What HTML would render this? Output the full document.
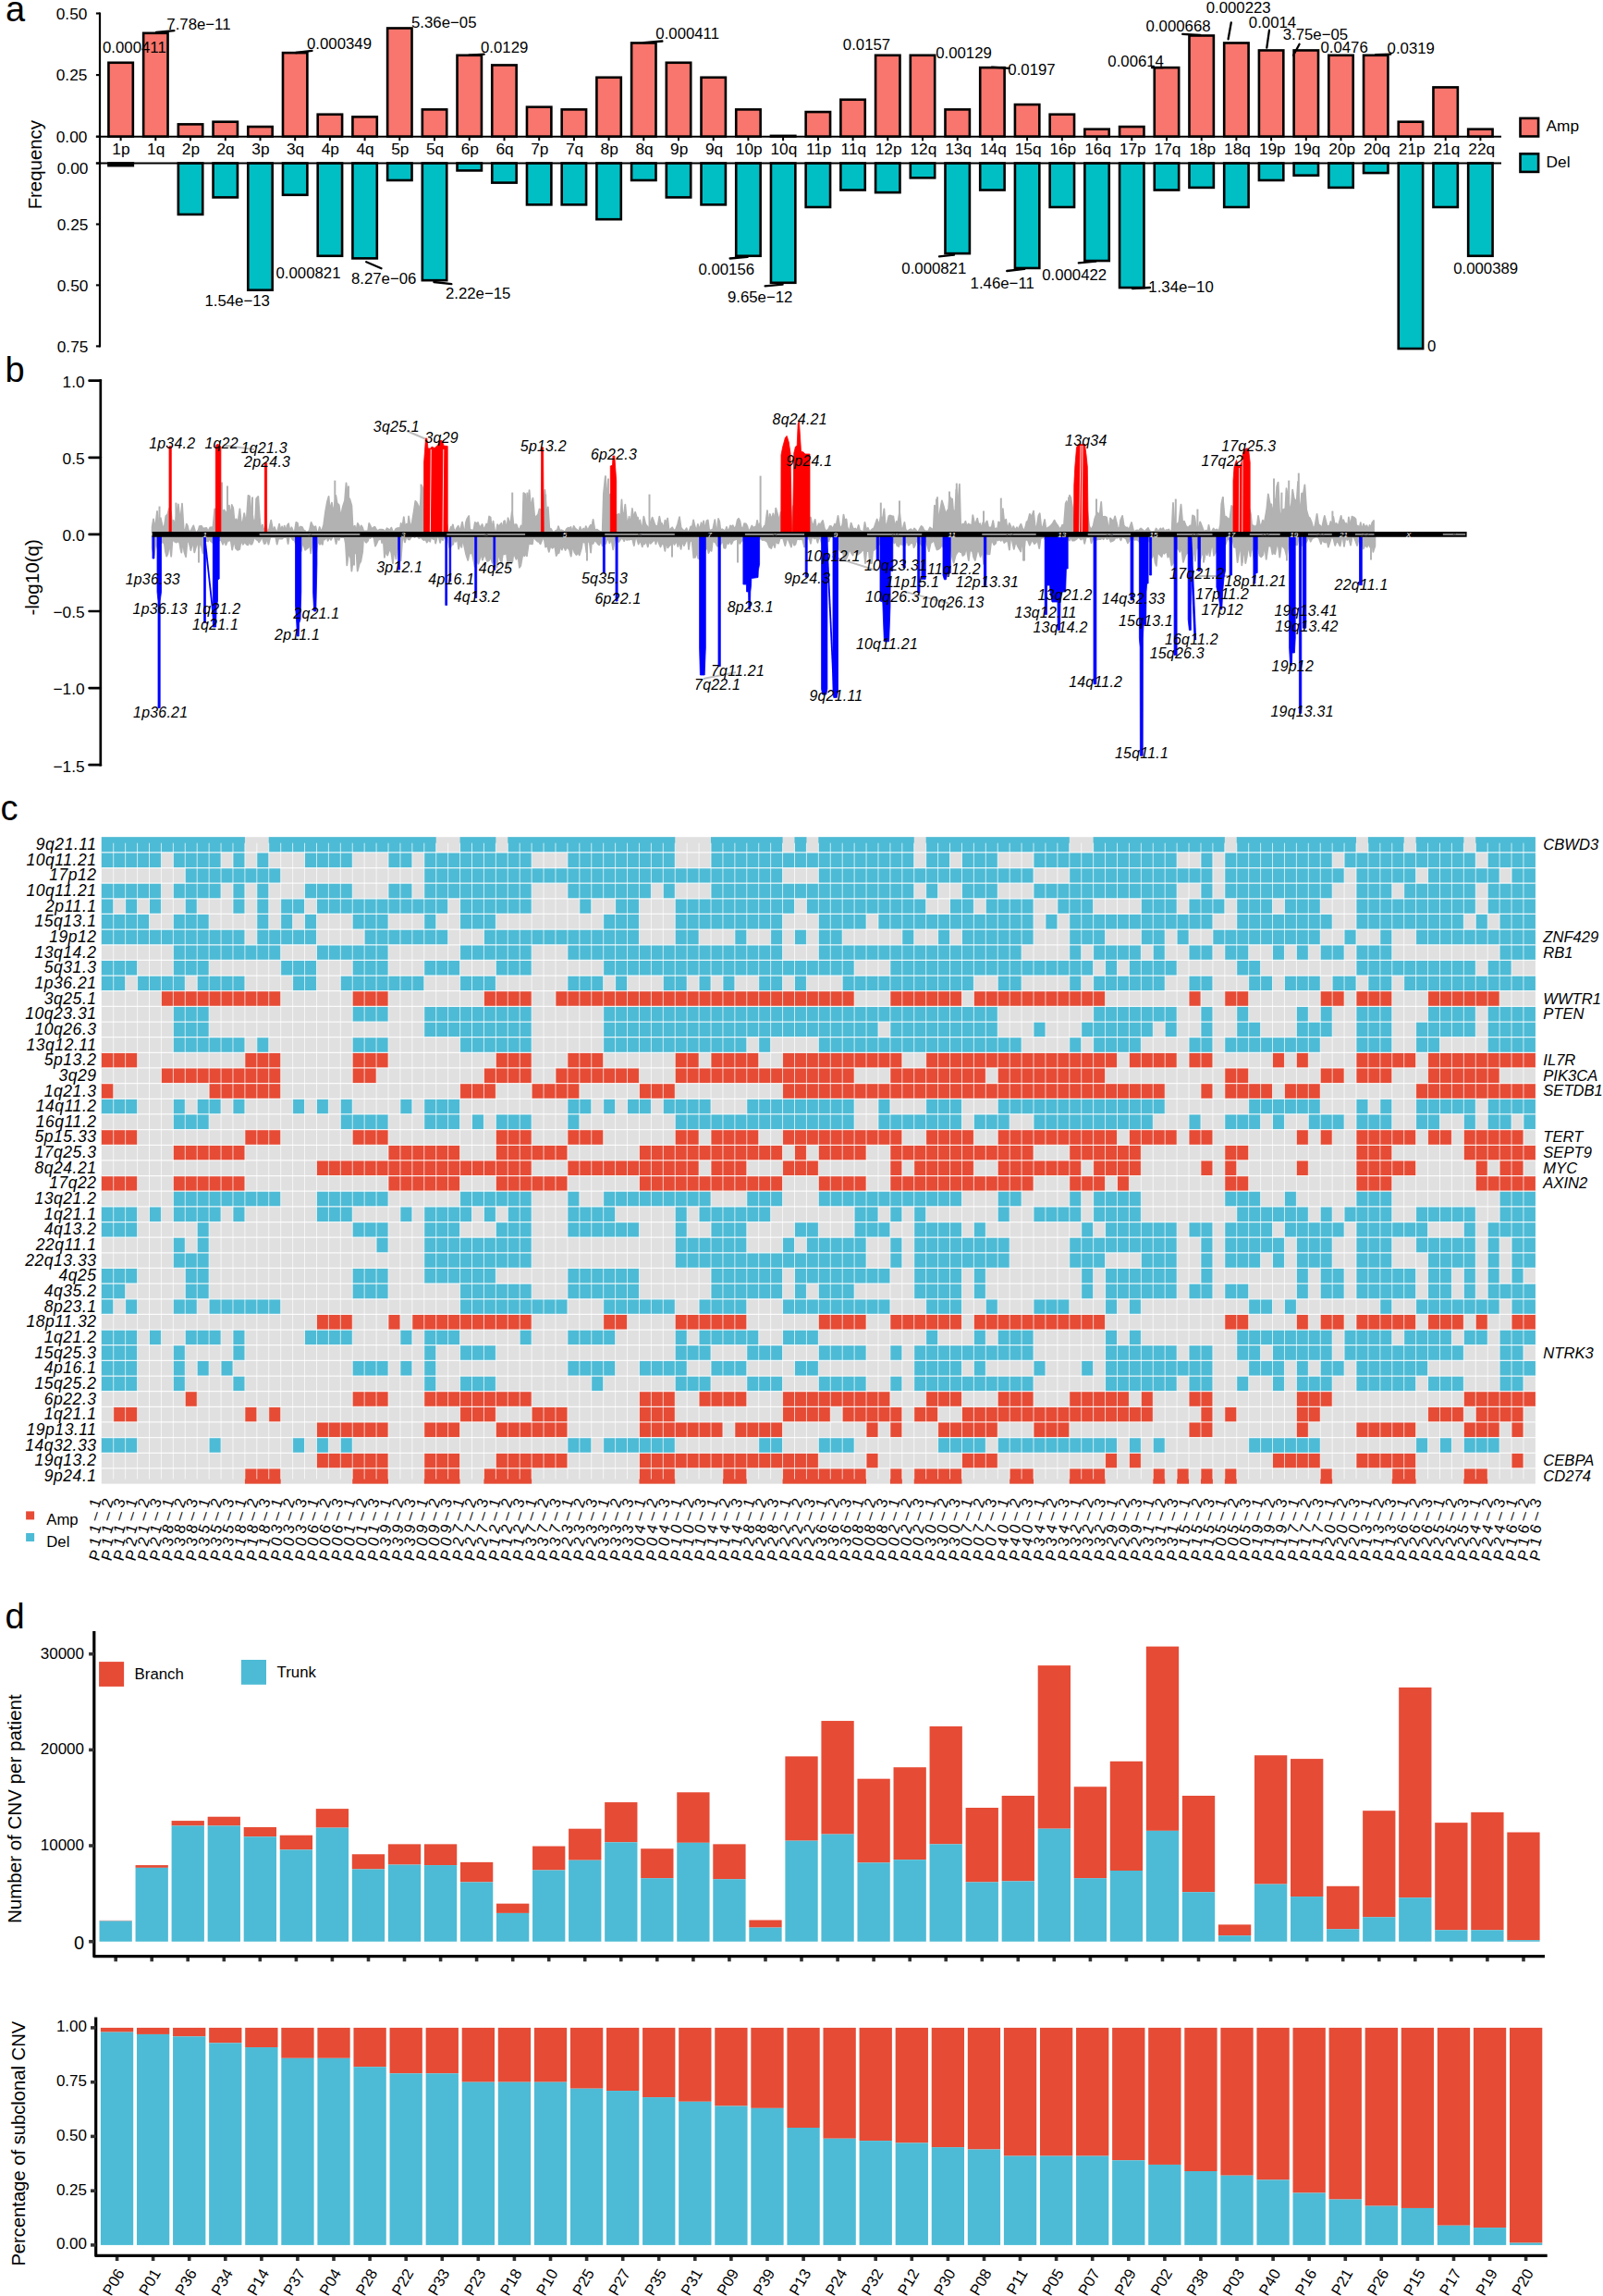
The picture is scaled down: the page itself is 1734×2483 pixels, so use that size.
<!DOCTYPE html>
<html><head><meta charset="utf-8"><title>Figure</title>
<style>html,body{margin:0;padding:0;background:#fff}svg{display:block}text{font-family:'Liberation Sans', Arial, Helvetica, sans-serif;fill:#000}</style>
</head><body>
<svg width="1734" height="2483" viewBox="0 0 1734 2483">
<rect x="0" y="0" width="1734" height="2483" fill="#fff"/>
<text x="6.0" y="22.5" font-size="38" text-anchor="start"  >a</text>
<text x="5.6" y="413.0" font-size="38" text-anchor="start"  >b</text>
<text x="0.5" y="887.2" font-size="38" text-anchor="start"  >c</text>
<text x="5.5" y="1761.0" font-size="38" text-anchor="start"  >d</text>
<g id="panelA">
<rect x="117.43" y="67.78" width="26.40" height="79.92" fill="#F8766D" stroke="#000" stroke-width="2.6" />
<rect x="117.43" y="176.50" width="26.40" height="2.64" fill="#00BFC4" stroke="#000" stroke-width="2.6" />
<text x="130.9" y="167.0" font-size="17.3" text-anchor="middle"  >1p</text>
<line x1="130.6" y1="147.7" x2="130.6" y2="152.2" stroke="#000" stroke-width="2" />
<rect x="155.14" y="35.81" width="26.40" height="111.89" fill="#F8766D" stroke="#000" stroke-width="2.6" />
<text x="168.7" y="167.0" font-size="17.3" text-anchor="middle"  >1q</text>
<line x1="168.3" y1="147.7" x2="168.3" y2="152.2" stroke="#000" stroke-width="2" />
<rect x="192.85" y="134.38" width="26.40" height="13.32" fill="#F8766D" stroke="#000" stroke-width="2.6" />
<rect x="192.85" y="176.50" width="26.40" height="55.41" fill="#00BFC4" stroke="#000" stroke-width="2.6" />
<text x="206.4" y="167.0" font-size="17.3" text-anchor="middle"  >2p</text>
<line x1="206.0" y1="147.7" x2="206.0" y2="152.2" stroke="#000" stroke-width="2" />
<rect x="230.56" y="131.72" width="26.40" height="15.98" fill="#F8766D" stroke="#000" stroke-width="2.6" />
<rect x="230.56" y="176.50" width="26.40" height="36.94" fill="#00BFC4" stroke="#000" stroke-width="2.6" />
<text x="244.1" y="167.0" font-size="17.3" text-anchor="middle"  >2q</text>
<line x1="243.8" y1="147.7" x2="243.8" y2="152.2" stroke="#000" stroke-width="2" />
<rect x="268.27" y="137.04" width="26.40" height="10.66" fill="#F8766D" stroke="#000" stroke-width="2.6" />
<rect x="268.27" y="176.50" width="26.40" height="137.21" fill="#00BFC4" stroke="#000" stroke-width="2.6" />
<text x="281.9" y="167.0" font-size="17.3" text-anchor="middle"  >3p</text>
<line x1="281.5" y1="147.7" x2="281.5" y2="152.2" stroke="#000" stroke-width="2" />
<rect x="305.99" y="57.12" width="26.40" height="90.58" fill="#F8766D" stroke="#000" stroke-width="2.6" />
<rect x="305.99" y="176.50" width="26.40" height="34.30" fill="#00BFC4" stroke="#000" stroke-width="2.6" />
<text x="319.6" y="167.0" font-size="17.3" text-anchor="middle"  >3q</text>
<line x1="319.2" y1="147.7" x2="319.2" y2="152.2" stroke="#000" stroke-width="2" />
<rect x="343.70" y="123.72" width="26.40" height="23.98" fill="#F8766D" stroke="#000" stroke-width="2.6" />
<rect x="343.70" y="176.50" width="26.40" height="100.27" fill="#00BFC4" stroke="#000" stroke-width="2.6" />
<text x="357.3" y="167.0" font-size="17.3" text-anchor="middle"  >4p</text>
<line x1="356.9" y1="147.7" x2="356.9" y2="152.2" stroke="#000" stroke-width="2" />
<rect x="381.41" y="126.39" width="26.40" height="21.31" fill="#F8766D" stroke="#000" stroke-width="2.6" />
<rect x="381.41" y="176.50" width="26.40" height="102.91" fill="#00BFC4" stroke="#000" stroke-width="2.6" />
<text x="395.1" y="167.0" font-size="17.3" text-anchor="middle"  >4q</text>
<line x1="394.6" y1="147.7" x2="394.6" y2="152.2" stroke="#000" stroke-width="2" />
<rect x="419.12" y="30.48" width="26.40" height="117.22" fill="#F8766D" stroke="#000" stroke-width="2.6" />
<rect x="419.12" y="176.50" width="26.40" height="18.47" fill="#00BFC4" stroke="#000" stroke-width="2.6" />
<text x="432.8" y="167.0" font-size="17.3" text-anchor="middle"  >5p</text>
<line x1="432.3" y1="147.7" x2="432.3" y2="152.2" stroke="#000" stroke-width="2" />
<rect x="456.83" y="118.40" width="26.40" height="29.30" fill="#F8766D" stroke="#000" stroke-width="2.6" />
<rect x="456.83" y="176.50" width="26.40" height="126.66" fill="#00BFC4" stroke="#000" stroke-width="2.6" />
<text x="470.6" y="167.0" font-size="17.3" text-anchor="middle"  >5q</text>
<line x1="470.0" y1="147.7" x2="470.0" y2="152.2" stroke="#000" stroke-width="2" />
<rect x="494.54" y="59.79" width="26.40" height="87.91" fill="#F8766D" stroke="#000" stroke-width="2.6" />
<rect x="494.54" y="176.50" width="26.40" height="7.92" fill="#00BFC4" stroke="#000" stroke-width="2.6" />
<text x="508.3" y="167.0" font-size="17.3" text-anchor="middle"  >6p</text>
<line x1="507.7" y1="147.7" x2="507.7" y2="152.2" stroke="#000" stroke-width="2" />
<rect x="532.25" y="70.44" width="26.40" height="77.26" fill="#F8766D" stroke="#000" stroke-width="2.6" />
<rect x="532.25" y="176.50" width="26.40" height="21.11" fill="#00BFC4" stroke="#000" stroke-width="2.6" />
<text x="546.0" y="167.0" font-size="17.3" text-anchor="middle"  >6q</text>
<line x1="545.5" y1="147.7" x2="545.5" y2="152.2" stroke="#000" stroke-width="2" />
<rect x="569.97" y="115.73" width="26.40" height="31.97" fill="#F8766D" stroke="#000" stroke-width="2.6" />
<rect x="569.97" y="176.50" width="26.40" height="44.86" fill="#00BFC4" stroke="#000" stroke-width="2.6" />
<text x="583.8" y="167.0" font-size="17.3" text-anchor="middle"  >7p</text>
<line x1="583.2" y1="147.7" x2="583.2" y2="152.2" stroke="#000" stroke-width="2" />
<rect x="607.68" y="118.40" width="26.40" height="29.30" fill="#F8766D" stroke="#000" stroke-width="2.6" />
<rect x="607.68" y="176.50" width="26.40" height="44.86" fill="#00BFC4" stroke="#000" stroke-width="2.6" />
<text x="621.5" y="167.0" font-size="17.3" text-anchor="middle"  >7q</text>
<line x1="620.9" y1="147.7" x2="620.9" y2="152.2" stroke="#000" stroke-width="2" />
<rect x="645.39" y="83.76" width="26.40" height="63.94" fill="#F8766D" stroke="#000" stroke-width="2.6" />
<rect x="645.39" y="176.50" width="26.40" height="60.69" fill="#00BFC4" stroke="#000" stroke-width="2.6" />
<text x="659.2" y="167.0" font-size="17.3" text-anchor="middle"  >8p</text>
<line x1="658.6" y1="147.7" x2="658.6" y2="152.2" stroke="#000" stroke-width="2" />
<rect x="683.10" y="46.47" width="26.40" height="101.23" fill="#F8766D" stroke="#000" stroke-width="2.6" />
<rect x="683.10" y="176.50" width="26.40" height="18.47" fill="#00BFC4" stroke="#000" stroke-width="2.6" />
<text x="697.0" y="167.0" font-size="17.3" text-anchor="middle"  >8q</text>
<line x1="696.3" y1="147.7" x2="696.3" y2="152.2" stroke="#000" stroke-width="2" />
<rect x="720.81" y="67.78" width="26.40" height="79.92" fill="#F8766D" stroke="#000" stroke-width="2.6" />
<rect x="720.81" y="176.50" width="26.40" height="36.94" fill="#00BFC4" stroke="#000" stroke-width="2.6" />
<text x="734.7" y="167.0" font-size="17.3" text-anchor="middle"  >9p</text>
<line x1="734.0" y1="147.7" x2="734.0" y2="152.2" stroke="#000" stroke-width="2" />
<rect x="758.52" y="83.76" width="26.40" height="63.94" fill="#F8766D" stroke="#000" stroke-width="2.6" />
<rect x="758.52" y="176.50" width="26.40" height="44.86" fill="#00BFC4" stroke="#000" stroke-width="2.6" />
<text x="772.5" y="167.0" font-size="17.3" text-anchor="middle"  >9q</text>
<line x1="771.7" y1="147.7" x2="771.7" y2="152.2" stroke="#000" stroke-width="2" />
<rect x="796.23" y="118.40" width="26.40" height="29.30" fill="#F8766D" stroke="#000" stroke-width="2.6" />
<rect x="796.23" y="176.50" width="26.40" height="100.27" fill="#00BFC4" stroke="#000" stroke-width="2.6" />
<text x="810.2" y="167.0" font-size="17.3" text-anchor="middle"  >10p</text>
<line x1="809.4" y1="147.7" x2="809.4" y2="152.2" stroke="#000" stroke-width="2" />
<rect x="833.95" y="146.90" width="26.40" height="0.80" fill="#F8766D" stroke="#000" stroke-width="2.6" />
<rect x="833.95" y="176.50" width="26.40" height="129.29" fill="#00BFC4" stroke="#000" stroke-width="2.6" />
<text x="847.9" y="167.0" font-size="17.3" text-anchor="middle"  >10q</text>
<line x1="847.1" y1="147.7" x2="847.1" y2="152.2" stroke="#000" stroke-width="2" />
<rect x="871.66" y="121.06" width="26.40" height="26.64" fill="#F8766D" stroke="#000" stroke-width="2.6" />
<rect x="871.66" y="176.50" width="26.40" height="47.50" fill="#00BFC4" stroke="#000" stroke-width="2.6" />
<text x="885.7" y="167.0" font-size="17.3" text-anchor="middle"  >11p</text>
<line x1="884.9" y1="147.7" x2="884.9" y2="152.2" stroke="#000" stroke-width="2" />
<rect x="909.37" y="107.74" width="26.40" height="39.96" fill="#F8766D" stroke="#000" stroke-width="2.6" />
<rect x="909.37" y="176.50" width="26.40" height="29.03" fill="#00BFC4" stroke="#000" stroke-width="2.6" />
<text x="923.4" y="167.0" font-size="17.3" text-anchor="middle"  >11q</text>
<line x1="922.6" y1="147.7" x2="922.6" y2="152.2" stroke="#000" stroke-width="2" />
<rect x="947.08" y="59.79" width="26.40" height="87.91" fill="#F8766D" stroke="#000" stroke-width="2.6" />
<rect x="947.08" y="176.50" width="26.40" height="31.66" fill="#00BFC4" stroke="#000" stroke-width="2.6" />
<text x="961.1" y="167.0" font-size="17.3" text-anchor="middle"  >12p</text>
<line x1="960.3" y1="147.7" x2="960.3" y2="152.2" stroke="#000" stroke-width="2" />
<rect x="984.79" y="59.79" width="26.40" height="87.91" fill="#F8766D" stroke="#000" stroke-width="2.6" />
<rect x="984.79" y="176.50" width="26.40" height="15.83" fill="#00BFC4" stroke="#000" stroke-width="2.6" />
<text x="998.9" y="167.0" font-size="17.3" text-anchor="middle"  >12q</text>
<line x1="998.0" y1="147.7" x2="998.0" y2="152.2" stroke="#000" stroke-width="2" />
<rect x="1022.50" y="118.40" width="26.40" height="29.30" fill="#F8766D" stroke="#000" stroke-width="2.6" />
<rect x="1022.50" y="176.50" width="26.40" height="97.63" fill="#00BFC4" stroke="#000" stroke-width="2.6" />
<text x="1036.6" y="167.0" font-size="17.3" text-anchor="middle"  >13q</text>
<line x1="1035.7" y1="147.7" x2="1035.7" y2="152.2" stroke="#000" stroke-width="2" />
<rect x="1060.21" y="73.11" width="26.40" height="74.59" fill="#F8766D" stroke="#000" stroke-width="2.6" />
<rect x="1060.21" y="176.50" width="26.40" height="29.03" fill="#00BFC4" stroke="#000" stroke-width="2.6" />
<text x="1074.4" y="167.0" font-size="17.3" text-anchor="middle"  >14q</text>
<line x1="1073.4" y1="147.7" x2="1073.4" y2="152.2" stroke="#000" stroke-width="2" />
<rect x="1097.93" y="113.07" width="26.40" height="34.63" fill="#F8766D" stroke="#000" stroke-width="2.6" />
<rect x="1097.93" y="176.50" width="26.40" height="113.46" fill="#00BFC4" stroke="#000" stroke-width="2.6" />
<text x="1112.1" y="167.0" font-size="17.3" text-anchor="middle"  >15q</text>
<line x1="1111.1" y1="147.7" x2="1111.1" y2="152.2" stroke="#000" stroke-width="2" />
<rect x="1135.64" y="123.72" width="26.40" height="23.98" fill="#F8766D" stroke="#000" stroke-width="2.6" />
<rect x="1135.64" y="176.50" width="26.40" height="47.50" fill="#00BFC4" stroke="#000" stroke-width="2.6" />
<text x="1149.8" y="167.0" font-size="17.3" text-anchor="middle"  >16p</text>
<line x1="1148.8" y1="147.7" x2="1148.8" y2="152.2" stroke="#000" stroke-width="2" />
<rect x="1173.35" y="139.71" width="26.40" height="7.99" fill="#F8766D" stroke="#000" stroke-width="2.6" />
<rect x="1173.35" y="176.50" width="26.40" height="105.55" fill="#00BFC4" stroke="#000" stroke-width="2.6" />
<text x="1187.6" y="167.0" font-size="17.3" text-anchor="middle"  >16q</text>
<line x1="1186.5" y1="147.7" x2="1186.5" y2="152.2" stroke="#000" stroke-width="2" />
<rect x="1211.06" y="137.04" width="26.40" height="10.66" fill="#F8766D" stroke="#000" stroke-width="2.6" />
<rect x="1211.06" y="176.50" width="26.40" height="134.57" fill="#00BFC4" stroke="#000" stroke-width="2.6" />
<text x="1225.3" y="167.0" font-size="17.3" text-anchor="middle"  >17p</text>
<line x1="1224.3" y1="147.7" x2="1224.3" y2="152.2" stroke="#000" stroke-width="2" />
<rect x="1248.77" y="73.11" width="26.40" height="74.59" fill="#F8766D" stroke="#000" stroke-width="2.6" />
<rect x="1248.77" y="176.50" width="26.40" height="29.03" fill="#00BFC4" stroke="#000" stroke-width="2.6" />
<text x="1263.0" y="167.0" font-size="17.3" text-anchor="middle"  >17q</text>
<line x1="1262.0" y1="147.7" x2="1262.0" y2="152.2" stroke="#000" stroke-width="2" />
<rect x="1286.48" y="38.48" width="26.40" height="109.22" fill="#F8766D" stroke="#000" stroke-width="2.6" />
<rect x="1286.48" y="176.50" width="26.40" height="26.39" fill="#00BFC4" stroke="#000" stroke-width="2.6" />
<text x="1300.8" y="167.0" font-size="17.3" text-anchor="middle"  >18p</text>
<line x1="1299.7" y1="147.7" x2="1299.7" y2="152.2" stroke="#000" stroke-width="2" />
<rect x="1324.19" y="46.47" width="26.40" height="101.23" fill="#F8766D" stroke="#000" stroke-width="2.6" />
<rect x="1324.19" y="176.50" width="26.40" height="47.50" fill="#00BFC4" stroke="#000" stroke-width="2.6" />
<text x="1338.5" y="167.0" font-size="17.3" text-anchor="middle"  >18q</text>
<line x1="1337.4" y1="147.7" x2="1337.4" y2="152.2" stroke="#000" stroke-width="2" />
<rect x="1361.91" y="54.46" width="26.40" height="93.24" fill="#F8766D" stroke="#000" stroke-width="2.6" />
<rect x="1361.91" y="176.50" width="26.40" height="18.47" fill="#00BFC4" stroke="#000" stroke-width="2.6" />
<text x="1376.3" y="167.0" font-size="17.3" text-anchor="middle"  >19p</text>
<line x1="1375.1" y1="147.7" x2="1375.1" y2="152.2" stroke="#000" stroke-width="2" />
<rect x="1399.62" y="54.46" width="26.40" height="93.24" fill="#F8766D" stroke="#000" stroke-width="2.6" />
<rect x="1399.62" y="176.50" width="26.40" height="13.19" fill="#00BFC4" stroke="#000" stroke-width="2.6" />
<text x="1414.0" y="167.0" font-size="17.3" text-anchor="middle"  >19q</text>
<line x1="1412.8" y1="147.7" x2="1412.8" y2="152.2" stroke="#000" stroke-width="2" />
<rect x="1437.33" y="59.79" width="26.40" height="87.91" fill="#F8766D" stroke="#000" stroke-width="2.6" />
<rect x="1437.33" y="176.50" width="26.40" height="26.39" fill="#00BFC4" stroke="#000" stroke-width="2.6" />
<text x="1451.7" y="167.0" font-size="17.3" text-anchor="middle"  >20p</text>
<line x1="1450.5" y1="147.7" x2="1450.5" y2="152.2" stroke="#000" stroke-width="2" />
<rect x="1475.04" y="59.79" width="26.40" height="87.91" fill="#F8766D" stroke="#000" stroke-width="2.6" />
<rect x="1475.04" y="176.50" width="26.40" height="10.55" fill="#00BFC4" stroke="#000" stroke-width="2.6" />
<text x="1489.5" y="167.0" font-size="17.3" text-anchor="middle"  >20q</text>
<line x1="1488.2" y1="147.7" x2="1488.2" y2="152.2" stroke="#000" stroke-width="2" />
<rect x="1512.75" y="131.72" width="26.40" height="15.98" fill="#F8766D" stroke="#000" stroke-width="2.6" />
<rect x="1512.75" y="176.50" width="26.40" height="200.54" fill="#00BFC4" stroke="#000" stroke-width="2.6" />
<text x="1527.2" y="167.0" font-size="17.3" text-anchor="middle"  >21p</text>
<line x1="1526.0" y1="147.7" x2="1526.0" y2="152.2" stroke="#000" stroke-width="2" />
<rect x="1550.46" y="94.42" width="26.40" height="53.28" fill="#F8766D" stroke="#000" stroke-width="2.6" />
<rect x="1550.46" y="176.50" width="26.40" height="47.50" fill="#00BFC4" stroke="#000" stroke-width="2.6" />
<text x="1564.9" y="167.0" font-size="17.3" text-anchor="middle"  >21q</text>
<line x1="1563.7" y1="147.7" x2="1563.7" y2="152.2" stroke="#000" stroke-width="2" />
<rect x="1588.17" y="139.71" width="26.40" height="7.99" fill="#F8766D" stroke="#000" stroke-width="2.6" />
<rect x="1588.17" y="176.50" width="26.40" height="100.27" fill="#00BFC4" stroke="#000" stroke-width="2.6" />
<text x="1602.7" y="167.0" font-size="17.3" text-anchor="middle"  >22q</text>
<line x1="1601.4" y1="147.7" x2="1601.4" y2="152.2" stroke="#000" stroke-width="2" />
<line x1="108.0" y1="13.4" x2="108.0" y2="375.5" stroke="#000" stroke-width="2.2" />
<line x1="103.9" y1="147.7" x2="1624.0" y2="147.7" stroke="#000" stroke-width="2.1" />
<line x1="103.9" y1="176.5" x2="1624.0" y2="176.5" stroke="#000" stroke-width="2.1" />
<line x1="103.9" y1="14.5" x2="108.0" y2="14.5" stroke="#000" stroke-width="2.1" />
<text x="94.4" y="20.5" font-size="17.3" text-anchor="end"  >0.50</text>
<line x1="103.9" y1="81.1" x2="108.0" y2="81.1" stroke="#000" stroke-width="2.1" />
<text x="94.4" y="87.1" font-size="17.3" text-anchor="end"  >0.25</text>
<line x1="103.9" y1="147.7" x2="108.0" y2="147.7" stroke="#000" stroke-width="2.1" />
<text x="94.4" y="153.7" font-size="17.3" text-anchor="end"  >0.00</text>
<line x1="103.9" y1="176.5" x2="108.0" y2="176.5" stroke="#000" stroke-width="2.1" />
<text x="95.4" y="188.3" font-size="17.3" text-anchor="end"  >0.00</text>
<line x1="103.9" y1="242.5" x2="108.0" y2="242.5" stroke="#000" stroke-width="2.1" />
<text x="95.4" y="249.4" font-size="17.3" text-anchor="end"  >0.25</text>
<line x1="103.9" y1="308.4" x2="108.0" y2="308.4" stroke="#000" stroke-width="2.1" />
<text x="95.4" y="315.3" font-size="17.3" text-anchor="end"  >0.50</text>
<line x1="103.9" y1="374.4" x2="108.0" y2="374.4" stroke="#000" stroke-width="2.1" />
<text x="95.4" y="381.3" font-size="17.3" text-anchor="end"  >0.75</text>
<text transform="translate(44.9,178.2) rotate(-90)" font-size="20.4" text-anchor="middle">Frequency</text>
<text x="111.0" y="56.5" font-size="16.8" text-anchor="start"  >0.000411</text>
<line x1="169.0" y1="35.0" x2="188.4" y2="33.2" stroke="#000" stroke-width="2.3" stroke-linecap="round"/>
<text x="180.3" y="32.0" font-size="16.8" text-anchor="start"  >7.78e−11</text>
<line x1="320.0" y1="57.0" x2="337.5" y2="54.8" stroke="#000" stroke-width="2.3" stroke-linecap="round"/>
<text x="332.0" y="53.2" font-size="16.8" text-anchor="start"  >0.000349</text>
<text x="445.0" y="29.8" font-size="16.8" text-anchor="start"  >5.36e−05</text>
<line x1="507.4" y1="59.7" x2="523.7" y2="58.6" stroke="#000" stroke-width="2.3" stroke-linecap="round"/>
<text x="520.0" y="57.0" font-size="16.8" text-anchor="start"  >0.0129</text>
<line x1="696.3" y1="46.1" x2="716.4" y2="44.5" stroke="#000" stroke-width="2.3" stroke-linecap="round"/>
<text x="709.3" y="42.3" font-size="16.8" text-anchor="start"  >0.000411</text>
<text x="298.5" y="301.2" font-size="16.8" text-anchor="start"  >0.000821</text>
<text x="221.4" y="331.0" font-size="16.8" text-anchor="start"  >1.54e−13</text>
<line x1="396.2" y1="283.3" x2="412.5" y2="290.3" stroke="#000" stroke-width="2.3" stroke-linecap="round"/>
<text x="379.9" y="306.6" font-size="16.8" text-anchor="start"  >8.27e−06</text>
<line x1="469.4" y1="305.0" x2="488.4" y2="307.2" stroke="#000" stroke-width="2.3" stroke-linecap="round"/>
<text x="481.9" y="323.4" font-size="16.8" text-anchor="start"  >2.22e−15</text>
<line x1="789.6" y1="279.5" x2="808.6" y2="277.9" stroke="#000" stroke-width="2.3" stroke-linecap="round"/>
<text x="755.4" y="297.4" font-size="16.8" text-anchor="start"  >0.00156</text>
<line x1="827.6" y1="309.3" x2="846.6" y2="307.7" stroke="#000" stroke-width="2.3" stroke-linecap="round"/>
<text x="786.9" y="326.7" font-size="16.8" text-anchor="start"  >9.65e−12</text>
<text x="911.8" y="54.3" font-size="16.8" text-anchor="start"  >0.0157</text>
<text x="1012.2" y="63.0" font-size="16.8" text-anchor="start"  >0.00129</text>
<line x1="1072.9" y1="72.7" x2="1091.9" y2="73.8" stroke="#000" stroke-width="2.3" stroke-linecap="round"/>
<text x="1090.3" y="81.4" font-size="16.8" text-anchor="start"  >0.0197</text>
<line x1="1246.0" y1="73.2" x2="1258.0" y2="73.2" stroke="#000" stroke-width="2.3" stroke-linecap="round"/>
<text x="1198.3" y="71.6" font-size="16.8" text-anchor="start"  >0.00614</text>
<line x1="1279.2" y1="36.9" x2="1298.2" y2="38.0" stroke="#000" stroke-width="2.3" stroke-linecap="round"/>
<text x="1239.6" y="33.6" font-size="16.8" text-anchor="start"  >0.000668</text>
<line x1="1331.8" y1="24.4" x2="1328.6" y2="42.3" stroke="#000" stroke-width="2.3" stroke-linecap="round"/>
<text x="1304.7" y="14.1" font-size="16.8" text-anchor="start"  >0.000223</text>
<line x1="1373.0" y1="32.6" x2="1370.3" y2="51.6" stroke="#000" stroke-width="2.3" stroke-linecap="round"/>
<text x="1350.8" y="29.8" font-size="16.8" text-anchor="start"  >0.0014</text>
<line x1="1405.6" y1="47.8" x2="1399.1" y2="59.7" stroke="#000" stroke-width="2.3" stroke-linecap="round"/>
<text x="1387.7" y="43.4" font-size="16.8" text-anchor="start"  >3.75e−05</text>
<text x="1428.4" y="57.0" font-size="16.8" text-anchor="start"  >0.0476</text>
<line x1="1488.1" y1="59.2" x2="1504.4" y2="58.6" stroke="#000" stroke-width="2.3" stroke-linecap="round"/>
<text x="1500.6" y="57.5" font-size="16.8" text-anchor="start"  >0.0319</text>
<line x1="1016.0" y1="277.3" x2="1032.0" y2="275.7" stroke="#000" stroke-width="2.3" stroke-linecap="round"/>
<text x="975.3" y="295.8" font-size="16.8" text-anchor="start"  >0.000821</text>
<line x1="1089.2" y1="293.0" x2="1108.2" y2="290.9" stroke="#000" stroke-width="2.3" stroke-linecap="round"/>
<text x="1049.6" y="312.0" font-size="16.8" text-anchor="start"  >1.46e−11</text>
<line x1="1166.8" y1="284.4" x2="1185.3" y2="282.7" stroke="#000" stroke-width="2.3" stroke-linecap="round"/>
<text x="1127.2" y="302.8" font-size="16.8" text-anchor="start"  >0.000422</text>
<line x1="1224.9" y1="312.0" x2="1243.9" y2="311.0" stroke="#000" stroke-width="2.3" stroke-linecap="round"/>
<text x="1242.3" y="315.8" font-size="16.8" text-anchor="start"  >1.34e−10</text>
<text x="1544.0" y="379.9" font-size="16.8" text-anchor="start"  >0</text>
<text x="1572.2" y="296.3" font-size="16.8" text-anchor="start"  >0.000389</text>
<rect x="1644.50" y="127.90" width="19.60" height="19.60" fill="#F8766D" stroke="#000" stroke-width="2.6" />
<rect x="1644.50" y="166.30" width="19.60" height="19.60" fill="#00BFC4" stroke="#000" stroke-width="2.6" />
<text x="1672.6" y="142.2" font-size="17.3" text-anchor="start"  >Amp</text>
<text x="1672.6" y="180.6" font-size="17.3" text-anchor="start"  >Del</text>
</g>
<g id="panelB">
<line x1="108.8" y1="410.3" x2="108.8" y2="828.5" stroke="#000" stroke-width="2.7" />
<line x1="96.6" y1="411.7" x2="108.8" y2="411.7" stroke="#000" stroke-width="2.7" stroke-linecap="round"/>
<text x="91.6" y="419.0" font-size="17.3" text-anchor="end"  >1.0</text>
<line x1="96.6" y1="494.8" x2="108.8" y2="494.8" stroke="#000" stroke-width="2.7" stroke-linecap="round"/>
<text x="91.6" y="502.1" font-size="17.3" text-anchor="end"  >0.5</text>
<line x1="96.6" y1="577.9" x2="108.8" y2="577.9" stroke="#000" stroke-width="2.7" stroke-linecap="round"/>
<text x="91.6" y="585.2" font-size="17.3" text-anchor="end"  >0.0</text>
<line x1="96.6" y1="661.0" x2="108.8" y2="661.0" stroke="#000" stroke-width="2.7" stroke-linecap="round"/>
<text x="91.6" y="668.3" font-size="17.3" text-anchor="end"  >−0.5</text>
<line x1="96.6" y1="744.1" x2="108.8" y2="744.1" stroke="#000" stroke-width="2.7" stroke-linecap="round"/>
<text x="91.6" y="751.4" font-size="17.3" text-anchor="end"  >−1.0</text>
<line x1="96.6" y1="827.2" x2="108.8" y2="827.2" stroke="#000" stroke-width="2.7" stroke-linecap="round"/>
<text x="91.6" y="834.5" font-size="17.3" text-anchor="end"  >−1.5</text>
<text transform="translate(41.9,624.4) rotate(-90)" font-size="20.6" text-anchor="middle">-log10(q)</text>
<path d="M164.6,575.6L164.6,569.8L166.0,561.3L167.1,568.2L168.4,567.3L170.0,552.9L171.8,569.3L173.8,560.2L175.6,568.6L177.3,572.6L179.4,558.2L181.4,556.0L182.9,550.0L185.0,554.0L186.2,566.3L187.7,562.8L189.3,570.2L191.0,556.2L192.8,545.3L195.0,564.3L197.0,544.7L198.7,572.9L200.7,572.6L201.8,566.6L202.9,568.7L204.1,574.1L206.1,574.4L207.2,572.5L209.3,568.4L211.4,575.4L213.2,575.2L214.7,573.1L215.7,569.1L217.9,568.8L219.4,571.4L221.1,571.5L223.3,571.0L225.1,574.8L227.3,570.5L228.3,570.3L229.3,570.1L230.4,570.8L232.2,550.3L234.1,555.5L235.9,530.5L237.5,543.6L238.9,553.0L240.6,553.0L242.5,551.4L244.4,554.2L246.4,554.5L247.9,546.6L249.3,561.1L250.8,546.0L252.2,549.4L253.8,566.0L255.4,561.3L257.4,564.9L259.4,550.4L260.8,564.8L262.7,564.4L264.2,555.1L266.4,566.8L268.5,535.8L270.0,536.5L271.3,550.0L273.1,556.5L274.5,566.3L276.2,561.2L277.2,539.4L279.3,536.9L281.0,561.7L282.2,573.6L283.9,567.5L285.6,574.8L287.6,568.4L289.1,574.0L291.0,573.2L293.2,562.6L294.2,567.9L295.2,574.8L296.9,570.0L298.8,575.4L299.9,575.4L302.1,566.7L303.7,574.6L305.1,569.4L306.6,574.6L307.7,568.7L309.2,575.1L310.6,568.4L312.1,566.3L313.6,574.4L315.4,570.3L317.0,574.3L318.8,574.6L320.3,564.9L321.8,565.5L323.1,572.7L325.1,569.5L327.0,570.1L328.7,574.2L329.7,573.7L330.8,575.4L332.8,575.5L334.8,573.6L336.6,564.8L338.3,568.8L340.2,570.2L341.4,569.3L342.4,574.2L344.4,575.2L345.7,570.0L347.2,574.6L348.6,572.8L350.2,567.2L352.1,552.8L354.0,542.5L355.6,536.8L356.8,552.3L358.9,543.6L360.8,556.5L362.0,545.5L363.3,536.0L364.6,544.0L366.7,546.2L367.9,554.7L369.4,555.7L370.8,548.0L373.0,541.3L374.5,522.4L376.2,539.4L378.2,539.2L380.4,546.8L381.6,570.8L383.8,568.6L385.0,575.2L386.9,566.0L388.2,568.3L389.7,573.1L390.8,568.4L392.2,570.8L393.2,574.6L394.8,574.3L397.0,574.4L398.1,574.1L399.2,566.0L400.4,568.1L402.3,572.3L404.1,570.3L405.4,569.7L407.2,573.0L408.8,574.0L410.6,572.7L412.4,572.7L414.5,572.9L416.6,574.9L418.5,571.3L420.2,572.2L421.4,574.0L423.3,570.6L424.8,574.8L426.8,574.5L428.1,572.1L429.5,571.3L431.4,570.8L432.6,573.4L433.7,565.8L434.9,572.3L436.8,559.2L438.5,572.4L439.8,566.7L441.0,571.0L442.1,558.3L444.2,571.8L445.9,564.2L447.7,553.1L449.3,541.9L450.3,542.8L451.9,545.6L453.1,551.5L454.7,545.8L456.4,525.2L457.6,529.1L458.6,574.1L459.7,558.4L461.1,549.3L462.3,550.4L464.4,560.6L465.8,546.4L467.8,560.4L469.4,575.3L470.5,574.5L472.1,562.9L473.6,565.5L475.2,564.4L476.4,549.0L477.8,572.1L479.5,575.6L480.8,555.9L482.3,574.2L483.5,567.1L484.6,574.5L486.2,575.5L487.7,569.8L488.8,571.2L489.8,567.3L490.9,572.2L492.7,575.3L493.7,571.7L495.7,568.7L497.0,574.9L499.0,568.7L500.1,564.6L501.8,574.6L502.9,574.6L504.0,565.1L505.2,561.2L507.2,558.0L508.2,572.4L510.4,573.6L512.4,573.2L513.8,564.9L515.0,566.2L517.0,564.9L518.4,569.4L520.4,569.2L521.6,567.0L523.4,572.9L524.6,570.8L526.2,566.5L527.3,571.5L529.1,558.5L530.6,559.4L532.0,574.4L533.5,563.7L535.2,574.4L537.0,574.5L538.1,567.1L539.2,571.1L540.4,568.2L542.4,565.8L544.0,574.0L545.1,563.7L546.1,563.1L548.2,572.9L549.5,560.2L551.2,565.3L552.6,563.9L553.8,553.4L555.8,570.2L557.3,567.2L558.7,567.2L560.4,571.8L562.2,572.6L563.6,568.3L565.1,575.1L566.3,533.1L568.4,534.6L570.5,549.6L572.6,530.2L574.2,549.7L576.4,538.7L578.5,561.1L580.4,558.1L582.1,556.5L583.5,550.5L585.4,551.2L586.5,558.9L587.6,556.4L589.4,529.9L591.5,560.7L592.8,548.3L594.5,574.3L595.8,571.7L597.8,575.2L599.8,575.4L601.4,573.6L602.5,574.4L604.0,569.2L606.2,575.3L607.2,573.2L608.3,573.8L609.7,574.4L611.2,575.5L612.7,572.3L614.8,570.7L615.9,572.0L617.5,569.9L618.9,575.6L620.7,568.9L622.2,571.6L624.2,573.0L625.8,575.3L627.6,569.9L629.1,574.9L631.1,571.5L632.3,574.8L633.8,569.1L635.9,574.0L637.6,569.9L638.9,567.7L640.0,570.5L641.6,561.8L643.4,572.8L644.6,573.0L646.0,572.7L648.2,574.4L649.5,574.8L651.7,574.9L652.9,534.2L654.8,515.4L656.8,535.6L658.9,535.7L660.5,534.1L661.6,555.9L662.7,541.7L664.9,548.1L666.1,557.3L667.3,556.8L669.4,555.9L671.0,561.7L672.5,540.5L673.6,561.5L675.1,555.0L676.3,545.6L678.5,569.1L680.6,558.7L682.0,569.2L683.9,550.0L685.4,561.2L687.1,553.8L688.8,559.6L690.0,559.6L691.2,574.0L692.3,562.4L694.3,574.7L696.4,558.7L698.2,566.5L699.3,568.5L700.5,569.2L702.1,573.6L703.5,565.2L705.6,559.7L707.0,563.3L708.1,566.7L709.5,569.5L711.7,568.3L713.3,558.7L715.0,567.4L716.0,566.0L718.0,571.7L719.4,562.7L720.7,565.8L722.2,560.5L723.6,573.0L725.1,572.4L727.2,570.3L728.4,572.6L729.6,573.6L730.9,572.8L733.1,566.7L735.0,559.2L736.6,570.5L738.6,573.1L740.7,574.3L742.7,571.3L743.7,574.8L745.7,574.0L747.2,569.4L748.9,569.4L750.1,562.4L751.2,567.6L753.3,574.8L754.9,566.9L756.9,573.5L758.6,565.1L760.1,572.8L761.1,563.3L762.8,574.1L764.4,563.2L765.7,562.5L767.3,573.9L769.4,573.2L771.2,572.4L773.3,562.1L774.5,573.5L775.9,572.1L777.1,561.0L778.3,564.0L779.5,574.7L781.1,572.2L783.1,573.6L784.6,574.1L785.9,569.9L787.1,573.5L788.7,572.7L790.0,568.4L791.2,569.6L792.8,568.3L794.4,572.4L796.4,568.6L797.7,562.4L799.0,560.7L800.4,563.5L801.6,569.9L803.5,572.5L805.1,566.1L806.8,566.3L808.4,569.2L809.6,573.6L811.3,573.2L813.3,568.5L815.3,571.6L816.4,569.6L817.8,570.4L819.1,562.9L820.5,570.1L821.9,566.3L823.4,570.9L825.1,572.7L826.7,568.8L827.9,568.6L830.0,552.2L831.5,570.0L832.8,556.0L835.0,562.2L836.3,555.3L838.0,564.4L839.2,549.6L841.1,556.2L843.0,564.1L844.5,554.0L846.4,571.2L847.8,564.8L849.8,563.3L851.6,559.8L852.9,562.3L854.4,574.5L856.2,570.6L857.8,547.4L859.6,575.3L861.3,558.5L862.6,569.1L864.4,560.6L865.6,561.4L867.3,574.7L869.1,555.9L870.1,570.4L871.6,557.7L873.3,571.0L874.3,571.0L875.5,572.2L876.9,559.4L878.9,569.4L880.4,565.8L881.7,561.9L883.1,571.2L884.2,570.5L885.9,566.1L886.9,571.6L888.1,566.3L890.0,563.0L891.9,571.8L893.3,573.9L894.9,573.6L896.6,571.7L897.7,568.9L899.2,569.1L900.8,572.5L902.9,566.7L904.5,568.3L906.5,558.0L908.3,569.4L909.7,571.1L911.4,567.0L912.5,556.7L913.6,562.4L915.5,561.5L916.6,570.2L918.7,575.4L920.6,565.6L922.4,570.8L924.0,572.6L925.3,571.5L926.9,574.6L928.7,568.0L930.3,574.6L931.3,573.9L933.1,575.1L934.2,574.2L935.5,564.9L936.9,572.5L938.8,570.9L940.6,575.0L941.9,573.9L943.7,572.2L945.6,570.9L947.2,566.1L948.7,561.5L950.8,568.4L952.7,559.1L953.9,559.9L955.1,559.4L956.4,550.5L957.9,571.9L959.9,565.0L961.5,558.0L962.5,557.5L963.9,557.8L965.0,558.1L966.3,558.3L968.4,571.8L969.7,563.9L971.1,566.0L973.1,553.7L975.1,572.0L976.4,572.8L978.4,564.9L979.6,572.5L981.7,574.8L983.8,573.0L985.2,572.2L987.3,574.6L989.0,571.5L990.2,572.6L992.2,575.1L993.6,574.7L995.3,571.1L996.6,568.9L998.2,570.4L999.3,573.2L1000.9,574.1L1002.9,574.6L1004.3,574.0L1005.9,570.5L1007.5,571.8L1009.7,573.1L1010.9,546.6L1012.0,551.6L1014.0,537.8L1015.0,567.3L1016.9,552.7L1018.9,541.5L1020.9,547.9L1023.0,556.0L1025.0,551.6L1026.0,551.2L1027.1,536.5L1028.4,539.1L1030.1,539.7L1031.1,552.6L1033.3,552.2L1034.4,529.4L1036.1,547.2L1037.9,523.6L1039.3,572.8L1041.3,566.5L1043.0,567.1L1044.4,563.8L1045.7,569.6L1047.6,566.4L1049.8,567.8L1050.9,571.0L1052.3,557.2L1053.9,565.0L1055.6,565.6L1057.2,560.7L1059.1,570.0L1060.2,566.2L1062.1,572.4L1063.2,565.2L1064.2,572.7L1066.4,565.3L1067.7,563.5L1069.5,571.7L1071.1,570.2L1072.5,570.9L1074.2,563.2L1075.8,573.2L1077.5,571.3L1078.9,573.3L1080.1,564.5L1081.8,565.4L1083.6,565.1L1084.8,550.1L1086.2,564.4L1088.2,561.7L1089.7,573.2L1091.8,565.9L1093.6,569.7L1094.9,575.3L1096.2,569.2L1098.1,573.7L1100.0,570.2L1101.0,574.8L1102.5,570.1L1104.4,566.8L1105.8,570.6L1107.8,574.8L1109.6,568.4L1110.6,564.2L1111.8,564.3L1113.9,555.8L1116.0,559.1L1118.0,552.7L1119.9,571.3L1121.7,568.9L1123.4,557.6L1124.7,555.2L1126.2,569.4L1128.0,570.2L1130.1,562.0L1131.5,572.6L1133.5,570.6L1135.3,569.7L1137.0,568.2L1138.9,565.7L1140.6,562.6L1142.3,566.1L1144.3,568.6L1145.6,571.0L1147.3,571.9L1149.2,567.6L1150.7,570.8L1152.7,544.6L1153.8,542.0L1155.5,551.6L1157.0,535.6L1158.4,538.4L1160.5,551.4L1162.6,573.9L1164.6,572.0L1166.6,565.0L1168.5,550.6L1170.2,572.9L1172.4,557.6L1173.7,570.4L1174.9,570.5L1176.1,552.1L1178.2,568.8L1180.1,572.6L1181.2,571.3L1182.6,568.8L1184.1,561.4L1186.1,555.8L1187.4,554.5L1189.5,558.2L1191.2,542.8L1192.3,559.7L1193.4,558.8L1195.4,558.7L1197.1,559.6L1198.7,570.1L1199.9,572.2L1201.0,560.3L1202.9,562.6L1205.0,562.3L1206.1,558.3L1208.1,566.5L1209.2,572.3L1211.1,570.5L1212.1,562.5L1214.1,557.9L1215.7,568.4L1217.7,570.7L1219.4,570.4L1220.8,572.9L1221.8,571.3L1224.0,565.0L1226.0,573.8L1227.3,575.0L1228.5,573.9L1230.2,573.3L1231.4,574.8L1232.7,572.7L1234.1,571.4L1236.3,573.1L1238.1,575.0L1239.8,573.2L1241.9,571.0L1243.0,573.3L1245.2,575.4L1247.3,574.8L1249.0,575.1L1250.7,571.5L1252.7,574.8L1254.4,572.8L1255.5,571.4L1256.8,574.3L1258.1,571.2L1260.1,575.5L1261.6,573.1L1262.9,573.4L1264.3,572.5L1266.0,575.6L1267.6,573.3L1269.0,543.9L1270.2,563.1L1271.7,567.7L1273.5,566.6L1275.3,564.9L1277.5,545.6L1279.2,565.0L1281.0,563.7L1282.9,568.8L1285.1,570.9L1287.3,568.3L1289.0,569.2L1290.0,557.3L1292.1,558.6L1293.6,568.6L1294.7,571.5L1296.7,570.6L1298.2,564.3L1300.4,569.9L1302.4,575.2L1304.4,573.6L1306.4,574.9L1307.5,567.8L1308.9,575.1L1311.0,574.4L1312.7,571.5L1314.2,573.8L1316.3,572.4L1318.4,575.2L1320.1,567.3L1321.3,545.1L1322.7,537.9L1324.6,558.4L1326.1,558.7L1328.2,560.8L1330.3,561.7L1332.2,546.8L1334.2,549.1L1335.5,562.4L1337.0,565.5L1338.3,553.2L1339.4,551.5L1341.2,574.6L1342.6,554.3L1344.7,569.7L1345.9,567.5L1347.1,564.8L1348.7,573.6L1350.1,556.6L1351.6,550.7L1352.9,555.6L1354.1,567.8L1356.1,568.6L1358.1,569.9L1359.9,567.4L1361.1,557.8L1362.6,566.9L1364.4,568.8L1365.9,562.7L1367.7,565.5L1369.1,557.5L1370.3,550.3L1371.8,534.5L1373.9,545.6L1375.3,545.3L1376.7,556.0L1378.6,542.4L1380.2,538.7L1381.2,526.3L1382.6,521.6L1384.1,554.3L1385.6,557.3L1387.3,551.4L1388.9,550.8L1390.4,549.9L1391.5,528.2L1393.6,540.5L1394.9,549.0L1396.7,547.9L1398.2,529.6L1399.7,538.6L1401.2,542.2L1402.8,540.1L1404.1,520.8L1405.4,547.6L1406.8,549.5L1408.1,533.3L1409.2,538.0L1411.4,524.5L1413.2,551.5L1415.3,559.0L1417.0,560.5L1418.8,564.9L1420.9,573.1L1422.5,568.1L1424.6,555.9L1426.2,566.8L1428.2,568.6L1429.9,571.5L1431.6,563.2L1432.8,557.9L1434.3,563.9L1435.8,570.4L1436.9,568.9L1438.0,568.8L1439.5,564.0L1441.3,569.1L1442.3,558.8L1444.1,569.2L1445.5,565.9L1447.5,569.0L1449.4,562.5L1450.7,557.8L1451.8,564.5L1453.1,562.2L1455.1,567.3L1456.2,565.9L1457.6,573.5L1458.9,559.3L1461.0,569.4L1462.4,558.6L1464.6,559.5L1466.5,561.3L1467.6,573.8L1468.9,568.5L1470.2,572.7L1471.8,565.1L1472.9,573.6L1475.0,566.7L1477.0,570.9L1478.4,568.2L1480.3,573.0L1481.6,567.9L1482.8,572.0L1484.2,565.6L1486.0,562.9L1486.0,575.6Z" fill="#B2B2B2" stroke="#B2B2B2" stroke-width="1.8" stroke-linejoin="round"/>
<path d="M164.6,579.6L164.6,592.9L166.6,600.6L168.7,585.1L170.8,594.0L171.9,589.2L173.6,587.4L174.8,587.0L176.8,586.5L177.9,588.3L178.9,596.4L180.2,601.6L181.5,599.0L183.3,587.1L185.2,601.8L186.5,583.8L187.7,584.3L189.4,586.0L190.8,586.6L192.4,585.1L194.3,587.2L195.3,593.6L196.3,597.6L198.0,583.3L199.2,596.3L201.1,602.1L202.5,585.3L204.5,586.3L206.4,595.1L208.6,584.5L210.3,597.4L212.4,589.7L213.8,583.4L215.0,594.8L216.2,587.3L217.8,589.1L219.5,598.3L221.0,587.0L222.1,584.6L223.2,584.9L225.0,585.5L226.5,581.3L227.8,585.1L229.9,586.8L231.5,587.6L232.8,585.6L234.3,596.6L236.0,586.7L237.1,584.0L239.2,584.0L241.1,588.7L243.0,583.7L244.3,589.3L246.2,584.6L247.9,584.8L249.6,583.6L251.2,594.7L253.1,583.5L255.0,592.8L257.0,594.9L259.2,593.9L260.8,584.2L262.9,588.8L264.8,585.8L266.7,588.7L268.2,589.3L270.0,584.9L271.2,588.6L272.5,588.5L273.5,586.1L274.6,582.4L275.8,581.4L277.4,583.4L279.1,584.4L280.1,586.4L281.6,584.2L283.0,580.8L284.1,582.8L285.8,588.1L287.3,587.5L288.8,580.8L290.4,588.7L292.2,581.4L293.2,580.7L294.9,580.9L297.0,580.5L298.3,581.6L299.7,588.5L301.4,581.6L303.0,582.7L305.2,582.6L306.8,580.9L308.3,581.2L310.3,580.7L311.6,588.0L312.9,579.9L315.1,580.8L316.7,583.7L318.6,584.5L319.9,587.7L321.3,588.5L322.7,589.4L323.8,583.3L325.9,596.0L326.9,588.3L328.6,589.7L330.1,594.8L331.6,593.5L333.0,592.6L335.0,588.3L336.3,598.5L337.5,589.1L339.1,582.1L340.8,592.6L342.1,597.7L343.9,584.4L346.0,588.7L347.1,586.7L348.9,588.8L350.0,581.7L351.2,583.5L352.4,582.0L353.5,579.8L354.6,584.8L356.7,580.6L358.0,583.8L360.2,579.7L362.0,581.0L363.6,588.1L365.4,580.9L366.7,583.9L367.8,580.4L369.7,581.2L371.5,581.1L372.6,581.0L373.9,587.8L375.3,611.4L377.1,597.0L379.3,603.7L380.4,617.7L382.4,599.6L383.8,598.0L385.6,598.3L386.7,617.5L388.7,609.7L390.3,607.0L392.2,596.7L393.2,579.7L395.3,586.0L396.3,586.7L398.1,584.6L399.2,580.0L400.6,582.0L401.8,580.4L403.0,580.3L404.6,582.2L406.0,590.7L407.8,586.9L409.0,583.8L410.8,583.2L412.0,580.2L413.1,587.1L414.6,580.9L415.9,602.8L417.1,595.9L419.2,600.6L421.4,593.2L423.3,597.7L425.0,609.1L426.4,593.3L428.5,604.5L429.5,593.2L431.0,594.1L432.5,593.2L433.6,606.4L435.2,583.0L436.3,579.8L437.9,586.4L439.9,579.6L441.6,583.1L443.0,583.6L445.1,580.4L447.1,579.8L448.5,581.0L450.5,579.8L451.6,579.7L453.1,582.1L454.2,581.5L455.4,580.3L456.5,582.3L458.4,584.1L460.2,583.1L461.8,586.5L463.9,583.5L465.2,585.7L466.4,579.9L467.7,582.2L468.8,583.1L469.8,579.8L471.2,587.5L473.0,580.4L474.4,579.6L476.1,586.8L477.2,581.9L479.1,584.2L481.0,580.2L483.1,582.7L484.7,584.2L486.3,592.4L487.4,591.4L488.5,589.3L490.2,588.6L491.6,581.9L492.9,585.9L494.8,582.1L496.1,593.7L498.1,586.1L499.3,591.8L500.3,581.4L502.2,590.2L504.1,599.4L506.2,605.9L507.6,598.8L509.3,598.3L510.7,598.0L512.2,605.3L513.6,612.8L515.8,605.0L517.4,609.7L519.1,604.1L520.5,597.2L521.9,605.6L523.7,600.4L525.1,601.1L527.0,606.9L529.0,606.1L530.9,602.0L532.6,608.8L534.7,603.2L535.7,597.5L537.5,613.5L539.2,597.3L541.1,605.3L542.5,608.7L543.9,599.2L546.0,599.3L547.9,597.1L549.6,613.3L551.4,603.4L553.1,609.3L554.4,607.0L555.6,597.3L557.3,601.9L558.5,604.9L560.4,601.0L561.9,613.8L563.3,611.7L565.4,599.5L567.4,601.3L568.7,597.2L569.9,601.3L571.8,587.6L573.7,588.1L575.9,588.3L577.0,581.2L578.3,582.2L580.1,584.1L581.6,585.5L582.7,585.5L584.5,588.3L586.7,583.1L588.5,581.3L590.1,591.6L592.2,590.2L593.8,596.8L595.5,590.3L597.5,592.7L599.0,591.4L600.1,589.6L601.7,601.1L603.1,598.5L604.6,598.0L606.5,589.3L607.8,594.6L609.4,590.0L611.6,595.0L612.7,592.3L614.5,592.7L616.0,594.8L617.7,601.7L619.4,589.3L621.4,597.3L623.4,600.1L625.6,597.4L626.7,600.4L628.9,593.1L630.4,584.0L631.7,586.5L633.0,586.2L634.4,597.3L635.6,585.2L637.8,586.6L639.1,597.6L640.1,583.8L641.4,588.0L643.4,584.1L645.5,586.3L646.7,588.0L648.1,589.3L650.3,584.3L651.6,590.1L652.8,587.7L653.8,586.2L655.4,588.1L656.4,584.3L657.9,581.2L659.3,587.4L661.4,582.7L663.2,594.3L665.4,581.6L667.5,582.4L669.4,586.0L671.5,582.7L673.5,582.1L675.1,585.1L676.6,581.4L678.1,584.0L679.4,583.4L681.3,583.5L683.0,583.0L684.3,583.7L685.8,590.1L687.0,583.3L688.7,581.2L690.7,588.5L691.7,584.7L693.6,587.2L694.8,591.3L695.9,585.3L697.0,588.6L699.1,585.1L700.8,591.4L702.7,582.3L703.7,587.8L705.8,585.7L707.1,584.6L708.3,582.5L709.4,588.4L711.2,581.8L712.8,587.4L714.5,591.5L715.8,587.9L717.9,588.6L719.4,595.8L720.7,582.2L722.2,592.3L723.9,590.4L725.1,586.7L726.2,589.7L727.9,584.6L729.4,589.0L730.7,586.7L731.8,583.8L733.3,591.0L734.6,584.5L736.6,593.8L737.7,586.1L738.7,586.5L739.9,590.2L742.0,585.3L743.9,583.2L745.0,594.0L746.6,583.2L748.7,586.0L750.3,603.1L752.1,602.7L754.1,595.2L755.1,603.7L756.7,604.4L758.3,593.4L759.6,599.1L761.3,591.4L763.1,594.9L765.3,591.3L766.4,598.2L768.5,593.2L769.6,595.9L771.0,583.2L772.2,585.8L773.9,586.6L775.9,590.7L777.3,589.9L778.8,589.0L780.0,587.9L781.9,583.9L783.2,592.7L784.7,592.8L786.2,586.6L788.0,588.1L789.2,584.1L791.1,588.3L792.2,586.5L793.3,584.0L795.4,583.5L797.1,583.0L798.4,581.1L800.2,587.9L801.8,585.6L803.7,582.9L805.6,589.4L806.7,584.5L807.9,581.5L809.8,583.1L811.3,594.5L812.9,584.3L814.8,590.3L816.6,590.4L818.3,584.7L820.5,581.7L821.9,582.8L823.0,581.5L824.5,584.1L826.0,583.6L828.1,584.7L829.6,585.6L830.6,587.3L832.4,591.8L834.3,593.0L836.3,586.8L838.1,592.0L839.6,581.9L840.9,587.3L842.1,587.7L843.6,582.6L845.0,581.8L846.0,582.1L847.2,582.5L849.3,590.1L851.4,581.4L852.4,582.6L854.3,587.5L855.9,591.5L857.5,582.1L859.0,589.6L860.4,588.8L862.0,582.8L863.8,583.0L865.2,583.3L867.2,582.8L868.3,584.1L870.1,591.6L871.1,585.9L872.7,581.7L874.2,582.8L875.5,581.2L876.9,587.8L878.0,582.0L879.1,580.1L880.9,582.6L882.9,581.3L884.5,586.8L885.8,580.3L887.7,583.6L889.4,589.1L890.9,584.8L892.4,582.7L893.9,587.9L895.4,584.7L896.6,585.3L897.6,581.5L899.7,579.8L901.4,581.3L902.5,582.8L903.9,584.4L905.9,589.3L907.9,594.0L909.3,596.9L911.4,595.2L913.5,606.1L915.5,604.2L917.4,599.4L918.8,593.7L920.9,597.9L922.6,600.5L924.2,592.2L926.2,597.8L927.8,599.7L929.8,598.3L931.2,597.3L933.4,594.1L934.7,596.4L936.0,609.1L937.2,596.3L938.4,596.1L939.7,592.3L940.9,608.7L943.0,609.0L944.3,593.1L945.4,595.0L947.0,593.3L949.0,589.9L950.9,589.1L952.3,583.4L953.4,580.8L954.5,580.2L955.9,588.7L957.9,584.7L959.3,580.4L961.1,590.1L962.4,579.6L964.2,579.6L965.5,583.1L967.3,587.5L969.2,585.5L970.3,590.0L972.2,591.0L974.0,586.3L975.2,589.0L976.3,587.9L977.9,590.8L979.2,589.4L981.0,583.3L982.6,589.6L983.7,589.1L985.0,585.6L986.0,587.6L987.0,582.9L988.5,592.2L989.9,589.5L991.0,583.3L993.0,587.3L994.6,586.7L996.4,588.6L998.1,591.5L999.8,584.1L1001.6,584.7L1003.0,589.5L1004.8,596.2L1006.7,587.2L1008.4,586.2L1010.3,584.1L1012.0,590.3L1013.5,594.5L1015.2,593.8L1017.1,592.3L1019.0,589.0L1020.9,592.7L1022.5,590.0L1024.7,596.9L1025.8,591.2L1027.9,587.8L1029.8,601.7L1031.6,608.7L1033.7,600.5L1035.5,597.6L1037.7,595.4L1038.7,597.1L1040.1,596.6L1041.4,601.0L1043.4,599.5L1044.7,593.6L1045.9,594.8L1047.8,606.2L1049.1,595.9L1050.7,595.5L1052.0,596.5L1053.1,602.3L1054.8,606.0L1056.9,596.9L1058.4,594.5L1060.6,602.1L1062.6,594.7L1064.1,610.0L1065.3,607.6L1066.7,595.2L1068.3,599.3L1070.5,599.3L1072.4,583.6L1073.5,585.4L1075.3,589.2L1077.1,587.5L1078.2,582.6L1079.7,584.4L1081.1,583.2L1082.7,584.9L1084.3,582.5L1086.4,587.0L1088.2,585.1L1090.3,585.7L1091.9,594.5L1093.1,582.4L1094.7,583.6L1096.8,593.9L1098.8,585.2L1100.8,590.3L1102.1,592.9L1104.3,596.5L1106.1,583.1L1107.9,595.0L1109.0,583.3L1110.2,583.9L1111.6,583.5L1113.8,589.6L1115.9,585.0L1117.0,584.6L1118.9,588.1L1120.8,586.5L1122.0,582.3L1124.2,593.0L1125.7,581.6L1127.2,581.8L1129.4,580.8L1130.6,583.7L1132.0,581.1L1133.6,585.1L1135.2,588.5L1137.1,589.4L1138.8,589.8L1140.0,582.8L1141.1,583.6L1142.4,579.7L1144.2,580.7L1146.0,589.7L1147.3,587.3L1149.0,583.4L1151.0,585.2L1152.2,587.8L1153.9,583.5L1155.2,582.1L1157.0,584.6L1158.8,579.8L1160.0,584.7L1162.1,584.6L1164.3,583.1L1165.9,581.1L1167.6,581.5L1169.2,583.5L1170.9,582.0L1172.1,582.8L1173.2,587.9L1175.1,579.9L1177.0,581.0L1178.9,579.6L1180.6,587.3L1182.8,581.1L1184.3,582.7L1185.6,583.7L1187.7,583.4L1189.4,583.1L1190.8,583.0L1191.8,580.3L1193.6,583.3L1195.6,580.3L1197.5,583.1L1199.6,580.7L1201.6,585.8L1203.6,584.9L1205.0,583.9L1207.2,580.4L1208.3,581.9L1210.3,580.0L1212.5,584.3L1213.9,580.3L1216.1,581.4L1218.1,582.6L1220.0,587.3L1221.3,585.0L1223.0,580.0L1224.7,579.6L1226.2,580.6L1227.3,584.0L1228.6,583.5L1230.6,583.9L1232.3,585.5L1233.4,588.2L1234.4,587.4L1236.4,582.9L1237.6,584.1L1239.1,580.3L1241.3,582.4L1243.4,585.8L1244.7,583.0L1246.3,602.9L1248.0,596.4L1249.6,608.4L1250.8,611.8L1252.2,596.9L1254.4,599.6L1256.6,602.1L1258.1,596.5L1259.5,598.8L1261.1,596.6L1262.3,597.5L1263.4,602.7L1265.3,599.7L1267.4,611.5L1269.5,608.3L1271.1,595.8L1273.0,593.1L1274.9,594.0L1276.2,596.8L1277.9,591.2L1279.9,607.9L1281.8,601.9L1283.7,597.8L1285.8,598.6L1287.2,597.7L1289.3,610.6L1291.5,589.3L1292.9,606.8L1294.2,590.1L1295.4,592.5L1296.6,591.9L1297.7,607.6L1299.8,599.7L1301.1,596.8L1302.6,605.7L1304.5,594.4L1305.8,600.2L1307.1,590.7L1308.6,601.3L1310.4,590.6L1312.0,590.8L1313.0,600.9L1315.1,596.9L1316.8,585.9L1318.4,586.0L1320.0,594.9L1321.4,583.5L1323.0,583.0L1324.5,590.1L1326.0,588.2L1327.8,582.2L1329.9,583.7L1331.2,587.5L1332.5,584.7L1333.5,583.9L1335.0,591.9L1337.1,591.5L1338.6,608.1L1340.7,594.3L1342.2,594.5L1343.3,611.3L1345.1,591.4L1347.3,609.2L1348.8,601.6L1350.4,588.5L1352.6,601.7L1353.7,591.4L1355.3,595.2L1357.2,609.3L1358.7,596.7L1360.3,588.9L1362.4,600.6L1364.2,602.4L1366.3,600.0L1368.0,588.9L1369.7,604.8L1371.8,590.4L1373.2,590.4L1374.9,590.9L1376.5,599.3L1377.9,595.8L1379.2,599.2L1381.1,589.9L1382.8,589.8L1384.3,602.7L1386.3,587.5L1387.6,590.8L1389.8,593.3L1391.9,601.5L1393.3,592.4L1394.5,587.2L1395.7,586.6L1397.8,595.1L1399.1,586.9L1401.2,589.0L1403.1,589.3L1404.5,582.6L1406.6,582.3L1408.0,590.1L1409.2,581.4L1410.6,587.5L1412.4,587.0L1413.9,584.7L1415.8,580.1L1417.7,585.7L1419.6,581.8L1420.8,581.6L1422.8,580.6L1424.7,580.8L1426.9,582.1L1429.0,588.1L1430.2,583.1L1432.3,586.2L1433.9,586.7L1435.0,581.9L1436.8,591.7L1438.7,585.7L1440.3,580.5L1442.4,582.4L1444.2,589.9L1445.8,585.2L1447.5,586.4L1449.6,590.4L1451.5,580.9L1452.8,582.1L1454.0,590.9L1455.5,580.1L1457.3,583.9L1459.0,581.4L1461.0,589.6L1462.7,580.3L1464.1,579.8L1466.3,584.9L1468.1,590.0L1469.6,582.2L1471.8,588.9L1473.5,588.4L1474.9,593.5L1476.6,589.2L1478.7,591.6L1480.6,587.8L1482.0,591.6L1483.1,591.3L1484.3,586.1L1485.3,596.9L1487.4,590.5L1487.4,579.6Z" fill="#B2B2B2" stroke="#B2B2B2" stroke-width="1.8" stroke-linejoin="round"/>
<line x1="172.5" y1="575.0" x2="172.5" y2="547.6" stroke="#B2B2B2" stroke-width="2.0" />
<line x1="190.4" y1="575.0" x2="190.4" y2="543.6" stroke="#B2B2B2" stroke-width="2.0" />
<line x1="240.0" y1="575.0" x2="240.0" y2="521.6" stroke="#B2B2B2" stroke-width="2.0" />
<line x1="246.0" y1="575.0" x2="246.0" y2="525.6" stroke="#B2B2B2" stroke-width="2.0" />
<line x1="273.0" y1="575.0" x2="273.0" y2="537.6" stroke="#B2B2B2" stroke-width="2.0" />
<line x1="362.3" y1="575.0" x2="362.3" y2="519.6" stroke="#B2B2B2" stroke-width="2.0" />
<line x1="377.0" y1="575.0" x2="377.0" y2="525.6" stroke="#B2B2B2" stroke-width="2.0" />
<line x1="455.5" y1="575.0" x2="455.5" y2="523.6" stroke="#B2B2B2" stroke-width="2.0" />
<line x1="554.2" y1="575.0" x2="554.2" y2="532.6" stroke="#B2B2B2" stroke-width="2.0" />
<line x1="570.4" y1="575.0" x2="570.4" y2="532.6" stroke="#B2B2B2" stroke-width="2.0" />
<line x1="590.2" y1="575.0" x2="590.2" y2="534.6" stroke="#B2B2B2" stroke-width="2.0" />
<line x1="655.0" y1="575.0" x2="655.0" y2="514.6" stroke="#B2B2B2" stroke-width="2.0" />
<line x1="658.0" y1="575.0" x2="658.0" y2="517.6" stroke="#B2B2B2" stroke-width="2.0" />
<line x1="702.5" y1="575.0" x2="702.5" y2="534.6" stroke="#B2B2B2" stroke-width="2.0" />
<line x1="822.6" y1="575.0" x2="822.6" y2="514.6" stroke="#B2B2B2" stroke-width="2.0" />
<line x1="952.8" y1="575.0" x2="952.8" y2="543.6" stroke="#B2B2B2" stroke-width="2.0" />
<line x1="973.0" y1="575.0" x2="973.0" y2="541.6" stroke="#B2B2B2" stroke-width="2.0" />
<line x1="1013.0" y1="575.0" x2="1013.0" y2="539.6" stroke="#B2B2B2" stroke-width="2.0" />
<line x1="1034.8" y1="575.0" x2="1034.8" y2="522.6" stroke="#B2B2B2" stroke-width="2.0" />
<line x1="1027.0" y1="575.0" x2="1027.0" y2="531.6" stroke="#B2B2B2" stroke-width="2.0" />
<line x1="1064.0" y1="575.0" x2="1064.0" y2="552.6" stroke="#B2B2B2" stroke-width="2.0" />
<line x1="1082.8" y1="575.0" x2="1082.8" y2="538.6" stroke="#B2B2B2" stroke-width="2.0" />
<line x1="1156.0" y1="575.0" x2="1156.0" y2="537.6" stroke="#B2B2B2" stroke-width="2.0" />
<line x1="1186.0" y1="575.0" x2="1186.0" y2="539.6" stroke="#B2B2B2" stroke-width="2.0" />
<line x1="1271.8" y1="575.0" x2="1271.8" y2="539.6" stroke="#B2B2B2" stroke-width="2.0" />
<line x1="1295.4" y1="575.0" x2="1295.4" y2="550.6" stroke="#B2B2B2" stroke-width="2.0" />
<line x1="1323.0" y1="575.0" x2="1323.0" y2="537.6" stroke="#B2B2B2" stroke-width="2.0" />
<line x1="1378.0" y1="575.0" x2="1378.0" y2="517.6" stroke="#B2B2B2" stroke-width="2.0" />
<line x1="1386.4" y1="575.0" x2="1386.4" y2="532.6" stroke="#B2B2B2" stroke-width="2.0" />
<line x1="1394.2" y1="575.0" x2="1394.2" y2="519.6" stroke="#B2B2B2" stroke-width="2.0" />
<line x1="1404.8" y1="575.0" x2="1404.8" y2="511.6" stroke="#B2B2B2" stroke-width="2.0" />
<line x1="1441.4" y1="575.0" x2="1441.4" y2="552.6" stroke="#B2B2B2" stroke-width="2.0" />
<line x1="215.0" y1="580.0" x2="215.0" y2="608.6" stroke="#B2B2B2" stroke-width="2.0" />
<line x1="383.0" y1="580.0" x2="383.0" y2="611.6" stroke="#B2B2B2" stroke-width="2.0" />
<line x1="388.0" y1="580.0" x2="388.0" y2="610.6" stroke="#B2B2B2" stroke-width="2.0" />
<line x1="425.0" y1="580.0" x2="425.0" y2="606.6" stroke="#B2B2B2" stroke-width="2.0" />
<line x1="635.0" y1="580.0" x2="635.0" y2="606.6" stroke="#B2B2B2" stroke-width="2.0" />
<line x1="727.0" y1="580.0" x2="727.0" y2="602.6" stroke="#B2B2B2" stroke-width="2.0" />
<line x1="798.0" y1="580.0" x2="798.0" y2="608.6" stroke="#B2B2B2" stroke-width="2.0" />
<line x1="798.0" y1="580.0" x2="798.0" y2="597.6" stroke="#B2B2B2" stroke-width="2.0" />
<line x1="1107.0" y1="580.0" x2="1107.0" y2="606.6" stroke="#B2B2B2" stroke-width="2.0" />
<line x1="1108.0" y1="580.0" x2="1108.0" y2="606.6" stroke="#B2B2B2" stroke-width="2.0" />
<line x1="1302.0" y1="580.0" x2="1302.0" y2="608.6" stroke="#B2B2B2" stroke-width="2.0" />
<line x1="1344.0" y1="580.0" x2="1344.0" y2="608.6" stroke="#B2B2B2" stroke-width="2.0" />
<line x1="1392.0" y1="580.0" x2="1392.0" y2="606.6" stroke="#B2B2B2" stroke-width="2.0" />
<line x1="1483.0" y1="580.0" x2="1483.0" y2="605.6" stroke="#B2B2B2" stroke-width="2.0" />
<line x1="242.0" y1="481.5" x2="275.0" y2="486.0" stroke="#BDBDBD" stroke-width="2.0" />
<line x1="440.0" y1="466.0" x2="461.0" y2="475.0" stroke="#BDBDBD" stroke-width="2.0" />
<line x1="900.0" y1="601.7" x2="949.5" y2="617.4" stroke="#BDBDBD" stroke-width="2.0" />
<line x1="978.7" y1="639.9" x2="1025.8" y2="652.2" stroke="#BDBDBD" stroke-width="2.0" />
<line x1="1295.4" y1="623.0" x2="1330.2" y2="623.0" stroke="#BDBDBD" stroke-width="2.0" />
<line x1="761.0" y1="734.0" x2="796.0" y2="727.0" stroke="#BDBDBD" stroke-width="2.0" />
<polygon points="183.0,575.5 183.0,482.7 185.3,482.7 185.3,575.5" fill="#FF0000" stroke="#FF0000" stroke-width="0.8" stroke-linejoin="round"/>
<polygon points="233.3,575.5 233.3,486.0 234.0,481.0 236.0,480.4 238.9,483.0 238.9,575.5" fill="#FF0000" stroke="#FF0000" stroke-width="0.8" stroke-linejoin="round"/>
<polygon points="286.3,575.5 286.3,500.6 288.6,500.6 288.6,575.5" fill="#FF0000" stroke="#FF0000" stroke-width="0.8" stroke-linejoin="round"/>
<polygon points="458.6,575.5 458.6,500.0 460.5,474.0 461.8,474.0 463.0,485.0 466.0,485.0 467.0,483.0 470.0,484.5 474.0,481.0 476.6,476.0 478.5,477.0 480.0,482.0 484.2,482.5 484.2,575.5" fill="#FF0000" stroke="#FF0000" stroke-width="0.8" stroke-linejoin="round"/>
<line x1="465.4" y1="575.0" x2="466.2" y2="486.0" stroke="#fff" stroke-width="0.9" />
<line x1="479.0" y1="575.0" x2="479.8" y2="486.0" stroke="#fff" stroke-width="0.9" />
<polygon points="585.4,575.5 585.6,484.0 587.6,483.8 588.2,575.5" fill="#FF0000" stroke="#FF0000" stroke-width="0.8" stroke-linejoin="round"/>
<polygon points="660.3,575.5 660.3,504.0 662.5,503.0 663.0,493.0 664.8,493.0 665.5,503.0 666.7,520.0 666.7,575.5" fill="#FF0000" stroke="#FF0000" stroke-width="0.8" stroke-linejoin="round"/>
<polygon points="844.8,575.5 845.0,492.0 846.5,484.0 849.5,473.0 851.2,471.4 853.2,478.0 855.0,490.0 856.5,575.0 856.5,575.5" fill="#FF0000" stroke="#FF0000" stroke-width="0.8" stroke-linejoin="round"/>
<polygon points="857.5,575.5 857.5,575.0 858.8,490.0 860.5,483.0 862.2,482.0 863.2,458.0 864.4,455.7 865.4,470.0 866.5,488.0 869.0,489.0 871.0,491.0 876.0,491.0 876.0,575.5" fill="#FF0000" stroke="#FF0000" stroke-width="0.8" stroke-linejoin="round"/>
<polygon points="1161.6,575.5 1161.8,525.0 1162.8,505.0 1164.5,484.0 1166.5,480.4 1173.5,480.4 1175.0,492.0 1176.3,505.0 1177.0,560.0 1177.0,575.5" fill="#FF0000" stroke="#FF0000" stroke-width="0.8" stroke-linejoin="round"/>
<line x1="1170.2" y1="575.0" x2="1171.0" y2="482.0" stroke="#fff" stroke-width="0.9" />
<line x1="1167.6" y1="575.0" x2="1169.0" y2="482.0" stroke="#fff" stroke-width="0.9" />
<polygon points="1334.0,575.5 1334.0,520.0 1335.0,505.0 1337.5,497.5 1339.0,503.0 1341.0,505.0 1343.0,500.0 1344.5,490.0 1347.5,485.0 1350.5,485.0 1352.2,500.0 1352.2,575.5" fill="#FF0000" stroke="#FF0000" stroke-width="0.8" stroke-linejoin="round"/>
<line x1="1340.3" y1="575.0" x2="1340.6" y2="506.0" stroke="#fff" stroke-width="0.8" />
<line x1="1343.8" y1="575.0" x2="1344.1" y2="497.0" stroke="#fff" stroke-width="0.8" />
<polygon points="165.0,579.8 165.0,604.0 166.9,604.0 166.9,579.8" fill="#0000FF" stroke="#0000FF" stroke-width="0.8" stroke-linejoin="round"/>
<polygon points="170.0,579.8 170.0,640.0 171.0,650.0 171.0,765.5 173.2,765.5 173.2,650.0 174.5,640.0 174.5,579.8" fill="#0000FF" stroke="#0000FF" stroke-width="0.8" stroke-linejoin="round"/>
<polygon points="220.6,579.8 220.6,673.6 222.4,673.6 222.4,579.8" fill="#0000FF" stroke="#0000FF" stroke-width="0.8" stroke-linejoin="round"/>
<line x1="221.4" y1="580" x2="231.9" y2="678" stroke="#0000FF" stroke-width="1.8"/>
<polygon points="230.3,579.8 230.3,678.0 233.6,678.0 234.2,655.0 235.5,650.0 235.5,627.0 237.2,626.0 237.2,579.8" fill="#0000FF" stroke="#0000FF" stroke-width="0.8" stroke-linejoin="round"/>
<polygon points="319.5,579.8 319.5,655.0 320.8,674.0 321.4,688.0 323.2,688.0 323.6,674.0 325.0,670.0 325.8,640.0 325.8,579.8" fill="#0000FF" stroke="#0000FF" stroke-width="0.8" stroke-linejoin="round"/>
<polygon points="338.6,579.8 338.6,640.0 339.6,661.0 341.8,661.0 342.9,610.0 342.9,579.8" fill="#0000FF" stroke="#0000FF" stroke-width="0.8" stroke-linejoin="round"/>
<polygon points="430.7,579.8 430.7,616.0 432.6,616.0 432.6,579.8" fill="#0000FF" stroke="#0000FF" stroke-width="0.8" stroke-linejoin="round"/>
<polygon points="481.8,579.8 481.8,654.5 483.6,654.5 483.6,579.8" fill="#0000FF" stroke="#0000FF" stroke-width="0.8" stroke-linejoin="round"/>
<polygon points="486.1,579.8 486.1,628.7 487.7,628.7 487.7,579.8" fill="#0000FF" stroke="#0000FF" stroke-width="0.8" stroke-linejoin="round"/>
<polygon points="513.7,579.8 513.7,646.6 515.7,646.6 515.7,579.8" fill="#0000FF" stroke="#0000FF" stroke-width="0.8" stroke-linejoin="round"/>
<polygon points="533.9,579.8 533.9,616.3 535.7,616.3 535.7,579.8" fill="#0000FF" stroke="#0000FF" stroke-width="0.8" stroke-linejoin="round"/>
<polygon points="652.3,579.8 652.3,619.7 654.3,619.7 654.3,579.8" fill="#0000FF" stroke="#0000FF" stroke-width="0.8" stroke-linejoin="round"/>
<polygon points="666.0,579.8 666.0,650.0 668.1,650.0 668.1,579.8" fill="#0000FF" stroke="#0000FF" stroke-width="0.8" stroke-linejoin="round"/>
<polygon points="756.6,579.8 756.6,700.0 757.4,730.0 762.2,730.0 763.3,700.0 763.3,579.8" fill="#0000FF" stroke="#0000FF" stroke-width="0.8" stroke-linejoin="round"/>
<polygon points="777.0,579.8 777.0,720.6 779.3,720.6 779.3,579.8" fill="#0000FF" stroke="#0000FF" stroke-width="0.8" stroke-linejoin="round"/>
<polygon points="803.9,579.8 803.9,632.0 807.4,632.0 807.6,640.0 809.6,640.0 809.9,659.0 811.4,659.0 811.8,640.0 812.6,632.0 812.8,625.5 820.0,624.5 820.3,617.0 821.6,610.0 821.6,579.8" fill="#0000FF" stroke="#0000FF" stroke-width="0.8" stroke-linejoin="round"/>
<polygon points="871.2,579.8 871.2,624.2 873.2,624.2 873.2,579.8" fill="#0000FF" stroke="#0000FF" stroke-width="0.8" stroke-linejoin="round"/>
<polygon points="888.6,579.8 888.6,745.0 889.6,751.0 893.8,751.0 894.9,745.0 894.9,579.8" fill="#0000FF" stroke="#0000FF" stroke-width="0.8" stroke-linejoin="round"/>
<line x1="894.2" y1="580" x2="902.2" y2="752" stroke="#0000FF" stroke-width="1.8"/>
<polygon points="901.0,579.8 901.0,748.0 901.8,754.4 905.2,754.4 906.5,748.0 906.5,579.8" fill="#0000FF" stroke="#0000FF" stroke-width="0.8" stroke-linejoin="round"/>
<polygon points="948.2,579.8 948.2,606.0 950.7,606.0 950.7,579.8" fill="#0000FF" stroke="#0000FF" stroke-width="0.8" stroke-linejoin="round"/>
<polygon points="952.0,579.8 952.0,650.0 954.8,651.0 955.6,673.0 956.4,693.8 961.6,693.8 962.4,673.0 963.0,655.0 963.2,617.4 965.8,617.4 965.8,579.8" fill="#0000FF" stroke="#0000FF" stroke-width="0.8" stroke-linejoin="round"/>
<polygon points="977.0,579.8 977.0,614.0 979.2,614.0 979.2,579.8" fill="#0000FF" stroke="#0000FF" stroke-width="0.8" stroke-linejoin="round"/>
<polygon points="992.7,579.8 992.7,641.0 994.9,641.0 994.9,579.8" fill="#0000FF" stroke="#0000FF" stroke-width="0.8" stroke-linejoin="round"/>
<polygon points="996.9,579.8 996.9,626.4 1001.2,626.4 1001.2,579.8" fill="#0000FF" stroke="#0000FF" stroke-width="0.8" stroke-linejoin="round"/>
<polygon points="1020.0,579.8 1020.0,622.0 1021.4,626.8 1023.4,626.8 1024.6,621.0 1028.2,619.7 1028.2,579.8" fill="#0000FF" stroke="#0000FF" stroke-width="0.8" stroke-linejoin="round"/>
<polygon points="1064.4,579.8 1064.4,633.2 1066.8,633.2 1066.8,579.8" fill="#0000FF" stroke="#0000FF" stroke-width="0.8" stroke-linejoin="round"/>
<polygon points="1130.2,579.8 1130.2,664.6 1132.4,664.6 1132.6,633.0 1135.6,633.0 1136.0,640.0 1138.0,651.0 1144.0,651.0 1144.2,681.4 1146.6,681.4 1147.0,651.0 1147.8,640.0 1152.6,640.0 1153.0,628.0 1153.4,615.0 1155.2,615.0 1155.2,579.8" fill="#0000FF" stroke="#0000FF" stroke-width="0.8" stroke-linejoin="round"/>
<polygon points="1183.0,579.8 1183.0,739.8 1185.9,739.8 1185.9,579.8" fill="#0000FF" stroke="#0000FF" stroke-width="0.8" stroke-linejoin="round"/>
<polygon points="1223.0,579.8 1223.0,648.9 1225.9,648.9 1225.9,579.8" fill="#0000FF" stroke="#0000FF" stroke-width="0.8" stroke-linejoin="round"/>
<polygon points="1232.4,579.8 1232.4,690.0 1233.2,700.0 1233.4,817.3 1236.2,817.3 1236.4,690.0 1237.0,675.8 1239.6,675.8 1240.0,640.0 1240.6,631.0 1242.1,631.0 1242.1,579.8" fill="#0000FF" stroke="#0000FF" stroke-width="0.8" stroke-linejoin="round"/>
<polygon points="1243.6,579.8 1243.6,622.0 1245.6,622.0 1245.6,579.8" fill="#0000FF" stroke="#0000FF" stroke-width="0.8" stroke-linejoin="round"/>
<polygon points="1270.1,579.8 1270.1,708.4 1273.1,708.4 1273.1,579.8" fill="#0000FF" stroke="#0000FF" stroke-width="0.8" stroke-linejoin="round"/>
<polygon points="1285.2,579.8 1285.2,670.0 1286.4,681.4 1288.3,681.4 1288.3,579.8" fill="#0000FF" stroke="#0000FF" stroke-width="0.8" stroke-linejoin="round"/>
<line x1="1288.0" y1="580" x2="1292.9" y2="692" stroke="#0000FF" stroke-width="2.6"/>
<polygon points="1295.9,579.8 1295.9,617.4 1298.4,617.4 1298.4,579.8" fill="#0000FF" stroke="#0000FF" stroke-width="0.8" stroke-linejoin="round"/>
<polygon points="1315.9,579.8 1315.9,635.0 1318.2,645.0 1320.2,659.0 1321.8,659.0 1322.6,640.0 1324.0,625.0 1325.5,617.0 1325.5,579.8" fill="#0000FF" stroke="#0000FF" stroke-width="0.8" stroke-linejoin="round"/>
<polygon points="1330.1,579.8 1330.1,622.0 1332.6,622.0 1332.6,579.8" fill="#0000FF" stroke="#0000FF" stroke-width="0.8" stroke-linejoin="round"/>
<polygon points="1355.9,579.8 1355.9,631.0 1357.8,631.0 1358.2,620.0 1360.2,619.5 1360.2,579.8" fill="#0000FF" stroke="#0000FF" stroke-width="0.8" stroke-linejoin="round"/>
<polygon points="1394.6,579.8 1394.6,700.0 1395.6,719.6 1397.4,719.6 1397.8,706.0 1400.4,706.0 1401.2,690.0 1401.2,579.8" fill="#0000FF" stroke="#0000FF" stroke-width="0.8" stroke-linejoin="round"/>
<polygon points="1405.4,579.8 1405.4,771.3 1407.8,771.3 1407.8,579.8" fill="#0000FF" stroke="#0000FF" stroke-width="0.8" stroke-linejoin="round"/>
<polygon points="1409.4,579.8 1409.4,679.2 1412.8,679.2 1412.8,579.8" fill="#0000FF" stroke="#0000FF" stroke-width="0.8" stroke-linejoin="round"/>
<polygon points="1470.5,579.8 1470.5,632.7 1473.3,632.7 1473.3,579.8" fill="#0000FF" stroke="#0000FF" stroke-width="0.8" stroke-linejoin="round"/>
<line x1="164.6" y1="577.9" x2="1586.6" y2="577.9" stroke="#000" stroke-width="5.8" />
<text x="221.8" y="581.3" font-size="8" font-style="italic" text-anchor="middle" style="fill:#fff">1</text>
<line x1="280.6" y1="577.9" x2="389.3" y2="577.9" stroke="#9a9a9a" stroke-width="1.6" />
<text x="335.0" y="581.3" font-size="8" font-style="italic" text-anchor="middle" style="fill:#333">2</text>
<text x="436.3" y="581.3" font-size="8" font-style="italic" text-anchor="middle" style="fill:#fff">3</text>
<line x1="483.3" y1="577.9" x2="568.1" y2="577.9" stroke="#9a9a9a" stroke-width="1.6" />
<text x="525.7" y="581.3" font-size="8" font-style="italic" text-anchor="middle" style="fill:#333">4</text>
<text x="611.1" y="581.3" font-size="8" font-style="italic" text-anchor="middle" style="fill:#fff">5</text>
<line x1="654.2" y1="577.9" x2="729.8" y2="577.9" stroke="#9a9a9a" stroke-width="1.6" />
<text x="692.0" y="581.3" font-size="8" font-style="italic" text-anchor="middle" style="fill:#333">6</text>
<text x="767.8" y="581.3" font-size="8" font-style="italic" text-anchor="middle" style="fill:#fff">7</text>
<line x1="805.9" y1="577.9" x2="870.1" y2="577.9" stroke="#9a9a9a" stroke-width="1.6" />
<text x="838.0" y="581.3" font-size="8" font-style="italic" text-anchor="middle" style="fill:#333">8</text>
<text x="904.1" y="581.3" font-size="8" font-style="italic" text-anchor="middle" style="fill:#fff">9</text>
<line x1="938.0" y1="577.9" x2="997.2" y2="577.9" stroke="#9a9a9a" stroke-width="1.6" />
<text x="967.6" y="581.3" font-size="8" font-style="italic" text-anchor="middle" style="fill:#333">10</text>
<text x="1029.7" y="581.3" font-size="8" font-style="italic" text-anchor="middle" style="fill:#fff">11</text>
<line x1="1062.3" y1="577.9" x2="1120.7" y2="577.9" stroke="#9a9a9a" stroke-width="1.6" />
<text x="1091.5" y="581.3" font-size="8" font-style="italic" text-anchor="middle" style="fill:#333">12</text>
<text x="1148.7" y="581.3" font-size="8" font-style="italic" text-anchor="middle" style="fill:#fff">13</text>
<line x1="1176.7" y1="577.9" x2="1223.0" y2="577.9" stroke="#9a9a9a" stroke-width="1.6" />
<text x="1199.8" y="581.3" font-size="8" font-style="italic" text-anchor="middle" style="fill:#333">14</text>
<text x="1248.0" y="581.3" font-size="8" font-style="italic" text-anchor="middle" style="fill:#fff">15</text>
<line x1="1273.0" y1="577.9" x2="1311.5" y2="577.9" stroke="#9a9a9a" stroke-width="1.6" />
<text x="1292.3" y="581.3" font-size="8" font-style="italic" text-anchor="middle" style="fill:#333">16</text>
<text x="1331.7" y="581.3" font-size="8" font-style="italic" text-anchor="middle" style="fill:#fff">17</text>
<line x1="1351.8" y1="577.9" x2="1384.7" y2="577.9" stroke="#9a9a9a" stroke-width="1.6" />
<text x="1368.3" y="581.3" font-size="8" font-style="italic" text-anchor="middle" style="fill:#333">18</text>
<text x="1399.8" y="581.3" font-size="8" font-style="italic" text-anchor="middle" style="fill:#fff">19</text>
<line x1="1414.9" y1="577.9" x2="1440.8" y2="577.9" stroke="#9a9a9a" stroke-width="1.6" />
<text x="1427.8" y="581.3" font-size="8" font-style="italic" text-anchor="middle" style="fill:#333">20</text>
<text x="1453.4" y="581.3" font-size="8" font-style="italic" text-anchor="middle" style="fill:#fff">21</text>
<line x1="1465.9" y1="577.9" x2="1486.5" y2="577.9" stroke="#9a9a9a" stroke-width="1.6" />
<text x="1476.2" y="581.3" font-size="8" font-style="italic" text-anchor="middle" style="fill:#333">22</text>
<text x="1523.6" y="581.3" font-size="8" font-style="italic" text-anchor="middle" style="fill:#fff">X</text>
<line x1="1560.8" y1="577.9" x2="1585.1" y2="577.9" stroke="#9a9a9a" stroke-width="1.6" />
<text x="1573.0" y="581.3" font-size="8" font-style="italic" text-anchor="middle" style="fill:#333">Y</text>
<text x="161.2" y="484.9" font-size="15.9" text-anchor="start" font-style="italic" letter-spacing="0.25">1p34.2</text>
<text x="221.4" y="484.9" font-size="15.9" text-anchor="start" font-style="italic" letter-spacing="0.25">1q22</text>
<text x="260.7" y="489.9" font-size="15.9" text-anchor="start" font-style="italic" letter-spacing="0.25">1q21.3</text>
<text x="264.1" y="505.1" font-size="15.9" text-anchor="start" font-style="italic" letter-spacing="0.25">2p24.3</text>
<text x="403.8" y="467.0" font-size="15.9" text-anchor="start" font-style="italic" letter-spacing="0.25">3q25.1</text>
<text x="459.5" y="479.3" font-size="15.9" text-anchor="start" font-style="italic" letter-spacing="0.25">3q29</text>
<text x="194.9" y="632.0" font-size="15.9" text-anchor="end" font-style="italic" letter-spacing="0.25">1p36.33</text>
<text x="202.8" y="663.5" font-size="15.9" text-anchor="end" font-style="italic" letter-spacing="0.25">1p36.13</text>
<text x="210.2" y="663.5" font-size="15.9" text-anchor="start" font-style="italic" letter-spacing="0.25">1q21.2</text>
<text x="207.9" y="681.4" font-size="15.9" text-anchor="start" font-style="italic" letter-spacing="0.25">1q21.1</text>
<text x="317.3" y="668.6" font-size="15.9" text-anchor="start" font-style="italic" letter-spacing="0.25">2q21.1</text>
<text x="297.1" y="692.0" font-size="15.9" text-anchor="start" font-style="italic" letter-spacing="0.25">2p11.1</text>
<text x="407.2" y="618.6" font-size="15.9" text-anchor="start" font-style="italic" letter-spacing="0.25">3p12.1</text>
<text x="463.3" y="632.0" font-size="15.9" text-anchor="start" font-style="italic" letter-spacing="0.25">4p16.1</text>
<text x="144.1" y="776.0" font-size="15.9" text-anchor="start" font-style="italic" letter-spacing="0.25">1p36.21</text>
<text x="562.8" y="488.3" font-size="15.9" text-anchor="start" font-style="italic" letter-spacing="0.25">5p13.2</text>
<text x="638.9" y="497.3" font-size="15.9" text-anchor="start" font-style="italic" letter-spacing="0.25">6p22.3</text>
<text x="517.8" y="619.7" font-size="15.9" text-anchor="start" font-style="italic" letter-spacing="0.25">4q25</text>
<text x="490.7" y="650.5" font-size="15.9" text-anchor="start" font-style="italic" letter-spacing="0.25">4q13.2</text>
<text x="629.0" y="630.9" font-size="15.9" text-anchor="start" font-style="italic" letter-spacing="0.25">5q35.3</text>
<text x="643.4" y="653.4" font-size="15.9" text-anchor="start" font-style="italic" letter-spacing="0.25">6p22.1</text>
<text x="786.7" y="662.4" font-size="15.9" text-anchor="start" font-style="italic" letter-spacing="0.25">8p23.1</text>
<text x="835.6" y="459.1" font-size="15.9" text-anchor="start" font-style="italic" letter-spacing="0.25">8q24.21</text>
<text x="850.2" y="503.6" font-size="15.9" text-anchor="start" font-style="italic" letter-spacing="0.25">9p24.1</text>
<text x="871.3" y="606.7" font-size="15.9" text-anchor="start" font-style="italic" letter-spacing="0.25">10p12.1</text>
<text x="848.0" y="630.9" font-size="15.9" text-anchor="start" font-style="italic" letter-spacing="0.25">9p24.3</text>
<text x="934.9" y="617.4" font-size="15.9" text-anchor="start" font-style="italic" letter-spacing="0.25">10q23.31</text>
<text x="1002.9" y="620.8" font-size="15.9" text-anchor="start" font-style="italic" letter-spacing="0.25">11q12.2</text>
<text x="958.0" y="635.4" font-size="15.9" text-anchor="start" font-style="italic" letter-spacing="0.25">11p15.1</text>
<text x="1033.7" y="635.4" font-size="15.9" text-anchor="start" font-style="italic" letter-spacing="0.25">12p13.31</text>
<text x="936.0" y="650.5" font-size="15.9" text-anchor="start" font-style="italic" letter-spacing="0.25">10q26.3</text>
<text x="996.2" y="656.7" font-size="15.9" text-anchor="start" font-style="italic" letter-spacing="0.25">10q26.13</text>
<text x="925.9" y="701.7" font-size="15.9" text-anchor="start" font-style="italic" letter-spacing="0.25">10q11.21</text>
<text x="875.4" y="757.8" font-size="15.9" text-anchor="start" font-style="italic" letter-spacing="0.25">9q21.11</text>
<text x="827.0" y="730.9" font-size="15.9" text-anchor="end" font-style="italic" letter-spacing="0.25">7q11.21</text>
<text x="801.2" y="745.5" font-size="15.9" text-anchor="end" font-style="italic" letter-spacing="0.25">7q22.1</text>
<text x="1152.1" y="481.6" font-size="15.9" text-anchor="start" font-style="italic" letter-spacing="0.25">13q34</text>
<text x="1321.2" y="488.3" font-size="15.9" text-anchor="start" font-style="italic" letter-spacing="0.25">17q25.3</text>
<text x="1299.4" y="503.6" font-size="15.9" text-anchor="start" font-style="italic" letter-spacing="0.25">17q22</text>
<text x="1122.5" y="648.9" font-size="15.9" text-anchor="start" font-style="italic" letter-spacing="0.25">13q21.2</text>
<text x="1164.7" y="668.0" font-size="15.9" text-anchor="end" font-style="italic" letter-spacing="0.25">13q12.11</text>
<text x="1117.5" y="683.7" font-size="15.9" text-anchor="start" font-style="italic" letter-spacing="0.25">13q14.2</text>
<text x="1192.1" y="653.4" font-size="15.9" text-anchor="start" font-style="italic" letter-spacing="0.25">14q32.33</text>
<text x="1210.0" y="677.0" font-size="15.9" text-anchor="start" font-style="italic" letter-spacing="0.25">15q13.1</text>
<text x="1156.2" y="743.2" font-size="15.9" text-anchor="start" font-style="italic" letter-spacing="0.25">14q11.2</text>
<text x="1206.0" y="820.0" font-size="15.9" text-anchor="start" font-style="italic" letter-spacing="0.25">15q11.1</text>
<text x="1265.1" y="626.4" font-size="15.9" text-anchor="start" font-style="italic" letter-spacing="0.25">17q21.2</text>
<text x="1324.6" y="633.6" font-size="15.9" text-anchor="start" font-style="italic" letter-spacing="0.25">18p11.21</text>
<text x="1293.2" y="647.8" font-size="15.9" text-anchor="start" font-style="italic" letter-spacing="0.25">17p11.2</text>
<text x="1299.4" y="664.6" font-size="15.9" text-anchor="start" font-style="italic" letter-spacing="0.25">17p12</text>
<text x="1259.9" y="697.2" font-size="15.9" text-anchor="start" font-style="italic" letter-spacing="0.25">16q11.2</text>
<text x="1243.7" y="711.8" font-size="15.9" text-anchor="start" font-style="italic" letter-spacing="0.25">15q26.3</text>
<text x="1378.5" y="666.4" font-size="15.9" text-anchor="start" font-style="italic" letter-spacing="0.25">19q13.41</text>
<text x="1379.2" y="682.6" font-size="15.9" text-anchor="start" font-style="italic" letter-spacing="0.25">19q13.42</text>
<text x="1375.6" y="726.4" font-size="15.9" text-anchor="start" font-style="italic" letter-spacing="0.25">19p12</text>
<text x="1374.5" y="774.7" font-size="15.9" text-anchor="start" font-style="italic" letter-spacing="0.25">19q13.31</text>
<text x="1443.6" y="637.5" font-size="15.9" text-anchor="start" font-style="italic" letter-spacing="0.25">22q11.1</text>
</g>
<g id="panelC">
<rect x="109.80" y="905.20" width="1551.10" height="699.40" fill="#E0E0E0" />
<rect x="109.80" y="905.20" width="155.11" height="16.65" fill="#4DBBD5" />
<rect x="290.76" y="905.20" width="180.96" height="16.65" fill="#4DBBD5" />
<rect x="497.58" y="905.20" width="38.78" height="16.65" fill="#4DBBD5" />
<rect x="549.28" y="905.20" width="180.96" height="16.65" fill="#4DBBD5" />
<rect x="769.02" y="905.20" width="77.56" height="16.65" fill="#4DBBD5" />
<rect x="859.50" y="905.20" width="12.93" height="16.65" fill="#4DBBD5" />
<rect x="885.35" y="905.20" width="103.41" height="16.65" fill="#4DBBD5" />
<rect x="1001.68" y="905.20" width="155.11" height="16.65" fill="#4DBBD5" />
<rect x="1182.64" y="905.20" width="142.18" height="16.65" fill="#4DBBD5" />
<rect x="1337.75" y="905.20" width="129.26" height="16.65" fill="#4DBBD5" />
<rect x="1479.94" y="905.20" width="38.78" height="16.65" fill="#4DBBD5" />
<rect x="1531.64" y="905.20" width="51.70" height="16.65" fill="#4DBBD5" />
<rect x="1596.27" y="905.20" width="64.63" height="16.65" fill="#4DBBD5" />
<rect x="109.80" y="921.85" width="64.63" height="16.65" fill="#4DBBD5" />
<rect x="187.36" y="921.85" width="51.70" height="16.65" fill="#4DBBD5" />
<rect x="251.98" y="921.85" width="12.93" height="16.65" fill="#4DBBD5" />
<rect x="277.84" y="921.85" width="12.93" height="16.65" fill="#4DBBD5" />
<rect x="329.54" y="921.85" width="51.70" height="16.65" fill="#4DBBD5" />
<rect x="420.02" y="921.85" width="25.85" height="16.65" fill="#4DBBD5" />
<rect x="458.80" y="921.85" width="116.33" height="16.65" fill="#4DBBD5" />
<rect x="613.91" y="921.85" width="116.33" height="16.65" fill="#4DBBD5" />
<rect x="769.02" y="921.85" width="219.74" height="16.65" fill="#4DBBD5" />
<rect x="1001.68" y="921.85" width="25.85" height="16.65" fill="#4DBBD5" />
<rect x="1040.46" y="921.85" width="38.78" height="16.65" fill="#4DBBD5" />
<rect x="1118.02" y="921.85" width="155.11" height="16.65" fill="#4DBBD5" />
<rect x="1298.98" y="921.85" width="12.93" height="16.65" fill="#4DBBD5" />
<rect x="1324.83" y="921.85" width="116.33" height="16.65" fill="#4DBBD5" />
<rect x="1454.09" y="921.85" width="142.18" height="16.65" fill="#4DBBD5" />
<rect x="1609.20" y="921.85" width="51.70" height="16.65" fill="#4DBBD5" />
<rect x="200.28" y="938.50" width="103.41" height="16.65" fill="#4DBBD5" />
<rect x="458.80" y="938.50" width="387.78" height="16.65" fill="#4DBBD5" />
<rect x="885.35" y="938.50" width="232.67" height="16.65" fill="#4DBBD5" />
<rect x="1156.79" y="938.50" width="155.11" height="16.65" fill="#4DBBD5" />
<rect x="1324.83" y="938.50" width="129.26" height="16.65" fill="#4DBBD5" />
<rect x="1467.01" y="938.50" width="64.63" height="16.65" fill="#4DBBD5" />
<rect x="1544.57" y="938.50" width="77.56" height="16.65" fill="#4DBBD5" />
<rect x="1635.05" y="938.50" width="25.85" height="16.65" fill="#4DBBD5" />
<rect x="109.80" y="955.16" width="64.63" height="16.65" fill="#4DBBD5" />
<rect x="187.36" y="955.16" width="51.70" height="16.65" fill="#4DBBD5" />
<rect x="251.98" y="955.16" width="12.93" height="16.65" fill="#4DBBD5" />
<rect x="277.84" y="955.16" width="12.93" height="16.65" fill="#4DBBD5" />
<rect x="329.54" y="955.16" width="51.70" height="16.65" fill="#4DBBD5" />
<rect x="420.02" y="955.16" width="25.85" height="16.65" fill="#4DBBD5" />
<rect x="458.80" y="955.16" width="116.33" height="16.65" fill="#4DBBD5" />
<rect x="613.91" y="955.16" width="90.48" height="16.65" fill="#4DBBD5" />
<rect x="717.31" y="955.16" width="12.93" height="16.65" fill="#4DBBD5" />
<rect x="769.02" y="955.16" width="219.74" height="16.65" fill="#4DBBD5" />
<rect x="1001.68" y="955.16" width="12.93" height="16.65" fill="#4DBBD5" />
<rect x="1040.46" y="955.16" width="38.78" height="16.65" fill="#4DBBD5" />
<rect x="1118.02" y="955.16" width="155.11" height="16.65" fill="#4DBBD5" />
<rect x="1298.98" y="955.16" width="12.93" height="16.65" fill="#4DBBD5" />
<rect x="1324.83" y="955.16" width="116.33" height="16.65" fill="#4DBBD5" />
<rect x="1467.01" y="955.16" width="38.78" height="16.65" fill="#4DBBD5" />
<rect x="1518.72" y="955.16" width="77.56" height="16.65" fill="#4DBBD5" />
<rect x="1609.20" y="955.16" width="51.70" height="16.65" fill="#4DBBD5" />
<rect x="109.80" y="971.81" width="12.93" height="16.65" fill="#4DBBD5" />
<rect x="135.65" y="971.81" width="12.93" height="16.65" fill="#4DBBD5" />
<rect x="161.50" y="971.81" width="12.93" height="16.65" fill="#4DBBD5" />
<rect x="200.28" y="971.81" width="12.93" height="16.65" fill="#4DBBD5" />
<rect x="251.98" y="971.81" width="12.93" height="16.65" fill="#4DBBD5" />
<rect x="277.84" y="971.81" width="12.93" height="16.65" fill="#4DBBD5" />
<rect x="303.69" y="971.81" width="25.85" height="16.65" fill="#4DBBD5" />
<rect x="342.47" y="971.81" width="142.18" height="16.65" fill="#4DBBD5" />
<rect x="497.58" y="971.81" width="77.56" height="16.65" fill="#4DBBD5" />
<rect x="626.83" y="971.81" width="12.93" height="16.65" fill="#4DBBD5" />
<rect x="665.61" y="971.81" width="25.85" height="16.65" fill="#4DBBD5" />
<rect x="730.24" y="971.81" width="129.26" height="16.65" fill="#4DBBD5" />
<rect x="872.42" y="971.81" width="129.26" height="16.65" fill="#4DBBD5" />
<rect x="1027.53" y="971.81" width="25.85" height="16.65" fill="#4DBBD5" />
<rect x="1066.31" y="971.81" width="51.70" height="16.65" fill="#4DBBD5" />
<rect x="1143.87" y="971.81" width="38.78" height="16.65" fill="#4DBBD5" />
<rect x="1234.35" y="971.81" width="38.78" height="16.65" fill="#4DBBD5" />
<rect x="1286.05" y="971.81" width="38.78" height="16.65" fill="#4DBBD5" />
<rect x="1337.75" y="971.81" width="38.78" height="16.65" fill="#4DBBD5" />
<rect x="1389.46" y="971.81" width="38.78" height="16.65" fill="#4DBBD5" />
<rect x="1467.01" y="971.81" width="129.26" height="16.65" fill="#4DBBD5" />
<rect x="1609.20" y="971.81" width="51.70" height="16.65" fill="#4DBBD5" />
<rect x="109.80" y="988.46" width="51.70" height="16.65" fill="#4DBBD5" />
<rect x="187.36" y="988.46" width="38.78" height="16.65" fill="#4DBBD5" />
<rect x="277.84" y="988.46" width="12.93" height="16.65" fill="#4DBBD5" />
<rect x="303.69" y="988.46" width="12.93" height="16.65" fill="#4DBBD5" />
<rect x="329.54" y="988.46" width="12.93" height="16.65" fill="#4DBBD5" />
<rect x="381.24" y="988.46" width="38.78" height="16.65" fill="#4DBBD5" />
<rect x="458.80" y="988.46" width="12.93" height="16.65" fill="#4DBBD5" />
<rect x="497.58" y="988.46" width="38.78" height="16.65" fill="#4DBBD5" />
<rect x="652.69" y="988.46" width="38.78" height="16.65" fill="#4DBBD5" />
<rect x="730.24" y="988.46" width="116.33" height="16.65" fill="#4DBBD5" />
<rect x="885.35" y="988.46" width="51.70" height="16.65" fill="#4DBBD5" />
<rect x="949.98" y="988.46" width="168.04" height="16.65" fill="#4DBBD5" />
<rect x="1130.94" y="988.46" width="12.93" height="16.65" fill="#4DBBD5" />
<rect x="1156.79" y="988.46" width="155.11" height="16.65" fill="#4DBBD5" />
<rect x="1337.75" y="988.46" width="103.41" height="16.65" fill="#4DBBD5" />
<rect x="1467.01" y="988.46" width="116.33" height="16.65" fill="#4DBBD5" />
<rect x="1596.27" y="988.46" width="12.93" height="16.65" fill="#4DBBD5" />
<rect x="1622.12" y="988.46" width="38.78" height="16.65" fill="#4DBBD5" />
<rect x="109.80" y="1005.11" width="155.11" height="16.65" fill="#4DBBD5" />
<rect x="277.84" y="1005.11" width="64.63" height="16.65" fill="#4DBBD5" />
<rect x="394.17" y="1005.11" width="90.48" height="16.65" fill="#4DBBD5" />
<rect x="523.43" y="1005.11" width="168.04" height="16.65" fill="#4DBBD5" />
<rect x="730.24" y="1005.11" width="25.85" height="16.65" fill="#4DBBD5" />
<rect x="794.87" y="1005.11" width="12.93" height="16.65" fill="#4DBBD5" />
<rect x="833.65" y="1005.11" width="12.93" height="16.65" fill="#4DBBD5" />
<rect x="859.50" y="1005.11" width="12.93" height="16.65" fill="#4DBBD5" />
<rect x="885.35" y="1005.11" width="25.85" height="16.65" fill="#4DBBD5" />
<rect x="975.83" y="1005.11" width="12.93" height="16.65" fill="#4DBBD5" />
<rect x="1014.61" y="1005.11" width="12.93" height="16.65" fill="#4DBBD5" />
<rect x="1040.46" y="1005.11" width="77.56" height="16.65" fill="#4DBBD5" />
<rect x="1156.79" y="1005.11" width="38.78" height="16.65" fill="#4DBBD5" />
<rect x="1234.35" y="1005.11" width="25.85" height="16.65" fill="#4DBBD5" />
<rect x="1273.12" y="1005.11" width="12.93" height="16.65" fill="#4DBBD5" />
<rect x="1311.90" y="1005.11" width="116.33" height="16.65" fill="#4DBBD5" />
<rect x="1454.09" y="1005.11" width="12.93" height="16.65" fill="#4DBBD5" />
<rect x="1492.86" y="1005.11" width="12.93" height="16.65" fill="#4DBBD5" />
<rect x="1531.64" y="1005.11" width="129.26" height="16.65" fill="#4DBBD5" />
<rect x="187.36" y="1021.77" width="116.33" height="16.65" fill="#4DBBD5" />
<rect x="342.47" y="1021.77" width="77.56" height="16.65" fill="#4DBBD5" />
<rect x="497.58" y="1021.77" width="77.56" height="16.65" fill="#4DBBD5" />
<rect x="613.91" y="1021.77" width="232.67" height="16.65" fill="#4DBBD5" />
<rect x="885.35" y="1021.77" width="219.74" height="16.65" fill="#4DBBD5" />
<rect x="1156.79" y="1021.77" width="12.93" height="16.65" fill="#4DBBD5" />
<rect x="1182.64" y="1021.77" width="51.70" height="16.65" fill="#4DBBD5" />
<rect x="1247.27" y="1021.77" width="12.93" height="16.65" fill="#4DBBD5" />
<rect x="1286.05" y="1021.77" width="25.85" height="16.65" fill="#4DBBD5" />
<rect x="1324.83" y="1021.77" width="25.85" height="16.65" fill="#4DBBD5" />
<rect x="1376.53" y="1021.77" width="12.93" height="16.65" fill="#4DBBD5" />
<rect x="1402.38" y="1021.77" width="12.93" height="16.65" fill="#4DBBD5" />
<rect x="1428.24" y="1021.77" width="25.85" height="16.65" fill="#4DBBD5" />
<rect x="1467.01" y="1021.77" width="38.78" height="16.65" fill="#4DBBD5" />
<rect x="1622.12" y="1021.77" width="38.78" height="16.65" fill="#4DBBD5" />
<rect x="109.80" y="1038.42" width="38.78" height="16.65" fill="#4DBBD5" />
<rect x="187.36" y="1038.42" width="38.78" height="16.65" fill="#4DBBD5" />
<rect x="303.69" y="1038.42" width="38.78" height="16.65" fill="#4DBBD5" />
<rect x="381.24" y="1038.42" width="38.78" height="16.65" fill="#4DBBD5" />
<rect x="458.80" y="1038.42" width="38.78" height="16.65" fill="#4DBBD5" />
<rect x="536.35" y="1038.42" width="38.78" height="16.65" fill="#4DBBD5" />
<rect x="652.69" y="1038.42" width="271.44" height="16.65" fill="#4DBBD5" />
<rect x="962.91" y="1038.42" width="219.74" height="16.65" fill="#4DBBD5" />
<rect x="1195.57" y="1038.42" width="12.93" height="16.65" fill="#4DBBD5" />
<rect x="1221.42" y="1038.42" width="51.70" height="16.65" fill="#4DBBD5" />
<rect x="1337.75" y="1038.42" width="25.85" height="16.65" fill="#4DBBD5" />
<rect x="1467.01" y="1038.42" width="129.26" height="16.65" fill="#4DBBD5" />
<rect x="1609.20" y="1038.42" width="25.85" height="16.65" fill="#4DBBD5" />
<rect x="109.80" y="1055.07" width="25.85" height="16.65" fill="#4DBBD5" />
<rect x="148.58" y="1055.07" width="51.70" height="16.65" fill="#4DBBD5" />
<rect x="213.21" y="1055.07" width="51.70" height="16.65" fill="#4DBBD5" />
<rect x="316.61" y="1055.07" width="25.85" height="16.65" fill="#4DBBD5" />
<rect x="368.32" y="1055.07" width="90.48" height="16.65" fill="#4DBBD5" />
<rect x="497.58" y="1055.07" width="38.78" height="16.65" fill="#4DBBD5" />
<rect x="613.91" y="1055.07" width="38.78" height="16.65" fill="#4DBBD5" />
<rect x="665.61" y="1055.07" width="12.93" height="16.65" fill="#4DBBD5" />
<rect x="717.31" y="1055.07" width="25.85" height="16.65" fill="#4DBBD5" />
<rect x="756.09" y="1055.07" width="12.93" height="16.65" fill="#4DBBD5" />
<rect x="781.94" y="1055.07" width="12.93" height="16.65" fill="#4DBBD5" />
<rect x="820.72" y="1055.07" width="25.85" height="16.65" fill="#4DBBD5" />
<rect x="859.50" y="1055.07" width="12.93" height="16.65" fill="#4DBBD5" />
<rect x="911.20" y="1055.07" width="142.18" height="16.65" fill="#4DBBD5" />
<rect x="1079.24" y="1055.07" width="25.85" height="16.65" fill="#4DBBD5" />
<rect x="1156.79" y="1055.07" width="12.93" height="16.65" fill="#4DBBD5" />
<rect x="1182.64" y="1055.07" width="77.56" height="16.65" fill="#4DBBD5" />
<rect x="1286.05" y="1055.07" width="25.85" height="16.65" fill="#4DBBD5" />
<rect x="1350.68" y="1055.07" width="25.85" height="16.65" fill="#4DBBD5" />
<rect x="1389.46" y="1055.07" width="38.78" height="16.65" fill="#4DBBD5" />
<rect x="1441.16" y="1055.07" width="25.85" height="16.65" fill="#4DBBD5" />
<rect x="1479.94" y="1055.07" width="25.85" height="16.65" fill="#4DBBD5" />
<rect x="1518.72" y="1055.07" width="142.18" height="16.65" fill="#4DBBD5" />
<rect x="174.43" y="1071.72" width="129.26" height="16.65" fill="#E64B35" />
<rect x="381.24" y="1071.72" width="38.78" height="16.65" fill="#E64B35" />
<rect x="523.43" y="1071.72" width="51.70" height="16.65" fill="#E64B35" />
<rect x="600.98" y="1071.72" width="323.15" height="16.65" fill="#E64B35" />
<rect x="962.91" y="1071.72" width="77.56" height="16.65" fill="#E64B35" />
<rect x="1053.39" y="1071.72" width="142.18" height="16.65" fill="#E64B35" />
<rect x="1286.05" y="1071.72" width="12.93" height="16.65" fill="#E64B35" />
<rect x="1324.83" y="1071.72" width="25.85" height="16.65" fill="#E64B35" />
<rect x="1428.24" y="1071.72" width="25.85" height="16.65" fill="#E64B35" />
<rect x="1467.01" y="1071.72" width="38.78" height="16.65" fill="#E64B35" />
<rect x="1544.57" y="1071.72" width="77.56" height="16.65" fill="#E64B35" />
<rect x="187.36" y="1088.38" width="38.78" height="16.65" fill="#4DBBD5" />
<rect x="381.24" y="1088.38" width="38.78" height="16.65" fill="#4DBBD5" />
<rect x="458.80" y="1088.38" width="116.33" height="16.65" fill="#4DBBD5" />
<rect x="652.69" y="1088.38" width="426.55" height="16.65" fill="#4DBBD5" />
<rect x="1182.64" y="1088.38" width="90.48" height="16.65" fill="#4DBBD5" />
<rect x="1298.98" y="1088.38" width="12.93" height="16.65" fill="#4DBBD5" />
<rect x="1337.75" y="1088.38" width="12.93" height="16.65" fill="#4DBBD5" />
<rect x="1402.38" y="1088.38" width="12.93" height="16.65" fill="#4DBBD5" />
<rect x="1428.24" y="1088.38" width="12.93" height="16.65" fill="#4DBBD5" />
<rect x="1467.01" y="1088.38" width="38.78" height="16.65" fill="#4DBBD5" />
<rect x="1544.57" y="1088.38" width="51.70" height="16.65" fill="#4DBBD5" />
<rect x="1609.20" y="1088.38" width="51.70" height="16.65" fill="#4DBBD5" />
<rect x="187.36" y="1105.03" width="38.78" height="16.65" fill="#4DBBD5" />
<rect x="458.80" y="1105.03" width="116.33" height="16.65" fill="#4DBBD5" />
<rect x="652.69" y="1105.03" width="297.29" height="16.65" fill="#4DBBD5" />
<rect x="962.91" y="1105.03" width="116.33" height="16.65" fill="#4DBBD5" />
<rect x="1118.02" y="1105.03" width="12.93" height="16.65" fill="#4DBBD5" />
<rect x="1169.72" y="1105.03" width="77.56" height="16.65" fill="#4DBBD5" />
<rect x="1260.20" y="1105.03" width="12.93" height="16.65" fill="#4DBBD5" />
<rect x="1298.98" y="1105.03" width="12.93" height="16.65" fill="#4DBBD5" />
<rect x="1337.75" y="1105.03" width="25.85" height="16.65" fill="#4DBBD5" />
<rect x="1402.38" y="1105.03" width="38.78" height="16.65" fill="#4DBBD5" />
<rect x="1467.01" y="1105.03" width="38.78" height="16.65" fill="#4DBBD5" />
<rect x="1531.64" y="1105.03" width="64.63" height="16.65" fill="#4DBBD5" />
<rect x="1609.20" y="1105.03" width="51.70" height="16.65" fill="#4DBBD5" />
<rect x="187.36" y="1121.68" width="77.56" height="16.65" fill="#4DBBD5" />
<rect x="277.84" y="1121.68" width="12.93" height="16.65" fill="#4DBBD5" />
<rect x="381.24" y="1121.68" width="38.78" height="16.65" fill="#4DBBD5" />
<rect x="497.58" y="1121.68" width="77.56" height="16.65" fill="#4DBBD5" />
<rect x="652.69" y="1121.68" width="155.11" height="16.65" fill="#4DBBD5" />
<rect x="820.72" y="1121.68" width="12.93" height="16.65" fill="#4DBBD5" />
<rect x="885.35" y="1121.68" width="219.74" height="16.65" fill="#4DBBD5" />
<rect x="1156.79" y="1121.68" width="12.93" height="16.65" fill="#4DBBD5" />
<rect x="1182.64" y="1121.68" width="51.70" height="16.65" fill="#4DBBD5" />
<rect x="1286.05" y="1121.68" width="25.85" height="16.65" fill="#4DBBD5" />
<rect x="1324.83" y="1121.68" width="103.41" height="16.65" fill="#4DBBD5" />
<rect x="1467.01" y="1121.68" width="38.78" height="16.65" fill="#4DBBD5" />
<rect x="1531.64" y="1121.68" width="25.85" height="16.65" fill="#4DBBD5" />
<rect x="1609.20" y="1121.68" width="51.70" height="16.65" fill="#4DBBD5" />
<rect x="109.80" y="1138.33" width="38.78" height="16.65" fill="#E64B35" />
<rect x="264.91" y="1138.33" width="38.78" height="16.65" fill="#E64B35" />
<rect x="381.24" y="1138.33" width="38.78" height="16.65" fill="#E64B35" />
<rect x="536.35" y="1138.33" width="38.78" height="16.65" fill="#E64B35" />
<rect x="613.91" y="1138.33" width="38.78" height="16.65" fill="#E64B35" />
<rect x="730.24" y="1138.33" width="25.85" height="16.65" fill="#E64B35" />
<rect x="769.02" y="1138.33" width="51.70" height="16.65" fill="#E64B35" />
<rect x="846.57" y="1138.33" width="129.26" height="16.65" fill="#E64B35" />
<rect x="1001.68" y="1138.33" width="206.81" height="16.65" fill="#E64B35" />
<rect x="1221.42" y="1138.33" width="51.70" height="16.65" fill="#E64B35" />
<rect x="1286.05" y="1138.33" width="25.85" height="16.65" fill="#E64B35" />
<rect x="1376.53" y="1138.33" width="12.93" height="16.65" fill="#E64B35" />
<rect x="1402.38" y="1138.33" width="12.93" height="16.65" fill="#E64B35" />
<rect x="1467.01" y="1138.33" width="64.63" height="16.65" fill="#E64B35" />
<rect x="1544.57" y="1138.33" width="116.33" height="16.65" fill="#E64B35" />
<rect x="174.43" y="1154.99" width="129.26" height="16.65" fill="#E64B35" />
<rect x="381.24" y="1154.99" width="25.85" height="16.65" fill="#E64B35" />
<rect x="523.43" y="1154.99" width="51.70" height="16.65" fill="#E64B35" />
<rect x="600.98" y="1154.99" width="90.48" height="16.65" fill="#E64B35" />
<rect x="730.24" y="1154.99" width="193.89" height="16.65" fill="#E64B35" />
<rect x="962.91" y="1154.99" width="103.41" height="16.65" fill="#E64B35" />
<rect x="1079.24" y="1154.99" width="116.33" height="16.65" fill="#E64B35" />
<rect x="1324.83" y="1154.99" width="25.85" height="16.65" fill="#E64B35" />
<rect x="1428.24" y="1154.99" width="25.85" height="16.65" fill="#E64B35" />
<rect x="1467.01" y="1154.99" width="38.78" height="16.65" fill="#E64B35" />
<rect x="1544.57" y="1154.99" width="77.56" height="16.65" fill="#E64B35" />
<rect x="109.80" y="1171.64" width="12.93" height="16.65" fill="#E64B35" />
<rect x="226.13" y="1171.64" width="77.56" height="16.65" fill="#E64B35" />
<rect x="497.58" y="1171.64" width="38.78" height="16.65" fill="#E64B35" />
<rect x="575.13" y="1171.64" width="51.70" height="16.65" fill="#E64B35" />
<rect x="691.46" y="1171.64" width="38.78" height="16.65" fill="#E64B35" />
<rect x="846.57" y="1171.64" width="413.63" height="16.65" fill="#E64B35" />
<rect x="1298.98" y="1171.64" width="12.93" height="16.65" fill="#E64B35" />
<rect x="1324.83" y="1171.64" width="51.70" height="16.65" fill="#E64B35" />
<rect x="1389.46" y="1171.64" width="38.78" height="16.65" fill="#E64B35" />
<rect x="1531.64" y="1171.64" width="129.26" height="16.65" fill="#E64B35" />
<rect x="109.80" y="1188.29" width="38.78" height="16.65" fill="#4DBBD5" />
<rect x="187.36" y="1188.29" width="12.93" height="16.65" fill="#4DBBD5" />
<rect x="213.21" y="1188.29" width="25.85" height="16.65" fill="#4DBBD5" />
<rect x="251.98" y="1188.29" width="12.93" height="16.65" fill="#4DBBD5" />
<rect x="316.61" y="1188.29" width="12.93" height="16.65" fill="#4DBBD5" />
<rect x="342.47" y="1188.29" width="12.93" height="16.65" fill="#4DBBD5" />
<rect x="368.32" y="1188.29" width="12.93" height="16.65" fill="#4DBBD5" />
<rect x="432.95" y="1188.29" width="12.93" height="16.65" fill="#4DBBD5" />
<rect x="458.80" y="1188.29" width="38.78" height="16.65" fill="#4DBBD5" />
<rect x="613.91" y="1188.29" width="25.85" height="16.65" fill="#4DBBD5" />
<rect x="652.69" y="1188.29" width="12.93" height="16.65" fill="#4DBBD5" />
<rect x="678.54" y="1188.29" width="25.85" height="16.65" fill="#4DBBD5" />
<rect x="717.31" y="1188.29" width="51.70" height="16.65" fill="#4DBBD5" />
<rect x="807.80" y="1188.29" width="116.33" height="16.65" fill="#4DBBD5" />
<rect x="949.98" y="1188.29" width="12.93" height="16.65" fill="#4DBBD5" />
<rect x="1001.68" y="1188.29" width="38.78" height="16.65" fill="#4DBBD5" />
<rect x="1079.24" y="1188.29" width="180.96" height="16.65" fill="#4DBBD5" />
<rect x="1350.68" y="1188.29" width="77.56" height="16.65" fill="#4DBBD5" />
<rect x="1467.01" y="1188.29" width="12.93" height="16.65" fill="#4DBBD5" />
<rect x="1492.86" y="1188.29" width="12.93" height="16.65" fill="#4DBBD5" />
<rect x="1531.64" y="1188.29" width="64.63" height="16.65" fill="#4DBBD5" />
<rect x="1609.20" y="1188.29" width="51.70" height="16.65" fill="#4DBBD5" />
<rect x="187.36" y="1204.94" width="38.78" height="16.65" fill="#4DBBD5" />
<rect x="368.32" y="1204.94" width="51.70" height="16.65" fill="#4DBBD5" />
<rect x="458.80" y="1204.94" width="38.78" height="16.65" fill="#4DBBD5" />
<rect x="510.50" y="1204.94" width="12.93" height="16.65" fill="#4DBBD5" />
<rect x="536.35" y="1204.94" width="38.78" height="16.65" fill="#4DBBD5" />
<rect x="613.91" y="1204.94" width="12.93" height="16.65" fill="#4DBBD5" />
<rect x="730.24" y="1204.94" width="193.89" height="16.65" fill="#4DBBD5" />
<rect x="949.98" y="1204.94" width="90.48" height="16.65" fill="#4DBBD5" />
<rect x="1053.39" y="1204.94" width="38.78" height="16.65" fill="#4DBBD5" />
<rect x="1118.02" y="1204.94" width="129.26" height="16.65" fill="#4DBBD5" />
<rect x="1286.05" y="1204.94" width="12.93" height="16.65" fill="#4DBBD5" />
<rect x="1324.83" y="1204.94" width="38.78" height="16.65" fill="#4DBBD5" />
<rect x="1376.53" y="1204.94" width="12.93" height="16.65" fill="#4DBBD5" />
<rect x="1415.31" y="1204.94" width="38.78" height="16.65" fill="#4DBBD5" />
<rect x="1467.01" y="1204.94" width="38.78" height="16.65" fill="#4DBBD5" />
<rect x="1531.64" y="1204.94" width="25.85" height="16.65" fill="#4DBBD5" />
<rect x="1583.35" y="1204.94" width="12.93" height="16.65" fill="#4DBBD5" />
<rect x="1609.20" y="1204.94" width="25.85" height="16.65" fill="#4DBBD5" />
<rect x="1647.97" y="1204.94" width="12.93" height="16.65" fill="#4DBBD5" />
<rect x="109.80" y="1221.60" width="38.78" height="16.65" fill="#E64B35" />
<rect x="264.91" y="1221.60" width="38.78" height="16.65" fill="#E64B35" />
<rect x="381.24" y="1221.60" width="38.78" height="16.65" fill="#E64B35" />
<rect x="536.35" y="1221.60" width="38.78" height="16.65" fill="#E64B35" />
<rect x="613.91" y="1221.60" width="38.78" height="16.65" fill="#E64B35" />
<rect x="730.24" y="1221.60" width="25.85" height="16.65" fill="#E64B35" />
<rect x="769.02" y="1221.60" width="51.70" height="16.65" fill="#E64B35" />
<rect x="846.57" y="1221.60" width="129.26" height="16.65" fill="#E64B35" />
<rect x="1001.68" y="1221.60" width="51.70" height="16.65" fill="#E64B35" />
<rect x="1079.24" y="1221.60" width="129.26" height="16.65" fill="#E64B35" />
<rect x="1221.42" y="1221.60" width="51.70" height="16.65" fill="#E64B35" />
<rect x="1286.05" y="1221.60" width="25.85" height="16.65" fill="#E64B35" />
<rect x="1402.38" y="1221.60" width="12.93" height="16.65" fill="#E64B35" />
<rect x="1428.24" y="1221.60" width="12.93" height="16.65" fill="#E64B35" />
<rect x="1467.01" y="1221.60" width="64.63" height="16.65" fill="#E64B35" />
<rect x="1544.57" y="1221.60" width="25.85" height="16.65" fill="#E64B35" />
<rect x="1583.35" y="1221.60" width="64.63" height="16.65" fill="#E64B35" />
<rect x="187.36" y="1238.25" width="77.56" height="16.65" fill="#E64B35" />
<rect x="420.02" y="1238.25" width="77.56" height="16.65" fill="#E64B35" />
<rect x="536.35" y="1238.25" width="77.56" height="16.65" fill="#E64B35" />
<rect x="691.46" y="1238.25" width="155.11" height="16.65" fill="#E64B35" />
<rect x="859.50" y="1238.25" width="12.93" height="16.65" fill="#E64B35" />
<rect x="885.35" y="1238.25" width="51.70" height="16.65" fill="#E64B35" />
<rect x="962.91" y="1238.25" width="155.11" height="16.65" fill="#E64B35" />
<rect x="1156.79" y="1238.25" width="77.56" height="16.65" fill="#E64B35" />
<rect x="1324.83" y="1238.25" width="25.85" height="16.65" fill="#E64B35" />
<rect x="1467.01" y="1238.25" width="38.78" height="16.65" fill="#E64B35" />
<rect x="1583.35" y="1238.25" width="77.56" height="16.65" fill="#E64B35" />
<rect x="342.47" y="1254.90" width="232.67" height="16.65" fill="#E64B35" />
<rect x="613.91" y="1254.90" width="142.18" height="16.65" fill="#E64B35" />
<rect x="769.02" y="1254.90" width="38.78" height="16.65" fill="#E64B35" />
<rect x="846.57" y="1254.90" width="38.78" height="16.65" fill="#E64B35" />
<rect x="962.91" y="1254.90" width="12.93" height="16.65" fill="#E64B35" />
<rect x="988.76" y="1254.90" width="64.63" height="16.65" fill="#E64B35" />
<rect x="1079.24" y="1254.90" width="90.48" height="16.65" fill="#E64B35" />
<rect x="1182.64" y="1254.90" width="51.70" height="16.65" fill="#E64B35" />
<rect x="1298.98" y="1254.90" width="12.93" height="16.65" fill="#E64B35" />
<rect x="1324.83" y="1254.90" width="12.93" height="16.65" fill="#E64B35" />
<rect x="1402.38" y="1254.90" width="12.93" height="16.65" fill="#E64B35" />
<rect x="1467.01" y="1254.90" width="64.63" height="16.65" fill="#E64B35" />
<rect x="1596.27" y="1254.90" width="12.93" height="16.65" fill="#E64B35" />
<rect x="1622.12" y="1254.90" width="25.85" height="16.65" fill="#E64B35" />
<rect x="109.80" y="1271.55" width="38.78" height="16.65" fill="#E64B35" />
<rect x="187.36" y="1271.55" width="77.56" height="16.65" fill="#E64B35" />
<rect x="420.02" y="1271.55" width="77.56" height="16.65" fill="#E64B35" />
<rect x="536.35" y="1271.55" width="77.56" height="16.65" fill="#E64B35" />
<rect x="691.46" y="1271.55" width="155.11" height="16.65" fill="#E64B35" />
<rect x="885.35" y="1271.55" width="51.70" height="16.65" fill="#E64B35" />
<rect x="962.91" y="1271.55" width="155.11" height="16.65" fill="#E64B35" />
<rect x="1156.79" y="1271.55" width="38.78" height="16.65" fill="#E64B35" />
<rect x="1208.50" y="1271.55" width="12.93" height="16.65" fill="#E64B35" />
<rect x="1324.83" y="1271.55" width="25.85" height="16.65" fill="#E64B35" />
<rect x="1467.01" y="1271.55" width="38.78" height="16.65" fill="#E64B35" />
<rect x="1596.27" y="1271.55" width="64.63" height="16.65" fill="#E64B35" />
<rect x="187.36" y="1288.20" width="116.33" height="16.65" fill="#4DBBD5" />
<rect x="342.47" y="1288.20" width="77.56" height="16.65" fill="#4DBBD5" />
<rect x="497.58" y="1288.20" width="77.56" height="16.65" fill="#4DBBD5" />
<rect x="613.91" y="1288.20" width="12.93" height="16.65" fill="#4DBBD5" />
<rect x="652.69" y="1288.20" width="116.33" height="16.65" fill="#4DBBD5" />
<rect x="807.80" y="1288.20" width="38.78" height="16.65" fill="#4DBBD5" />
<rect x="885.35" y="1288.20" width="155.11" height="16.65" fill="#4DBBD5" />
<rect x="1079.24" y="1288.20" width="25.85" height="16.65" fill="#4DBBD5" />
<rect x="1156.79" y="1288.20" width="12.93" height="16.65" fill="#4DBBD5" />
<rect x="1182.64" y="1288.20" width="51.70" height="16.65" fill="#4DBBD5" />
<rect x="1324.83" y="1288.20" width="38.78" height="16.65" fill="#4DBBD5" />
<rect x="1389.46" y="1288.20" width="12.93" height="16.65" fill="#4DBBD5" />
<rect x="1467.01" y="1288.20" width="38.78" height="16.65" fill="#4DBBD5" />
<rect x="1622.12" y="1288.20" width="38.78" height="16.65" fill="#4DBBD5" />
<rect x="109.80" y="1304.86" width="38.78" height="16.65" fill="#4DBBD5" />
<rect x="161.50" y="1304.86" width="12.93" height="16.65" fill="#4DBBD5" />
<rect x="187.36" y="1304.86" width="51.70" height="16.65" fill="#4DBBD5" />
<rect x="251.98" y="1304.86" width="12.93" height="16.65" fill="#4DBBD5" />
<rect x="342.47" y="1304.86" width="38.78" height="16.65" fill="#4DBBD5" />
<rect x="432.95" y="1304.86" width="12.93" height="16.65" fill="#4DBBD5" />
<rect x="458.80" y="1304.86" width="51.70" height="16.65" fill="#4DBBD5" />
<rect x="523.43" y="1304.86" width="12.93" height="16.65" fill="#4DBBD5" />
<rect x="549.28" y="1304.86" width="25.85" height="16.65" fill="#4DBBD5" />
<rect x="613.91" y="1304.86" width="51.70" height="16.65" fill="#4DBBD5" />
<rect x="730.24" y="1304.86" width="12.93" height="16.65" fill="#4DBBD5" />
<rect x="756.09" y="1304.86" width="77.56" height="16.65" fill="#4DBBD5" />
<rect x="924.13" y="1304.86" width="25.85" height="16.65" fill="#4DBBD5" />
<rect x="962.91" y="1304.86" width="12.93" height="16.65" fill="#4DBBD5" />
<rect x="988.76" y="1304.86" width="12.93" height="16.65" fill="#4DBBD5" />
<rect x="1079.24" y="1304.86" width="12.93" height="16.65" fill="#4DBBD5" />
<rect x="1118.02" y="1304.86" width="51.70" height="16.65" fill="#4DBBD5" />
<rect x="1182.64" y="1304.86" width="51.70" height="16.65" fill="#4DBBD5" />
<rect x="1337.75" y="1304.86" width="77.56" height="16.65" fill="#4DBBD5" />
<rect x="1428.24" y="1304.86" width="12.93" height="16.65" fill="#4DBBD5" />
<rect x="1454.09" y="1304.86" width="51.70" height="16.65" fill="#4DBBD5" />
<rect x="1531.64" y="1304.86" width="64.63" height="16.65" fill="#4DBBD5" />
<rect x="1622.12" y="1304.86" width="38.78" height="16.65" fill="#4DBBD5" />
<rect x="109.80" y="1321.51" width="38.78" height="16.65" fill="#4DBBD5" />
<rect x="213.21" y="1321.51" width="12.93" height="16.65" fill="#4DBBD5" />
<rect x="381.24" y="1321.51" width="38.78" height="16.65" fill="#4DBBD5" />
<rect x="458.80" y="1321.51" width="38.78" height="16.65" fill="#4DBBD5" />
<rect x="536.35" y="1321.51" width="38.78" height="16.65" fill="#4DBBD5" />
<rect x="613.91" y="1321.51" width="77.56" height="16.65" fill="#4DBBD5" />
<rect x="730.24" y="1321.51" width="12.93" height="16.65" fill="#4DBBD5" />
<rect x="769.02" y="1321.51" width="38.78" height="16.65" fill="#4DBBD5" />
<rect x="859.50" y="1321.51" width="25.85" height="16.65" fill="#4DBBD5" />
<rect x="924.13" y="1321.51" width="38.78" height="16.65" fill="#4DBBD5" />
<rect x="988.76" y="1321.51" width="51.70" height="16.65" fill="#4DBBD5" />
<rect x="1053.39" y="1321.51" width="12.93" height="16.65" fill="#4DBBD5" />
<rect x="1169.72" y="1321.51" width="12.93" height="16.65" fill="#4DBBD5" />
<rect x="1195.57" y="1321.51" width="77.56" height="16.65" fill="#4DBBD5" />
<rect x="1286.05" y="1321.51" width="25.85" height="16.65" fill="#4DBBD5" />
<rect x="1324.83" y="1321.51" width="51.70" height="16.65" fill="#4DBBD5" />
<rect x="1389.46" y="1321.51" width="64.63" height="16.65" fill="#4DBBD5" />
<rect x="1467.01" y="1321.51" width="77.56" height="16.65" fill="#4DBBD5" />
<rect x="1583.35" y="1321.51" width="12.93" height="16.65" fill="#4DBBD5" />
<rect x="1609.20" y="1321.51" width="51.70" height="16.65" fill="#4DBBD5" />
<rect x="187.36" y="1338.16" width="12.93" height="16.65" fill="#4DBBD5" />
<rect x="213.21" y="1338.16" width="12.93" height="16.65" fill="#4DBBD5" />
<rect x="407.09" y="1338.16" width="12.93" height="16.65" fill="#4DBBD5" />
<rect x="458.80" y="1338.16" width="116.33" height="16.65" fill="#4DBBD5" />
<rect x="730.24" y="1338.16" width="77.56" height="16.65" fill="#4DBBD5" />
<rect x="846.57" y="1338.16" width="12.93" height="16.65" fill="#4DBBD5" />
<rect x="872.42" y="1338.16" width="64.63" height="16.65" fill="#4DBBD5" />
<rect x="962.91" y="1338.16" width="12.93" height="16.65" fill="#4DBBD5" />
<rect x="988.76" y="1338.16" width="103.41" height="16.65" fill="#4DBBD5" />
<rect x="1156.79" y="1338.16" width="116.33" height="16.65" fill="#4DBBD5" />
<rect x="1298.98" y="1338.16" width="12.93" height="16.65" fill="#4DBBD5" />
<rect x="1324.83" y="1338.16" width="64.63" height="16.65" fill="#4DBBD5" />
<rect x="1402.38" y="1338.16" width="38.78" height="16.65" fill="#4DBBD5" />
<rect x="1467.01" y="1338.16" width="38.78" height="16.65" fill="#4DBBD5" />
<rect x="1531.64" y="1338.16" width="64.63" height="16.65" fill="#4DBBD5" />
<rect x="1609.20" y="1338.16" width="12.93" height="16.65" fill="#4DBBD5" />
<rect x="1635.05" y="1338.16" width="25.85" height="16.65" fill="#4DBBD5" />
<rect x="187.36" y="1354.81" width="38.78" height="16.65" fill="#4DBBD5" />
<rect x="458.80" y="1354.81" width="116.33" height="16.65" fill="#4DBBD5" />
<rect x="730.24" y="1354.81" width="206.81" height="16.65" fill="#4DBBD5" />
<rect x="962.91" y="1354.81" width="12.93" height="16.65" fill="#4DBBD5" />
<rect x="988.76" y="1354.81" width="103.41" height="16.65" fill="#4DBBD5" />
<rect x="1156.79" y="1354.81" width="38.78" height="16.65" fill="#4DBBD5" />
<rect x="1234.35" y="1354.81" width="38.78" height="16.65" fill="#4DBBD5" />
<rect x="1298.98" y="1354.81" width="12.93" height="16.65" fill="#4DBBD5" />
<rect x="1324.83" y="1354.81" width="38.78" height="16.65" fill="#4DBBD5" />
<rect x="1376.53" y="1354.81" width="12.93" height="16.65" fill="#4DBBD5" />
<rect x="1402.38" y="1354.81" width="38.78" height="16.65" fill="#4DBBD5" />
<rect x="1467.01" y="1354.81" width="38.78" height="16.65" fill="#4DBBD5" />
<rect x="1544.57" y="1354.81" width="51.70" height="16.65" fill="#4DBBD5" />
<rect x="1609.20" y="1354.81" width="12.93" height="16.65" fill="#4DBBD5" />
<rect x="1635.05" y="1354.81" width="25.85" height="16.65" fill="#4DBBD5" />
<rect x="109.80" y="1371.47" width="38.78" height="16.65" fill="#4DBBD5" />
<rect x="200.28" y="1371.47" width="25.85" height="16.65" fill="#4DBBD5" />
<rect x="381.24" y="1371.47" width="38.78" height="16.65" fill="#4DBBD5" />
<rect x="458.80" y="1371.47" width="77.56" height="16.65" fill="#4DBBD5" />
<rect x="613.91" y="1371.47" width="77.56" height="16.65" fill="#4DBBD5" />
<rect x="769.02" y="1371.47" width="77.56" height="16.65" fill="#4DBBD5" />
<rect x="859.50" y="1371.47" width="103.41" height="16.65" fill="#4DBBD5" />
<rect x="988.76" y="1371.47" width="51.70" height="16.65" fill="#4DBBD5" />
<rect x="1053.39" y="1371.47" width="12.93" height="16.65" fill="#4DBBD5" />
<rect x="1169.72" y="1371.47" width="12.93" height="16.65" fill="#4DBBD5" />
<rect x="1195.57" y="1371.47" width="77.56" height="16.65" fill="#4DBBD5" />
<rect x="1298.98" y="1371.47" width="12.93" height="16.65" fill="#4DBBD5" />
<rect x="1402.38" y="1371.47" width="12.93" height="16.65" fill="#4DBBD5" />
<rect x="1428.24" y="1371.47" width="25.85" height="16.65" fill="#4DBBD5" />
<rect x="1467.01" y="1371.47" width="64.63" height="16.65" fill="#4DBBD5" />
<rect x="1544.57" y="1371.47" width="25.85" height="16.65" fill="#4DBBD5" />
<rect x="1583.35" y="1371.47" width="12.93" height="16.65" fill="#4DBBD5" />
<rect x="1609.20" y="1371.47" width="12.93" height="16.65" fill="#4DBBD5" />
<rect x="1635.05" y="1371.47" width="12.93" height="16.65" fill="#4DBBD5" />
<rect x="109.80" y="1388.12" width="25.85" height="16.65" fill="#4DBBD5" />
<rect x="200.28" y="1388.12" width="25.85" height="16.65" fill="#4DBBD5" />
<rect x="381.24" y="1388.12" width="38.78" height="16.65" fill="#4DBBD5" />
<rect x="497.58" y="1388.12" width="77.56" height="16.65" fill="#4DBBD5" />
<rect x="613.91" y="1388.12" width="77.56" height="16.65" fill="#4DBBD5" />
<rect x="769.02" y="1388.12" width="77.56" height="16.65" fill="#4DBBD5" />
<rect x="859.50" y="1388.12" width="12.93" height="16.65" fill="#4DBBD5" />
<rect x="885.35" y="1388.12" width="38.78" height="16.65" fill="#4DBBD5" />
<rect x="988.76" y="1388.12" width="51.70" height="16.65" fill="#4DBBD5" />
<rect x="1053.39" y="1388.12" width="12.93" height="16.65" fill="#4DBBD5" />
<rect x="1169.72" y="1388.12" width="12.93" height="16.65" fill="#4DBBD5" />
<rect x="1195.57" y="1388.12" width="77.56" height="16.65" fill="#4DBBD5" />
<rect x="1286.05" y="1388.12" width="25.85" height="16.65" fill="#4DBBD5" />
<rect x="1324.83" y="1388.12" width="25.85" height="16.65" fill="#4DBBD5" />
<rect x="1402.38" y="1388.12" width="12.93" height="16.65" fill="#4DBBD5" />
<rect x="1428.24" y="1388.12" width="25.85" height="16.65" fill="#4DBBD5" />
<rect x="1467.01" y="1388.12" width="64.63" height="16.65" fill="#4DBBD5" />
<rect x="1544.57" y="1388.12" width="25.85" height="16.65" fill="#4DBBD5" />
<rect x="1583.35" y="1388.12" width="12.93" height="16.65" fill="#4DBBD5" />
<rect x="1609.20" y="1388.12" width="51.70" height="16.65" fill="#4DBBD5" />
<rect x="109.80" y="1404.77" width="12.93" height="16.65" fill="#4DBBD5" />
<rect x="135.65" y="1404.77" width="12.93" height="16.65" fill="#4DBBD5" />
<rect x="187.36" y="1404.77" width="25.85" height="16.65" fill="#4DBBD5" />
<rect x="226.13" y="1404.77" width="77.56" height="16.65" fill="#4DBBD5" />
<rect x="497.58" y="1404.77" width="116.33" height="16.65" fill="#4DBBD5" />
<rect x="652.69" y="1404.77" width="77.56" height="16.65" fill="#4DBBD5" />
<rect x="756.09" y="1404.77" width="51.70" height="16.65" fill="#4DBBD5" />
<rect x="846.57" y="1404.77" width="116.33" height="16.65" fill="#4DBBD5" />
<rect x="1001.68" y="1404.77" width="38.78" height="16.65" fill="#4DBBD5" />
<rect x="1066.31" y="1404.77" width="12.93" height="16.65" fill="#4DBBD5" />
<rect x="1118.02" y="1404.77" width="38.78" height="16.65" fill="#4DBBD5" />
<rect x="1195.57" y="1404.77" width="12.93" height="16.65" fill="#4DBBD5" />
<rect x="1221.42" y="1404.77" width="12.93" height="16.65" fill="#4DBBD5" />
<rect x="1350.68" y="1404.77" width="25.85" height="16.65" fill="#4DBBD5" />
<rect x="1389.46" y="1404.77" width="12.93" height="16.65" fill="#4DBBD5" />
<rect x="1492.86" y="1404.77" width="12.93" height="16.65" fill="#4DBBD5" />
<rect x="1531.64" y="1404.77" width="90.48" height="16.65" fill="#4DBBD5" />
<rect x="1635.05" y="1404.77" width="25.85" height="16.65" fill="#4DBBD5" />
<rect x="342.47" y="1421.42" width="38.78" height="16.65" fill="#E64B35" />
<rect x="420.02" y="1421.42" width="12.93" height="16.65" fill="#E64B35" />
<rect x="445.87" y="1421.42" width="129.26" height="16.65" fill="#E64B35" />
<rect x="652.69" y="1421.42" width="25.85" height="16.65" fill="#E64B35" />
<rect x="730.24" y="1421.42" width="77.56" height="16.65" fill="#E64B35" />
<rect x="885.35" y="1421.42" width="51.70" height="16.65" fill="#E64B35" />
<rect x="962.91" y="1421.42" width="77.56" height="16.65" fill="#E64B35" />
<rect x="1053.39" y="1421.42" width="142.18" height="16.65" fill="#E64B35" />
<rect x="1324.83" y="1421.42" width="25.85" height="16.65" fill="#E64B35" />
<rect x="1402.38" y="1421.42" width="12.93" height="16.65" fill="#E64B35" />
<rect x="1428.24" y="1421.42" width="25.85" height="16.65" fill="#E64B35" />
<rect x="1467.01" y="1421.42" width="64.63" height="16.65" fill="#E64B35" />
<rect x="1544.57" y="1421.42" width="38.78" height="16.65" fill="#E64B35" />
<rect x="1596.27" y="1421.42" width="12.93" height="16.65" fill="#E64B35" />
<rect x="1635.05" y="1421.42" width="25.85" height="16.65" fill="#E64B35" />
<rect x="109.80" y="1438.08" width="38.78" height="16.65" fill="#4DBBD5" />
<rect x="161.50" y="1438.08" width="12.93" height="16.65" fill="#4DBBD5" />
<rect x="200.28" y="1438.08" width="38.78" height="16.65" fill="#4DBBD5" />
<rect x="251.98" y="1438.08" width="12.93" height="16.65" fill="#4DBBD5" />
<rect x="329.54" y="1438.08" width="51.70" height="16.65" fill="#4DBBD5" />
<rect x="432.95" y="1438.08" width="12.93" height="16.65" fill="#4DBBD5" />
<rect x="458.80" y="1438.08" width="38.78" height="16.65" fill="#4DBBD5" />
<rect x="562.20" y="1438.08" width="12.93" height="16.65" fill="#4DBBD5" />
<rect x="613.91" y="1438.08" width="51.70" height="16.65" fill="#4DBBD5" />
<rect x="730.24" y="1438.08" width="12.93" height="16.65" fill="#4DBBD5" />
<rect x="756.09" y="1438.08" width="64.63" height="16.65" fill="#4DBBD5" />
<rect x="846.57" y="1438.08" width="38.78" height="16.65" fill="#4DBBD5" />
<rect x="1001.68" y="1438.08" width="12.93" height="16.65" fill="#4DBBD5" />
<rect x="1053.39" y="1438.08" width="12.93" height="16.65" fill="#4DBBD5" />
<rect x="1079.24" y="1438.08" width="38.78" height="16.65" fill="#4DBBD5" />
<rect x="1195.57" y="1438.08" width="12.93" height="16.65" fill="#4DBBD5" />
<rect x="1221.42" y="1438.08" width="12.93" height="16.65" fill="#4DBBD5" />
<rect x="1337.75" y="1438.08" width="103.41" height="16.65" fill="#4DBBD5" />
<rect x="1454.09" y="1438.08" width="51.70" height="16.65" fill="#4DBBD5" />
<rect x="1518.72" y="1438.08" width="51.70" height="16.65" fill="#4DBBD5" />
<rect x="1583.35" y="1438.08" width="25.85" height="16.65" fill="#4DBBD5" />
<rect x="1622.12" y="1438.08" width="38.78" height="16.65" fill="#4DBBD5" />
<rect x="109.80" y="1454.73" width="38.78" height="16.65" fill="#4DBBD5" />
<rect x="187.36" y="1454.73" width="12.93" height="16.65" fill="#4DBBD5" />
<rect x="251.98" y="1454.73" width="12.93" height="16.65" fill="#4DBBD5" />
<rect x="458.80" y="1454.73" width="12.93" height="16.65" fill="#4DBBD5" />
<rect x="497.58" y="1454.73" width="38.78" height="16.65" fill="#4DBBD5" />
<rect x="730.24" y="1454.73" width="38.78" height="16.65" fill="#4DBBD5" />
<rect x="807.80" y="1454.73" width="38.78" height="16.65" fill="#4DBBD5" />
<rect x="885.35" y="1454.73" width="51.70" height="16.65" fill="#4DBBD5" />
<rect x="962.91" y="1454.73" width="12.93" height="16.65" fill="#4DBBD5" />
<rect x="988.76" y="1454.73" width="129.26" height="16.65" fill="#4DBBD5" />
<rect x="1195.57" y="1454.73" width="77.56" height="16.65" fill="#4DBBD5" />
<rect x="1286.05" y="1454.73" width="25.85" height="16.65" fill="#4DBBD5" />
<rect x="1337.75" y="1454.73" width="25.85" height="16.65" fill="#4DBBD5" />
<rect x="1376.53" y="1454.73" width="64.63" height="16.65" fill="#4DBBD5" />
<rect x="1454.09" y="1454.73" width="129.26" height="16.65" fill="#4DBBD5" />
<rect x="1622.12" y="1454.73" width="25.85" height="16.65" fill="#4DBBD5" />
<rect x="109.80" y="1471.38" width="38.78" height="16.65" fill="#4DBBD5" />
<rect x="187.36" y="1471.38" width="12.93" height="16.65" fill="#4DBBD5" />
<rect x="213.21" y="1471.38" width="12.93" height="16.65" fill="#4DBBD5" />
<rect x="239.06" y="1471.38" width="12.93" height="16.65" fill="#4DBBD5" />
<rect x="381.24" y="1471.38" width="38.78" height="16.65" fill="#4DBBD5" />
<rect x="432.95" y="1471.38" width="12.93" height="16.65" fill="#4DBBD5" />
<rect x="458.80" y="1471.38" width="12.93" height="16.65" fill="#4DBBD5" />
<rect x="613.91" y="1471.38" width="51.70" height="16.65" fill="#4DBBD5" />
<rect x="691.46" y="1471.38" width="51.70" height="16.65" fill="#4DBBD5" />
<rect x="769.02" y="1471.38" width="38.78" height="16.65" fill="#4DBBD5" />
<rect x="859.50" y="1471.38" width="25.85" height="16.65" fill="#4DBBD5" />
<rect x="988.76" y="1471.38" width="51.70" height="16.65" fill="#4DBBD5" />
<rect x="1053.39" y="1471.38" width="12.93" height="16.65" fill="#4DBBD5" />
<rect x="1118.02" y="1471.38" width="12.93" height="16.65" fill="#4DBBD5" />
<rect x="1169.72" y="1471.38" width="12.93" height="16.65" fill="#4DBBD5" />
<rect x="1195.57" y="1471.38" width="116.33" height="16.65" fill="#4DBBD5" />
<rect x="1350.68" y="1471.38" width="38.78" height="16.65" fill="#4DBBD5" />
<rect x="1402.38" y="1471.38" width="12.93" height="16.65" fill="#4DBBD5" />
<rect x="1428.24" y="1471.38" width="25.85" height="16.65" fill="#4DBBD5" />
<rect x="1467.01" y="1471.38" width="77.56" height="16.65" fill="#4DBBD5" />
<rect x="1622.12" y="1471.38" width="38.78" height="16.65" fill="#4DBBD5" />
<rect x="109.80" y="1488.03" width="38.78" height="16.65" fill="#4DBBD5" />
<rect x="187.36" y="1488.03" width="12.93" height="16.65" fill="#4DBBD5" />
<rect x="251.98" y="1488.03" width="12.93" height="16.65" fill="#4DBBD5" />
<rect x="458.80" y="1488.03" width="12.93" height="16.65" fill="#4DBBD5" />
<rect x="497.58" y="1488.03" width="38.78" height="16.65" fill="#4DBBD5" />
<rect x="639.76" y="1488.03" width="12.93" height="16.65" fill="#4DBBD5" />
<rect x="730.24" y="1488.03" width="38.78" height="16.65" fill="#4DBBD5" />
<rect x="807.80" y="1488.03" width="38.78" height="16.65" fill="#4DBBD5" />
<rect x="885.35" y="1488.03" width="51.70" height="16.65" fill="#4DBBD5" />
<rect x="962.91" y="1488.03" width="12.93" height="16.65" fill="#4DBBD5" />
<rect x="988.76" y="1488.03" width="129.26" height="16.65" fill="#4DBBD5" />
<rect x="1195.57" y="1488.03" width="77.56" height="16.65" fill="#4DBBD5" />
<rect x="1286.05" y="1488.03" width="25.85" height="16.65" fill="#4DBBD5" />
<rect x="1337.75" y="1488.03" width="12.93" height="16.65" fill="#4DBBD5" />
<rect x="1376.53" y="1488.03" width="12.93" height="16.65" fill="#4DBBD5" />
<rect x="1402.38" y="1488.03" width="38.78" height="16.65" fill="#4DBBD5" />
<rect x="1467.01" y="1488.03" width="64.63" height="16.65" fill="#4DBBD5" />
<rect x="1544.57" y="1488.03" width="38.78" height="16.65" fill="#4DBBD5" />
<rect x="1622.12" y="1488.03" width="25.85" height="16.65" fill="#4DBBD5" />
<rect x="200.28" y="1504.69" width="12.93" height="16.65" fill="#E64B35" />
<rect x="381.24" y="1504.69" width="38.78" height="16.65" fill="#E64B35" />
<rect x="458.80" y="1504.69" width="116.33" height="16.65" fill="#E64B35" />
<rect x="691.46" y="1504.69" width="38.78" height="16.65" fill="#E64B35" />
<rect x="756.09" y="1504.69" width="51.70" height="16.65" fill="#E64B35" />
<rect x="846.57" y="1504.69" width="116.33" height="16.65" fill="#E64B35" />
<rect x="1001.68" y="1504.69" width="38.78" height="16.65" fill="#E64B35" />
<rect x="1079.24" y="1504.69" width="38.78" height="16.65" fill="#E64B35" />
<rect x="1156.79" y="1504.69" width="64.63" height="16.65" fill="#E64B35" />
<rect x="1234.35" y="1504.69" width="12.93" height="16.65" fill="#E64B35" />
<rect x="1286.05" y="1504.69" width="25.85" height="16.65" fill="#E64B35" />
<rect x="1402.38" y="1504.69" width="38.78" height="16.65" fill="#E64B35" />
<rect x="1583.35" y="1504.69" width="77.56" height="16.65" fill="#E64B35" />
<rect x="122.73" y="1521.34" width="25.85" height="16.65" fill="#E64B35" />
<rect x="264.91" y="1521.34" width="12.93" height="16.65" fill="#E64B35" />
<rect x="290.76" y="1521.34" width="12.93" height="16.65" fill="#E64B35" />
<rect x="497.58" y="1521.34" width="38.78" height="16.65" fill="#E64B35" />
<rect x="575.13" y="1521.34" width="38.78" height="16.65" fill="#E64B35" />
<rect x="691.46" y="1521.34" width="38.78" height="16.65" fill="#E64B35" />
<rect x="846.57" y="1521.34" width="51.70" height="16.65" fill="#E64B35" />
<rect x="911.20" y="1521.34" width="64.63" height="16.65" fill="#E64B35" />
<rect x="988.76" y="1521.34" width="25.85" height="16.65" fill="#E64B35" />
<rect x="1040.46" y="1521.34" width="206.81" height="16.65" fill="#E64B35" />
<rect x="1298.98" y="1521.34" width="12.93" height="16.65" fill="#E64B35" />
<rect x="1324.83" y="1521.34" width="12.93" height="16.65" fill="#E64B35" />
<rect x="1402.38" y="1521.34" width="25.85" height="16.65" fill="#E64B35" />
<rect x="1544.57" y="1521.34" width="38.78" height="16.65" fill="#E64B35" />
<rect x="1596.27" y="1521.34" width="51.70" height="16.65" fill="#E64B35" />
<rect x="342.47" y="1537.99" width="77.56" height="16.65" fill="#E64B35" />
<rect x="458.80" y="1537.99" width="38.78" height="16.65" fill="#E64B35" />
<rect x="536.35" y="1537.99" width="77.56" height="16.65" fill="#E64B35" />
<rect x="691.46" y="1537.99" width="90.48" height="16.65" fill="#E64B35" />
<rect x="794.87" y="1537.99" width="51.70" height="16.65" fill="#E64B35" />
<rect x="937.05" y="1537.99" width="12.93" height="16.65" fill="#E64B35" />
<rect x="962.91" y="1537.99" width="12.93" height="16.65" fill="#E64B35" />
<rect x="1014.61" y="1537.99" width="64.63" height="16.65" fill="#E64B35" />
<rect x="1118.02" y="1537.99" width="38.78" height="16.65" fill="#E64B35" />
<rect x="1286.05" y="1537.99" width="25.85" height="16.65" fill="#E64B35" />
<rect x="1402.38" y="1537.99" width="12.93" height="16.65" fill="#E64B35" />
<rect x="1467.01" y="1537.99" width="64.63" height="16.65" fill="#E64B35" />
<rect x="1583.35" y="1537.99" width="38.78" height="16.65" fill="#E64B35" />
<rect x="1635.05" y="1537.99" width="12.93" height="16.65" fill="#E64B35" />
<rect x="109.80" y="1554.64" width="38.78" height="16.65" fill="#4DBBD5" />
<rect x="226.13" y="1554.64" width="12.93" height="16.65" fill="#4DBBD5" />
<rect x="316.61" y="1554.64" width="12.93" height="16.65" fill="#4DBBD5" />
<rect x="342.47" y="1554.64" width="12.93" height="16.65" fill="#4DBBD5" />
<rect x="368.32" y="1554.64" width="12.93" height="16.65" fill="#4DBBD5" />
<rect x="613.91" y="1554.64" width="25.85" height="16.65" fill="#4DBBD5" />
<rect x="652.69" y="1554.64" width="77.56" height="16.65" fill="#4DBBD5" />
<rect x="820.72" y="1554.64" width="25.85" height="16.65" fill="#4DBBD5" />
<rect x="885.35" y="1554.64" width="38.78" height="16.65" fill="#4DBBD5" />
<rect x="1014.61" y="1554.64" width="51.70" height="16.65" fill="#4DBBD5" />
<rect x="1079.24" y="1554.64" width="129.26" height="16.65" fill="#4DBBD5" />
<rect x="1221.42" y="1554.64" width="12.93" height="16.65" fill="#4DBBD5" />
<rect x="1247.27" y="1554.64" width="12.93" height="16.65" fill="#4DBBD5" />
<rect x="1350.68" y="1554.64" width="77.56" height="16.65" fill="#4DBBD5" />
<rect x="1531.64" y="1554.64" width="12.93" height="16.65" fill="#4DBBD5" />
<rect x="1557.49" y="1554.64" width="12.93" height="16.65" fill="#4DBBD5" />
<rect x="1583.35" y="1554.64" width="38.78" height="16.65" fill="#4DBBD5" />
<rect x="342.47" y="1571.30" width="77.56" height="16.65" fill="#E64B35" />
<rect x="458.80" y="1571.30" width="38.78" height="16.65" fill="#E64B35" />
<rect x="536.35" y="1571.30" width="77.56" height="16.65" fill="#E64B35" />
<rect x="691.46" y="1571.30" width="193.89" height="16.65" fill="#E64B35" />
<rect x="937.05" y="1571.30" width="12.93" height="16.65" fill="#E64B35" />
<rect x="1040.46" y="1571.30" width="38.78" height="16.65" fill="#E64B35" />
<rect x="1195.57" y="1571.30" width="12.93" height="16.65" fill="#E64B35" />
<rect x="1221.42" y="1571.30" width="12.93" height="16.65" fill="#E64B35" />
<rect x="1376.53" y="1571.30" width="51.70" height="16.65" fill="#E64B35" />
<rect x="1467.01" y="1571.30" width="64.63" height="16.65" fill="#E64B35" />
<rect x="1635.05" y="1571.30" width="12.93" height="16.65" fill="#E64B35" />
<rect x="264.91" y="1587.95" width="38.78" height="16.65" fill="#E64B35" />
<rect x="381.24" y="1587.95" width="38.78" height="16.65" fill="#E64B35" />
<rect x="458.80" y="1587.95" width="38.78" height="16.65" fill="#E64B35" />
<rect x="523.43" y="1587.95" width="51.70" height="16.65" fill="#E64B35" />
<rect x="691.46" y="1587.95" width="38.78" height="16.65" fill="#E64B35" />
<rect x="781.94" y="1587.95" width="25.85" height="16.65" fill="#E64B35" />
<rect x="846.57" y="1587.95" width="90.48" height="16.65" fill="#E64B35" />
<rect x="962.91" y="1587.95" width="12.93" height="16.65" fill="#E64B35" />
<rect x="988.76" y="1587.95" width="51.70" height="16.65" fill="#E64B35" />
<rect x="1092.16" y="1587.95" width="25.85" height="16.65" fill="#E64B35" />
<rect x="1156.79" y="1587.95" width="38.78" height="16.65" fill="#E64B35" />
<rect x="1247.27" y="1587.95" width="12.93" height="16.65" fill="#E64B35" />
<rect x="1273.12" y="1587.95" width="12.93" height="16.65" fill="#E64B35" />
<rect x="1298.98" y="1587.95" width="12.93" height="16.65" fill="#E64B35" />
<rect x="1324.83" y="1587.95" width="12.93" height="16.65" fill="#E64B35" />
<rect x="1428.24" y="1587.95" width="12.93" height="16.65" fill="#E64B35" />
<rect x="1505.79" y="1587.95" width="25.85" height="16.65" fill="#E64B35" />
<rect x="1583.35" y="1587.95" width="25.85" height="16.65" fill="#E64B35" />
<path d="M122.73,911.7V1599.6M135.65,911.7V1599.6M148.58,911.7V1599.6M161.50,911.7V1599.6M174.43,911.7V1599.6M187.36,911.7V1599.6M200.28,911.7V1599.6M213.21,911.7V1599.6M226.13,911.7V1599.6M239.06,911.7V1599.6M251.98,911.7V1599.6M264.91,911.7V1599.6M277.84,911.7V1599.6M290.76,911.7V1599.6M303.69,911.7V1599.6M316.61,911.7V1599.6M329.54,911.7V1599.6M342.47,911.7V1599.6M355.39,911.7V1599.6M368.32,911.7V1599.6M381.24,911.7V1599.6M394.17,911.7V1599.6M407.09,911.7V1599.6M420.02,911.7V1599.6M432.95,911.7V1599.6M445.87,911.7V1599.6M458.80,911.7V1599.6M471.72,911.7V1599.6M484.65,911.7V1599.6M497.58,911.7V1599.6M510.50,911.7V1599.6M523.43,911.7V1599.6M536.35,911.7V1599.6M549.28,911.7V1599.6M562.20,911.7V1599.6M575.13,911.7V1599.6M588.06,911.7V1599.6M600.98,911.7V1599.6M613.91,911.7V1599.6M626.83,911.7V1599.6M639.76,911.7V1599.6M652.69,911.7V1599.6M665.61,911.7V1599.6M678.54,911.7V1599.6M691.46,911.7V1599.6M704.39,911.7V1599.6M717.31,911.7V1599.6M730.24,911.7V1599.6M743.17,911.7V1599.6M756.09,911.7V1599.6M769.02,911.7V1599.6M781.94,911.7V1599.6M794.87,911.7V1599.6M807.80,911.7V1599.6M820.72,911.7V1599.6M833.65,911.7V1599.6M846.57,911.7V1599.6M859.50,911.7V1599.6M872.42,911.7V1599.6M885.35,911.7V1599.6M898.28,911.7V1599.6M911.20,911.7V1599.6M924.13,911.7V1599.6M937.05,911.7V1599.6M949.98,911.7V1599.6M962.91,911.7V1599.6M975.83,911.7V1599.6M988.76,911.7V1599.6M1001.68,911.7V1599.6M1014.61,911.7V1599.6M1027.53,911.7V1599.6M1040.46,911.7V1599.6M1053.39,911.7V1599.6M1066.31,911.7V1599.6M1079.24,911.7V1599.6M1092.16,911.7V1599.6M1105.09,911.7V1599.6M1118.02,911.7V1599.6M1130.94,911.7V1599.6M1143.87,911.7V1599.6M1156.79,911.7V1599.6M1169.72,911.7V1599.6M1182.64,911.7V1599.6M1195.57,911.7V1599.6M1208.50,911.7V1599.6M1221.42,911.7V1599.6M1234.35,911.7V1599.6M1247.27,911.7V1599.6M1260.20,911.7V1599.6M1273.12,911.7V1599.6M1286.05,911.7V1599.6M1298.98,911.7V1599.6M1311.90,911.7V1599.6M1324.83,911.7V1599.6M1337.75,911.7V1599.6M1350.68,911.7V1599.6M1363.61,911.7V1599.6M1376.53,911.7V1599.6M1389.46,911.7V1599.6M1402.38,911.7V1599.6M1415.31,911.7V1599.6M1428.24,911.7V1599.6M1441.16,911.7V1599.6M1454.09,911.7V1599.6M1467.01,911.7V1599.6M1479.94,911.7V1599.6M1492.86,911.7V1599.6M1505.79,911.7V1599.6M1518.72,911.7V1599.6M1531.64,911.7V1599.6M1544.57,911.7V1599.6M1557.49,911.7V1599.6M1570.42,911.7V1599.6M1583.35,911.7V1599.6M1596.27,911.7V1599.6M1609.20,911.7V1599.6M1622.12,911.7V1599.6M1635.05,911.7V1599.6M1647.97,911.7V1599.6" stroke="#fff" stroke-width="1.0" fill="none" stroke-opacity="0.7"/>
<path d="M109.8,921.85H1660.9M109.8,938.50H1660.9M109.8,955.16H1660.9M109.8,971.81H1660.9M109.8,988.46H1660.9M109.8,1005.11H1660.9M109.8,1021.77H1660.9M109.8,1038.42H1660.9M109.8,1055.07H1660.9M109.8,1071.72H1660.9M109.8,1088.38H1660.9M109.8,1105.03H1660.9M109.8,1121.68H1660.9M109.8,1138.33H1660.9M109.8,1154.99H1660.9M109.8,1171.64H1660.9M109.8,1188.29H1660.9M109.8,1204.94H1660.9M109.8,1221.60H1660.9M109.8,1238.25H1660.9M109.8,1254.90H1660.9M109.8,1271.55H1660.9M109.8,1288.20H1660.9M109.8,1304.86H1660.9M109.8,1321.51H1660.9M109.8,1338.16H1660.9M109.8,1354.81H1660.9M109.8,1371.47H1660.9M109.8,1388.12H1660.9M109.8,1404.77H1660.9M109.8,1421.42H1660.9M109.8,1438.08H1660.9M109.8,1454.73H1660.9M109.8,1471.38H1660.9M109.8,1488.03H1660.9M109.8,1504.69H1660.9M109.8,1521.34H1660.9M109.8,1537.99H1660.9M109.8,1554.64H1660.9M109.8,1571.30H1660.9M109.8,1587.95H1660.9" stroke="#fff" stroke-width="1.25" fill="none" stroke-opacity="0.85"/>
<text x="104.6" y="919.0" font-size="17.5" text-anchor="end" font-style="italic" letter-spacing="0.55">9q21.11</text>
<text x="104.6" y="935.7" font-size="17.5" text-anchor="end" font-style="italic" letter-spacing="0.55">10q11.21</text>
<text x="104.6" y="952.3" font-size="17.5" text-anchor="end" font-style="italic" letter-spacing="0.55">17p12</text>
<text x="104.6" y="969.0" font-size="17.5" text-anchor="end" font-style="italic" letter-spacing="0.55">10q11.21</text>
<text x="104.6" y="985.6" font-size="17.5" text-anchor="end" font-style="italic" letter-spacing="0.55">2p11.1</text>
<text x="104.6" y="1002.3" font-size="17.5" text-anchor="end" font-style="italic" letter-spacing="0.55">15q13.1</text>
<text x="104.6" y="1018.9" font-size="17.5" text-anchor="end" font-style="italic" letter-spacing="0.55">19p12</text>
<text x="104.6" y="1035.6" font-size="17.5" text-anchor="end" font-style="italic" letter-spacing="0.55">13q14.2</text>
<text x="104.6" y="1052.2" font-size="17.5" text-anchor="end" font-style="italic" letter-spacing="0.55">5q31.3</text>
<text x="104.6" y="1068.9" font-size="17.5" text-anchor="end" font-style="italic" letter-spacing="0.55">1p36.21</text>
<text x="104.6" y="1085.5" font-size="17.5" text-anchor="end" font-style="italic" letter-spacing="0.55">3q25.1</text>
<text x="104.6" y="1102.2" font-size="17.5" text-anchor="end" font-style="italic" letter-spacing="0.55">10q23.31</text>
<text x="104.6" y="1118.9" font-size="17.5" text-anchor="end" font-style="italic" letter-spacing="0.55">10q26.3</text>
<text x="104.6" y="1135.5" font-size="17.5" text-anchor="end" font-style="italic" letter-spacing="0.55">13q12.11</text>
<text x="104.6" y="1152.2" font-size="17.5" text-anchor="end" font-style="italic" letter-spacing="0.55">5p13.2</text>
<text x="104.6" y="1168.8" font-size="17.5" text-anchor="end" font-style="italic" letter-spacing="0.55">3q29</text>
<text x="104.6" y="1185.5" font-size="17.5" text-anchor="end" font-style="italic" letter-spacing="0.55">1q21.3</text>
<text x="104.6" y="1202.1" font-size="17.5" text-anchor="end" font-style="italic" letter-spacing="0.55">14q11.2</text>
<text x="104.6" y="1218.8" font-size="17.5" text-anchor="end" font-style="italic" letter-spacing="0.55">16q11.2</text>
<text x="104.6" y="1235.4" font-size="17.5" text-anchor="end" font-style="italic" letter-spacing="0.55">5p15.33</text>
<text x="104.6" y="1252.1" font-size="17.5" text-anchor="end" font-style="italic" letter-spacing="0.55">17q25.3</text>
<text x="104.6" y="1268.7" font-size="17.5" text-anchor="end" font-style="italic" letter-spacing="0.55">8q24.21</text>
<text x="104.6" y="1285.4" font-size="17.5" text-anchor="end" font-style="italic" letter-spacing="0.55">17q22</text>
<text x="104.6" y="1302.0" font-size="17.5" text-anchor="end" font-style="italic" letter-spacing="0.55">13q21.2</text>
<text x="104.6" y="1318.7" font-size="17.5" text-anchor="end" font-style="italic" letter-spacing="0.55">1q21.1</text>
<text x="104.6" y="1335.3" font-size="17.5" text-anchor="end" font-style="italic" letter-spacing="0.55">4q13.2</text>
<text x="104.6" y="1352.0" font-size="17.5" text-anchor="end" font-style="italic" letter-spacing="0.55">22q11.1</text>
<text x="104.6" y="1368.6" font-size="17.5" text-anchor="end" font-style="italic" letter-spacing="0.55">22q13.33</text>
<text x="104.6" y="1385.3" font-size="17.5" text-anchor="end" font-style="italic" letter-spacing="0.55">4q25</text>
<text x="104.6" y="1401.9" font-size="17.5" text-anchor="end" font-style="italic" letter-spacing="0.55">4q35.2</text>
<text x="104.6" y="1418.6" font-size="17.5" text-anchor="end" font-style="italic" letter-spacing="0.55">8p23.1</text>
<text x="104.6" y="1435.2" font-size="17.5" text-anchor="end" font-style="italic" letter-spacing="0.55">18p11.32</text>
<text x="104.6" y="1451.9" font-size="17.5" text-anchor="end" font-style="italic" letter-spacing="0.55">1q21.2</text>
<text x="104.6" y="1468.6" font-size="17.5" text-anchor="end" font-style="italic" letter-spacing="0.55">15q25.3</text>
<text x="104.6" y="1485.2" font-size="17.5" text-anchor="end" font-style="italic" letter-spacing="0.55">4p16.1</text>
<text x="104.6" y="1501.9" font-size="17.5" text-anchor="end" font-style="italic" letter-spacing="0.55">15q25.2</text>
<text x="104.6" y="1518.5" font-size="17.5" text-anchor="end" font-style="italic" letter-spacing="0.55">6p22.3</text>
<text x="104.6" y="1535.2" font-size="17.5" text-anchor="end" font-style="italic" letter-spacing="0.55">1q21.1</text>
<text x="104.6" y="1551.8" font-size="17.5" text-anchor="end" font-style="italic" letter-spacing="0.55">19p13.11</text>
<text x="104.6" y="1568.5" font-size="17.5" text-anchor="end" font-style="italic" letter-spacing="0.55">14q32.33</text>
<text x="104.6" y="1585.1" font-size="17.5" text-anchor="end" font-style="italic" letter-spacing="0.55">19q13.2</text>
<text x="104.6" y="1601.8" font-size="17.5" text-anchor="end" font-style="italic" letter-spacing="0.55">9p24.1</text>
<text x="1669.3" y="918.9" font-size="16.6" text-anchor="start" font-style="italic" >CBWD3</text>
<text x="1669.3" y="1018.8" font-size="16.6" text-anchor="start" font-style="italic" >ZNF429</text>
<text x="1669.3" y="1035.5" font-size="16.6" text-anchor="start" font-style="italic" >RB1</text>
<text x="1669.3" y="1085.5" font-size="16.6" text-anchor="start" font-style="italic" >WWTR1</text>
<text x="1669.3" y="1102.1" font-size="16.6" text-anchor="start" font-style="italic" >PTEN</text>
<text x="1669.3" y="1152.1" font-size="16.6" text-anchor="start" font-style="italic" >IL7R</text>
<text x="1669.3" y="1168.7" font-size="16.6" text-anchor="start" font-style="italic" >PIK3CA</text>
<text x="1669.3" y="1185.4" font-size="16.6" text-anchor="start" font-style="italic" >SETDB1</text>
<text x="1669.3" y="1235.3" font-size="16.6" text-anchor="start" font-style="italic" >TERT</text>
<text x="1669.3" y="1252.0" font-size="16.6" text-anchor="start" font-style="italic" >SEPT9</text>
<text x="1669.3" y="1268.6" font-size="16.6" text-anchor="start" font-style="italic" >MYC</text>
<text x="1669.3" y="1285.3" font-size="16.6" text-anchor="start" font-style="italic" >AXIN2</text>
<text x="1669.3" y="1468.5" font-size="16.6" text-anchor="start" font-style="italic" >NTRK3</text>
<text x="1669.3" y="1585.0" font-size="16.6" text-anchor="start" font-style="italic" >CEBPA</text>
<text x="1669.3" y="1601.7" font-size="16.6" text-anchor="start" font-style="italic" >CD274</text>
<text x="106.8 106.8 106.8 99.8 106.8" y="1689.1 1673.3 1659.5 1643.2 1631.4" rotate="-72" font-size="16.7">P11_1</text>
<text x="119.9 119.9 119.9 112.9 119.9" y="1689.1 1673.3 1659.5 1643.2 1631.4" rotate="-72" font-size="16.7">P11_2</text>
<text x="133.0 133.0 133.0 126.0 133.0" y="1689.1 1673.3 1659.5 1643.2 1631.4" rotate="-72" font-size="16.7">P11_3</text>
<text x="146.1 146.1 146.1 139.1 146.1" y="1689.1 1673.3 1659.5 1643.2 1631.4" rotate="-72" font-size="16.7">P21_1</text>
<text x="159.2 159.2 159.2 152.2 159.2" y="1689.1 1673.3 1659.5 1643.2 1631.4" rotate="-72" font-size="16.7">P21_2</text>
<text x="172.3 172.3 172.3 165.3 172.3" y="1689.1 1673.3 1659.5 1643.2 1631.4" rotate="-72" font-size="16.7">P21_3</text>
<text x="185.4 185.4 185.4 178.4 185.4" y="1689.1 1673.3 1659.5 1643.2 1631.4" rotate="-72" font-size="16.7">P38_1</text>
<text x="198.5 198.5 198.5 191.5 198.5" y="1689.1 1673.3 1659.5 1643.2 1631.4" rotate="-72" font-size="16.7">P38_2</text>
<text x="211.6 211.6 211.6 204.6 211.6" y="1689.1 1673.3 1659.5 1643.2 1631.4" rotate="-72" font-size="16.7">P38_3</text>
<text x="224.7 224.7 224.7 217.7 224.7" y="1689.1 1673.3 1659.5 1643.2 1631.4" rotate="-72" font-size="16.7">P35_1</text>
<text x="237.8 237.8 237.8 230.8 237.8" y="1689.1 1673.3 1659.5 1643.2 1631.4" rotate="-72" font-size="16.7">P35_2</text>
<text x="250.8 250.8 250.8 243.9 250.8" y="1689.1 1673.3 1659.5 1643.2 1631.4" rotate="-72" font-size="16.7">P35_3</text>
<text x="263.9 263.9 263.9 257.0 263.9" y="1689.1 1673.3 1659.5 1643.2 1631.4" rotate="-72" font-size="16.7">P18_1</text>
<text x="277.0 277.0 277.0 270.1 277.0" y="1689.1 1673.3 1659.5 1643.2 1631.4" rotate="-72" font-size="16.7">P18_2</text>
<text x="290.1 290.1 290.1 283.2 290.1" y="1689.1 1673.3 1659.5 1643.2 1631.4" rotate="-72" font-size="16.7">P18_3</text>
<text x="303.2 303.2 303.2 296.3 303.2" y="1689.1 1673.3 1659.5 1643.2 1631.4" rotate="-72" font-size="16.7">P03_1</text>
<text x="316.3 316.3 316.3 309.4 316.3" y="1689.1 1673.3 1659.5 1643.2 1631.4" rotate="-72" font-size="16.7">P03_2</text>
<text x="329.4 329.4 329.4 322.5 329.4" y="1689.1 1673.3 1659.5 1643.2 1631.4" rotate="-72" font-size="16.7">P03_3</text>
<text x="342.5 342.5 342.5 335.6 342.5" y="1689.1 1673.3 1659.5 1643.2 1631.4" rotate="-72" font-size="16.7">P06_1</text>
<text x="355.6 355.6 355.6 348.7 355.6" y="1689.1 1673.3 1659.5 1643.2 1631.4" rotate="-72" font-size="16.7">P06_2</text>
<text x="368.7 368.7 368.7 361.8 368.7" y="1689.1 1673.3 1659.5 1643.2 1631.4" rotate="-72" font-size="16.7">P06_3</text>
<text x="381.8 381.8 381.8 374.8 381.8" y="1689.1 1673.3 1659.5 1643.2 1631.4" rotate="-72" font-size="16.7">P01_1</text>
<text x="394.9 394.9 394.9 387.9 394.9" y="1689.1 1673.3 1659.5 1643.2 1631.4" rotate="-72" font-size="16.7">P01_2</text>
<text x="408.0 408.0 408.0 401.0 408.0" y="1689.1 1673.3 1659.5 1643.2 1631.4" rotate="-72" font-size="16.7">P01_3</text>
<text x="421.1 421.1 421.1 414.1 421.1" y="1689.1 1673.3 1659.5 1643.2 1631.4" rotate="-72" font-size="16.7">P39_1</text>
<text x="434.2 434.2 434.2 427.2 434.2" y="1689.1 1673.3 1659.5 1643.2 1631.4" rotate="-72" font-size="16.7">P39_2</text>
<text x="447.3 447.3 447.3 440.3 447.3" y="1689.1 1673.3 1659.5 1643.2 1631.4" rotate="-72" font-size="16.7">P39_3</text>
<text x="460.4 460.4 460.4 453.4 460.4" y="1689.1 1673.3 1659.5 1643.2 1631.4" rotate="-72" font-size="16.7">P09_1</text>
<text x="473.5 473.5 473.5 466.5 473.5" y="1689.1 1673.3 1659.5 1643.2 1631.4" rotate="-72" font-size="16.7">P09_2</text>
<text x="486.6 486.6 486.6 479.6 486.6" y="1689.1 1673.3 1659.5 1643.2 1631.4" rotate="-72" font-size="16.7">P09_3</text>
<text x="499.7 499.7 499.7 492.7 499.7" y="1689.1 1673.3 1659.5 1643.2 1631.4" rotate="-72" font-size="16.7">P27_1</text>
<text x="512.7 512.7 512.7 505.8 512.7" y="1689.1 1673.3 1659.5 1643.2 1631.4" rotate="-72" font-size="16.7">P27_2</text>
<text x="525.8 525.8 525.8 518.9 525.8" y="1689.1 1673.3 1659.5 1643.2 1631.4" rotate="-72" font-size="16.7">P27_3</text>
<text x="538.9 538.9 538.9 532.0 538.9" y="1689.1 1673.3 1659.5 1643.2 1631.4" rotate="-72" font-size="16.7">P12_1</text>
<text x="552.0 552.0 552.0 545.1 552.0" y="1689.1 1673.3 1659.5 1643.2 1631.4" rotate="-72" font-size="16.7">P12_2</text>
<text x="565.1 565.1 565.1 558.2 565.1" y="1689.1 1673.3 1659.5 1643.2 1631.4" rotate="-72" font-size="16.7">P12_3</text>
<text x="578.2 578.2 578.2 571.3 578.2" y="1689.1 1673.3 1659.5 1643.2 1631.4" rotate="-72" font-size="16.7">P37_1</text>
<text x="591.3 591.3 591.3 584.4 591.3" y="1689.1 1673.3 1659.5 1643.2 1631.4" rotate="-72" font-size="16.7">P37_2</text>
<text x="604.4 604.4 604.4 597.5 604.4" y="1689.1 1673.3 1659.5 1643.2 1631.4" rotate="-72" font-size="16.7">P37_3</text>
<text x="617.5 617.5 617.5 610.6 617.5" y="1689.1 1673.3 1659.5 1643.2 1631.4" rotate="-72" font-size="16.7">P23_1</text>
<text x="630.6 630.6 630.6 623.6 630.6" y="1689.1 1673.3 1659.5 1643.2 1631.4" rotate="-72" font-size="16.7">P23_2</text>
<text x="643.7 643.7 643.7 636.7 643.7" y="1689.1 1673.3 1659.5 1643.2 1631.4" rotate="-72" font-size="16.7">P23_3</text>
<text x="656.8 656.8 656.8 649.8 656.8" y="1689.1 1673.3 1659.5 1643.2 1631.4" rotate="-72" font-size="16.7">P33_1</text>
<text x="669.9 669.9 669.9 662.9 669.9" y="1689.1 1673.3 1659.5 1643.2 1631.4" rotate="-72" font-size="16.7">P33_2</text>
<text x="683.0 683.0 683.0 676.0 683.0" y="1689.1 1673.3 1659.5 1643.2 1631.4" rotate="-72" font-size="16.7">P33_3</text>
<text x="696.1 696.1 696.1 689.1 696.1" y="1689.1 1673.3 1659.5 1643.2 1631.4" rotate="-72" font-size="16.7">P04_1</text>
<text x="709.2 709.2 709.2 702.2 709.2" y="1689.1 1673.3 1659.5 1643.2 1631.4" rotate="-72" font-size="16.7">P04_2</text>
<text x="722.3 722.3 722.3 715.3 722.3" y="1689.1 1673.3 1659.5 1643.2 1631.4" rotate="-72" font-size="16.7">P04_3</text>
<text x="735.4 735.4 735.4 728.4 735.4" y="1689.1 1673.3 1659.5 1643.2 1631.4" rotate="-72" font-size="16.7">P10_1</text>
<text x="748.5 748.5 748.5 741.5 748.5" y="1689.1 1673.3 1659.5 1643.2 1631.4" rotate="-72" font-size="16.7">P10_2</text>
<text x="761.5 761.5 761.5 754.6 761.5" y="1689.1 1673.3 1659.5 1643.2 1631.4" rotate="-72" font-size="16.7">P10_3</text>
<text x="774.6 774.6 774.6 767.7 774.6" y="1689.1 1673.3 1659.5 1643.2 1631.4" rotate="-72" font-size="16.7">P14_1</text>
<text x="787.7 787.7 787.7 780.8 787.7" y="1689.1 1673.3 1659.5 1643.2 1631.4" rotate="-72" font-size="16.7">P14_2</text>
<text x="800.8 800.8 800.8 793.9 800.8" y="1689.1 1673.3 1659.5 1643.2 1631.4" rotate="-72" font-size="16.7">P14_3</text>
<text x="813.9 813.9 813.9 807.0 813.9" y="1689.1 1673.3 1659.5 1643.2 1631.4" rotate="-72" font-size="16.7">P28_1</text>
<text x="827.0 827.0 827.0 820.1 827.0" y="1689.1 1673.3 1659.5 1643.2 1631.4" rotate="-72" font-size="16.7">P28_2</text>
<text x="840.1 840.1 840.1 833.2 840.1" y="1689.1 1673.3 1659.5 1643.2 1631.4" rotate="-72" font-size="16.7">P28_3</text>
<text x="853.2 853.2 853.2 846.3 853.2" y="1689.1 1673.3 1659.5 1643.2 1631.4" rotate="-72" font-size="16.7">P22_1</text>
<text x="866.3 866.3 866.3 859.4 866.3" y="1689.1 1673.3 1659.5 1643.2 1631.4" rotate="-72" font-size="16.7">P22_2</text>
<text x="879.4 879.4 879.4 872.5 879.4" y="1689.1 1673.3 1659.5 1643.2 1631.4" rotate="-72" font-size="16.7">P22_3</text>
<text x="892.5 892.5 892.5 885.5 892.5" y="1689.1 1673.3 1659.5 1643.2 1631.4" rotate="-72" font-size="16.7">P36_1</text>
<text x="905.6 905.6 905.6 898.6 905.6" y="1689.1 1673.3 1659.5 1643.2 1631.4" rotate="-72" font-size="16.7">P36_2</text>
<text x="918.7 918.7 918.7 911.7 918.7" y="1689.1 1673.3 1659.5 1643.2 1631.4" rotate="-72" font-size="16.7">P36_3</text>
<text x="931.8 931.8 931.8 924.8 931.8" y="1689.1 1673.3 1659.5 1643.2 1631.4" rotate="-72" font-size="16.7">P08_1</text>
<text x="944.9 944.9 944.9 937.9 944.9" y="1689.1 1673.3 1659.5 1643.2 1631.4" rotate="-72" font-size="16.7">P08_2</text>
<text x="958.0 958.0 958.0 951.0 958.0" y="1689.1 1673.3 1659.5 1643.2 1631.4" rotate="-72" font-size="16.7">P08_3</text>
<text x="971.1 971.1 971.1 964.1 971.1" y="1689.1 1673.3 1659.5 1643.2 1631.4" rotate="-72" font-size="16.7">P02_1</text>
<text x="984.2 984.2 984.2 977.2 984.2" y="1689.1 1673.3 1659.5 1643.2 1631.4" rotate="-72" font-size="16.7">P02_2</text>
<text x="997.3 997.3 997.3 990.3 997.3" y="1689.1 1673.3 1659.5 1643.2 1631.4" rotate="-72" font-size="16.7">P02_3</text>
<text x="1010.4 1010.4 1010.4 1003.4 1010.4" y="1689.1 1673.3 1659.5 1643.2 1631.4" rotate="-72" font-size="16.7">P30_1</text>
<text x="1023.5 1023.5 1023.5 1016.5 1023.5" y="1689.1 1673.3 1659.5 1643.2 1631.4" rotate="-72" font-size="16.7">P30_2</text>
<text x="1036.5 1036.5 1036.5 1029.6 1036.5" y="1689.1 1673.3 1659.5 1643.2 1631.4" rotate="-72" font-size="16.7">P30_3</text>
<text x="1049.6 1049.6 1049.6 1042.7 1049.6" y="1689.1 1673.3 1659.5 1643.2 1631.4" rotate="-72" font-size="16.7">P07_1</text>
<text x="1062.7 1062.7 1062.7 1055.8 1062.7" y="1689.1 1673.3 1659.5 1643.2 1631.4" rotate="-72" font-size="16.7">P07_2</text>
<text x="1075.8 1075.8 1075.8 1068.9 1075.8" y="1689.1 1673.3 1659.5 1643.2 1631.4" rotate="-72" font-size="16.7">P07_3</text>
<text x="1088.9 1088.9 1088.9 1082.0 1088.9" y="1689.1 1673.3 1659.5 1643.2 1631.4" rotate="-72" font-size="16.7">P40_1</text>
<text x="1102.0 1102.0 1102.0 1095.1 1102.0" y="1689.1 1673.3 1659.5 1643.2 1631.4" rotate="-72" font-size="16.7">P40_2</text>
<text x="1115.1 1115.1 1115.1 1108.2 1115.1" y="1689.1 1673.3 1659.5 1643.2 1631.4" rotate="-72" font-size="16.7">P40_3</text>
<text x="1128.2 1128.2 1128.2 1121.3 1128.2" y="1689.1 1673.3 1659.5 1643.2 1631.4" rotate="-72" font-size="16.7">P34_1</text>
<text x="1141.3 1141.3 1141.3 1134.4 1141.3" y="1689.1 1673.3 1659.5 1643.2 1631.4" rotate="-72" font-size="16.7">P34_2</text>
<text x="1154.4 1154.4 1154.4 1147.5 1154.4" y="1689.1 1673.3 1659.5 1643.2 1631.4" rotate="-72" font-size="16.7">P34_3</text>
<text x="1167.5 1167.5 1167.5 1160.5 1167.5" y="1689.1 1673.3 1659.5 1643.2 1631.4" rotate="-72" font-size="16.7">P32_1</text>
<text x="1180.6 1180.6 1180.6 1173.6 1180.6" y="1689.1 1673.3 1659.5 1643.2 1631.4" rotate="-72" font-size="16.7">P32_2</text>
<text x="1193.7 1193.7 1193.7 1186.7 1193.7" y="1689.1 1673.3 1659.5 1643.2 1631.4" rotate="-72" font-size="16.7">P32_3</text>
<text x="1206.8 1206.8 1206.8 1199.8 1206.8" y="1689.1 1673.3 1659.5 1643.2 1631.4" rotate="-72" font-size="16.7">P29_1</text>
<text x="1219.9 1219.9 1219.9 1212.9 1219.9" y="1689.1 1673.3 1659.5 1643.2 1631.4" rotate="-72" font-size="16.7">P29_2</text>
<text x="1233.0 1233.0 1233.0 1226.0 1233.0" y="1689.1 1673.3 1659.5 1643.2 1631.4" rotate="-72" font-size="16.7">P29_3</text>
<text x="1246.1 1246.1 1246.1 1239.1 1246.1" y="1689.1 1673.3 1659.5 1643.2 1631.4" rotate="-72" font-size="16.7">P31_1</text>
<text x="1259.2 1259.2 1259.2 1252.2 1259.2" y="1689.1 1673.3 1659.5 1643.2 1631.4" rotate="-72" font-size="16.7">P31_2</text>
<text x="1272.3 1272.3 1272.3 1265.3 1272.3" y="1689.1 1673.3 1659.5 1643.2 1631.4" rotate="-72" font-size="16.7">P31_3</text>
<text x="1285.3 1285.3 1285.3 1278.4 1285.3" y="1689.1 1673.3 1659.5 1643.2 1631.4" rotate="-72" font-size="16.7">P15_1</text>
<text x="1298.4 1298.4 1298.4 1291.5 1298.4" y="1689.1 1673.3 1659.5 1643.2 1631.4" rotate="-72" font-size="16.7">P15_2</text>
<text x="1311.5 1311.5 1311.5 1304.6 1311.5" y="1689.1 1673.3 1659.5 1643.2 1631.4" rotate="-72" font-size="16.7">P15_3</text>
<text x="1324.6 1324.6 1324.6 1317.7 1324.6" y="1689.1 1673.3 1659.5 1643.2 1631.4" rotate="-72" font-size="16.7">P05_1</text>
<text x="1337.7 1337.7 1337.7 1330.8 1337.7" y="1689.1 1673.3 1659.5 1643.2 1631.4" rotate="-72" font-size="16.7">P05_2</text>
<text x="1350.8 1350.8 1350.8 1343.9 1350.8" y="1689.1 1673.3 1659.5 1643.2 1631.4" rotate="-72" font-size="16.7">P05_3</text>
<text x="1363.9 1363.9 1363.9 1357.0 1363.9" y="1689.1 1673.3 1659.5 1643.2 1631.4" rotate="-72" font-size="16.7">P19_1</text>
<text x="1377.0 1377.0 1377.0 1370.1 1377.0" y="1689.1 1673.3 1659.5 1643.2 1631.4" rotate="-72" font-size="16.7">P19_2</text>
<text x="1390.1 1390.1 1390.1 1383.2 1390.1" y="1689.1 1673.3 1659.5 1643.2 1631.4" rotate="-72" font-size="16.7">P19_3</text>
<text x="1403.2 1403.2 1403.2 1396.3 1403.2" y="1689.1 1673.3 1659.5 1643.2 1631.4" rotate="-72" font-size="16.7">P17_1</text>
<text x="1416.3 1416.3 1416.3 1409.3 1416.3" y="1689.1 1673.3 1659.5 1643.2 1631.4" rotate="-72" font-size="16.7">P17_2</text>
<text x="1429.4 1429.4 1429.4 1422.4 1429.4" y="1689.1 1673.3 1659.5 1643.2 1631.4" rotate="-72" font-size="16.7">P17_3</text>
<text x="1442.5 1442.5 1442.5 1435.5 1442.5" y="1689.1 1673.3 1659.5 1643.2 1631.4" rotate="-72" font-size="16.7">P20_1</text>
<text x="1455.6 1455.6 1455.6 1448.6 1455.6" y="1689.1 1673.3 1659.5 1643.2 1631.4" rotate="-72" font-size="16.7">P20_2</text>
<text x="1468.7 1468.7 1468.7 1461.7 1468.7" y="1689.1 1673.3 1659.5 1643.2 1631.4" rotate="-72" font-size="16.7">P20_3</text>
<text x="1481.8 1481.8 1481.8 1474.8 1481.8" y="1689.1 1673.3 1659.5 1643.2 1631.4" rotate="-72" font-size="16.7">P13_1</text>
<text x="1494.9 1494.9 1494.9 1487.9 1494.9" y="1689.1 1673.3 1659.5 1643.2 1631.4" rotate="-72" font-size="16.7">P13_2</text>
<text x="1508.0 1508.0 1508.0 1501.0 1508.0" y="1689.1 1673.3 1659.5 1643.2 1631.4" rotate="-72" font-size="16.7">P13_3</text>
<text x="1521.1 1521.1 1521.1 1514.1 1521.1" y="1689.1 1673.3 1659.5 1643.2 1631.4" rotate="-72" font-size="16.7">P26_1</text>
<text x="1534.2 1534.2 1534.2 1527.2 1534.2" y="1689.1 1673.3 1659.5 1643.2 1631.4" rotate="-72" font-size="16.7">P26_2</text>
<text x="1547.2 1547.2 1547.2 1540.3 1547.2" y="1689.1 1673.3 1659.5 1643.2 1631.4" rotate="-72" font-size="16.7">P26_3</text>
<text x="1560.3 1560.3 1560.3 1553.4 1560.3" y="1689.1 1673.3 1659.5 1643.2 1631.4" rotate="-72" font-size="16.7">P25_1</text>
<text x="1573.4 1573.4 1573.4 1566.5 1573.4" y="1689.1 1673.3 1659.5 1643.2 1631.4" rotate="-72" font-size="16.7">P25_2</text>
<text x="1586.5 1586.5 1586.5 1579.6 1586.5" y="1689.1 1673.3 1659.5 1643.2 1631.4" rotate="-72" font-size="16.7">P25_3</text>
<text x="1599.6 1599.6 1599.6 1592.7 1599.6" y="1689.1 1673.3 1659.5 1643.2 1631.4" rotate="-72" font-size="16.7">P24_1</text>
<text x="1612.7 1612.7 1612.7 1605.8 1612.7" y="1689.1 1673.3 1659.5 1643.2 1631.4" rotate="-72" font-size="16.7">P24_2</text>
<text x="1625.8 1625.8 1625.8 1618.9 1625.8" y="1689.1 1673.3 1659.5 1643.2 1631.4" rotate="-72" font-size="16.7">P24_3</text>
<text x="1638.9 1638.9 1638.9 1632.0 1638.9" y="1689.1 1673.3 1659.5 1643.2 1631.4" rotate="-72" font-size="16.7">P16_1</text>
<text x="1652.0 1652.0 1652.0 1645.1 1652.0" y="1689.1 1673.3 1659.5 1643.2 1631.4" rotate="-72" font-size="16.7">P16_2</text>
<text x="1665.1 1665.1 1665.1 1658.2 1665.1" y="1689.1 1673.3 1659.5 1643.2 1631.4" rotate="-72" font-size="16.7">P16_3</text>
<rect x="28.10" y="1634.40" width="9.00" height="9.00" fill="#E64B35" />
<rect x="28.10" y="1658.00" width="9.00" height="9.00" fill="#4DBBD5" />
<text x="50.3" y="1649.0" font-size="16.7" text-anchor="start"  >Amp</text>
<text x="50.3" y="1672.6" font-size="16.7" text-anchor="start"  >Del</text>
</g>
<g id="panelD">
<rect x="107.50" y="2076.89" width="35.30" height="0.52" fill="#E64B35" />
<rect x="107.50" y="2077.41" width="35.30" height="22.29" fill="#4DBBD5" />
<line x1="125.2" y1="2115.7" x2="125.2" y2="2121.3" stroke="#333" stroke-width="3.6" />
<rect x="146.55" y="2017.08" width="35.30" height="2.80" fill="#E64B35" />
<rect x="146.55" y="2019.87" width="35.30" height="79.83" fill="#4DBBD5" />
<line x1="164.2" y1="2115.7" x2="164.2" y2="2121.3" stroke="#333" stroke-width="3.6" />
<rect x="185.59" y="1969.08" width="35.30" height="5.39" fill="#E64B35" />
<rect x="185.59" y="1974.47" width="35.30" height="125.23" fill="#4DBBD5" />
<line x1="203.2" y1="2115.7" x2="203.2" y2="2121.3" stroke="#333" stroke-width="3.6" />
<rect x="224.64" y="1964.72" width="35.30" height="9.74" fill="#E64B35" />
<rect x="224.64" y="1974.47" width="35.30" height="125.23" fill="#4DBBD5" />
<line x1="242.3" y1="2115.7" x2="242.3" y2="2121.3" stroke="#333" stroke-width="3.6" />
<rect x="263.68" y="1976.02" width="35.30" height="10.26" fill="#E64B35" />
<rect x="263.68" y="1986.29" width="35.30" height="113.41" fill="#4DBBD5" />
<line x1="281.3" y1="2115.7" x2="281.3" y2="2121.3" stroke="#333" stroke-width="3.6" />
<rect x="302.73" y="1984.73" width="35.30" height="15.65" fill="#E64B35" />
<rect x="302.73" y="2000.38" width="35.30" height="99.32" fill="#4DBBD5" />
<line x1="320.4" y1="2115.7" x2="320.4" y2="2121.3" stroke="#333" stroke-width="3.6" />
<rect x="341.78" y="1956.12" width="35.30" height="20.47" fill="#E64B35" />
<rect x="341.78" y="1976.59" width="35.30" height="123.11" fill="#4DBBD5" />
<line x1="359.4" y1="2115.7" x2="359.4" y2="2121.3" stroke="#333" stroke-width="3.6" />
<rect x="380.82" y="2005.26" width="35.30" height="16.17" fill="#E64B35" />
<rect x="380.82" y="2021.43" width="35.30" height="78.27" fill="#4DBBD5" />
<line x1="398.5" y1="2115.7" x2="398.5" y2="2121.3" stroke="#333" stroke-width="3.6" />
<rect x="419.87" y="1994.37" width="35.30" height="22.19" fill="#E64B35" />
<rect x="419.87" y="2016.56" width="35.30" height="83.14" fill="#4DBBD5" />
<line x1="437.5" y1="2115.7" x2="437.5" y2="2121.3" stroke="#333" stroke-width="3.6" />
<rect x="458.92" y="1994.37" width="35.30" height="22.70" fill="#E64B35" />
<rect x="458.92" y="2017.08" width="35.30" height="82.62" fill="#4DBBD5" />
<line x1="476.6" y1="2115.7" x2="476.6" y2="2121.3" stroke="#333" stroke-width="3.6" />
<rect x="497.96" y="2013.86" width="35.30" height="21.56" fill="#E64B35" />
<rect x="497.96" y="2035.42" width="35.30" height="64.28" fill="#4DBBD5" />
<line x1="515.6" y1="2115.7" x2="515.6" y2="2121.3" stroke="#333" stroke-width="3.6" />
<rect x="537.01" y="2058.65" width="35.30" height="10.26" fill="#E64B35" />
<rect x="537.01" y="2068.91" width="35.30" height="30.79" fill="#4DBBD5" />
<line x1="554.7" y1="2115.7" x2="554.7" y2="2121.3" stroke="#333" stroke-width="3.6" />
<rect x="576.05" y="1996.55" width="35.30" height="25.92" fill="#E64B35" />
<rect x="576.05" y="2022.47" width="35.30" height="77.23" fill="#4DBBD5" />
<line x1="593.7" y1="2115.7" x2="593.7" y2="2121.3" stroke="#333" stroke-width="3.6" />
<rect x="615.10" y="1977.68" width="35.30" height="34.00" fill="#E64B35" />
<rect x="615.10" y="2011.68" width="35.30" height="88.02" fill="#4DBBD5" />
<line x1="632.7" y1="2115.7" x2="632.7" y2="2121.3" stroke="#333" stroke-width="3.6" />
<rect x="654.15" y="1949.07" width="35.30" height="43.23" fill="#E64B35" />
<rect x="654.15" y="1992.30" width="35.30" height="107.40" fill="#4DBBD5" />
<line x1="671.8" y1="2115.7" x2="671.8" y2="2121.3" stroke="#333" stroke-width="3.6" />
<rect x="693.19" y="1999.24" width="35.30" height="31.93" fill="#E64B35" />
<rect x="693.19" y="2031.17" width="35.30" height="68.53" fill="#4DBBD5" />
<line x1="710.8" y1="2115.7" x2="710.8" y2="2121.3" stroke="#333" stroke-width="3.6" />
<rect x="732.24" y="1938.29" width="35.30" height="54.53" fill="#E64B35" />
<rect x="732.24" y="1992.82" width="35.30" height="106.88" fill="#4DBBD5" />
<line x1="749.9" y1="2115.7" x2="749.9" y2="2121.3" stroke="#333" stroke-width="3.6" />
<rect x="771.28" y="1994.37" width="35.30" height="37.84" fill="#E64B35" />
<rect x="771.28" y="2032.21" width="35.30" height="67.49" fill="#4DBBD5" />
<line x1="788.9" y1="2115.7" x2="788.9" y2="2121.3" stroke="#333" stroke-width="3.6" />
<rect x="810.33" y="2076.48" width="35.30" height="8.09" fill="#E64B35" />
<rect x="810.33" y="2084.56" width="35.30" height="15.14" fill="#4DBBD5" />
<line x1="828.0" y1="2115.7" x2="828.0" y2="2121.3" stroke="#333" stroke-width="3.6" />
<rect x="849.38" y="1899.41" width="35.30" height="91.23" fill="#E64B35" />
<rect x="849.38" y="1990.64" width="35.30" height="109.06" fill="#4DBBD5" />
<line x1="867.0" y1="2115.7" x2="867.0" y2="2121.3" stroke="#333" stroke-width="3.6" />
<rect x="888.42" y="1861.05" width="35.30" height="122.54" fill="#E64B35" />
<rect x="888.42" y="1983.59" width="35.30" height="116.11" fill="#4DBBD5" />
<line x1="906.1" y1="2115.7" x2="906.1" y2="2121.3" stroke="#333" stroke-width="3.6" />
<rect x="927.47" y="1923.67" width="35.30" height="90.71" fill="#E64B35" />
<rect x="927.47" y="2014.38" width="35.30" height="85.32" fill="#4DBBD5" />
<line x1="945.1" y1="2115.7" x2="945.1" y2="2121.3" stroke="#333" stroke-width="3.6" />
<rect x="966.52" y="1911.23" width="35.30" height="99.94" fill="#E64B35" />
<rect x="966.52" y="2011.17" width="35.30" height="88.53" fill="#4DBBD5" />
<line x1="984.2" y1="2115.7" x2="984.2" y2="2121.3" stroke="#333" stroke-width="3.6" />
<rect x="1005.56" y="1866.96" width="35.30" height="127.41" fill="#E64B35" />
<rect x="1005.56" y="1994.37" width="35.30" height="105.33" fill="#4DBBD5" />
<line x1="1023.2" y1="2115.7" x2="1023.2" y2="2121.3" stroke="#333" stroke-width="3.6" />
<rect x="1044.61" y="1954.98" width="35.30" height="80.45" fill="#E64B35" />
<rect x="1044.61" y="2035.42" width="35.30" height="64.28" fill="#4DBBD5" />
<line x1="1062.3" y1="2115.7" x2="1062.3" y2="2121.3" stroke="#333" stroke-width="3.6" />
<rect x="1083.65" y="1942.02" width="35.30" height="92.37" fill="#E64B35" />
<rect x="1083.65" y="2034.39" width="35.30" height="65.31" fill="#4DBBD5" />
<line x1="1101.3" y1="2115.7" x2="1101.3" y2="2121.3" stroke="#333" stroke-width="3.6" />
<rect x="1122.70" y="1801.13" width="35.30" height="176.55" fill="#E64B35" />
<rect x="1122.70" y="1977.68" width="35.30" height="122.02" fill="#4DBBD5" />
<line x1="1140.3" y1="2115.7" x2="1140.3" y2="2121.3" stroke="#333" stroke-width="3.6" />
<rect x="1161.75" y="1932.27" width="35.30" height="98.90" fill="#E64B35" />
<rect x="1161.75" y="2031.17" width="35.30" height="68.53" fill="#4DBBD5" />
<line x1="1179.4" y1="2115.7" x2="1179.4" y2="2121.3" stroke="#333" stroke-width="3.6" />
<rect x="1200.79" y="1904.80" width="35.30" height="118.18" fill="#E64B35" />
<rect x="1200.79" y="2022.98" width="35.30" height="76.72" fill="#4DBBD5" />
<line x1="1218.4" y1="2115.7" x2="1218.4" y2="2121.3" stroke="#333" stroke-width="3.6" />
<rect x="1239.84" y="1780.60" width="35.30" height="199.25" fill="#E64B35" />
<rect x="1239.84" y="1979.86" width="35.30" height="119.84" fill="#4DBBD5" />
<line x1="1257.5" y1="2115.7" x2="1257.5" y2="2121.3" stroke="#333" stroke-width="3.6" />
<rect x="1278.88" y="1942.02" width="35.30" height="104.19" fill="#E64B35" />
<rect x="1278.88" y="2046.21" width="35.30" height="53.49" fill="#4DBBD5" />
<line x1="1296.5" y1="2115.7" x2="1296.5" y2="2121.3" stroke="#333" stroke-width="3.6" />
<rect x="1317.93" y="2081.35" width="35.30" height="11.87" fill="#E64B35" />
<rect x="1317.93" y="2093.22" width="35.30" height="6.48" fill="#4DBBD5" />
<line x1="1335.6" y1="2115.7" x2="1335.6" y2="2121.3" stroke="#333" stroke-width="3.6" />
<rect x="1356.98" y="1898.27" width="35.30" height="139.33" fill="#E64B35" />
<rect x="1356.98" y="2037.60" width="35.30" height="62.10" fill="#4DBBD5" />
<line x1="1374.6" y1="2115.7" x2="1374.6" y2="2121.3" stroke="#333" stroke-width="3.6" />
<rect x="1396.02" y="1902.10" width="35.30" height="148.97" fill="#E64B35" />
<rect x="1396.02" y="2051.08" width="35.30" height="48.62" fill="#4DBBD5" />
<line x1="1413.7" y1="2115.7" x2="1413.7" y2="2121.3" stroke="#333" stroke-width="3.6" />
<rect x="1435.07" y="2039.78" width="35.30" height="46.44" fill="#E64B35" />
<rect x="1435.07" y="2086.22" width="35.30" height="13.48" fill="#4DBBD5" />
<line x1="1452.7" y1="2115.7" x2="1452.7" y2="2121.3" stroke="#333" stroke-width="3.6" />
<rect x="1474.12" y="1958.19" width="35.30" height="115.07" fill="#E64B35" />
<rect x="1474.12" y="2073.26" width="35.30" height="26.44" fill="#4DBBD5" />
<line x1="1491.8" y1="2115.7" x2="1491.8" y2="2121.3" stroke="#333" stroke-width="3.6" />
<rect x="1513.16" y="1824.87" width="35.30" height="227.35" fill="#E64B35" />
<rect x="1513.16" y="2052.22" width="35.30" height="47.48" fill="#4DBBD5" />
<line x1="1530.8" y1="2115.7" x2="1530.8" y2="2121.3" stroke="#333" stroke-width="3.6" />
<rect x="1552.21" y="1971.15" width="35.30" height="116.11" fill="#E64B35" />
<rect x="1552.21" y="2087.26" width="35.30" height="12.44" fill="#4DBBD5" />
<line x1="1569.9" y1="2115.7" x2="1569.9" y2="2121.3" stroke="#333" stroke-width="3.6" />
<rect x="1591.25" y="1959.85" width="35.30" height="127.41" fill="#E64B35" />
<rect x="1591.25" y="2087.26" width="35.30" height="12.44" fill="#4DBBD5" />
<line x1="1608.9" y1="2115.7" x2="1608.9" y2="2121.3" stroke="#333" stroke-width="3.6" />
<rect x="1630.30" y="1981.52" width="35.30" height="116.63" fill="#E64B35" />
<rect x="1630.30" y="2098.14" width="35.30" height="1.56" fill="#4DBBD5" />
<line x1="1648.0" y1="2115.7" x2="1648.0" y2="2121.3" stroke="#333" stroke-width="3.6" />
<path d="M101.8,1764 V2115.7 H1671.0" fill="none" stroke="#000" stroke-width="3.2" stroke-linejoin="round"/>
<line x1="96.1" y1="2099.7" x2="101.8" y2="2099.7" stroke="#333" stroke-width="3.6" />
<text x="91.0" y="2107.6" font-size="20" text-anchor="end"  >0</text>
<line x1="96.1" y1="1996.0" x2="101.8" y2="1996.0" stroke="#333" stroke-width="3.6" />
<text x="91.0" y="2000.8" font-size="17.0" text-anchor="end"  >10000</text>
<line x1="96.1" y1="1892.4" x2="101.8" y2="1892.4" stroke="#333" stroke-width="3.6" />
<text x="91.0" y="1897.2" font-size="17.0" text-anchor="end"  >20000</text>
<line x1="96.1" y1="1788.7" x2="101.8" y2="1788.7" stroke="#333" stroke-width="3.6" />
<text x="91.0" y="1793.5" font-size="17.0" text-anchor="end"  >30000</text>
<text transform="translate(23.1,1956.2) rotate(-90)" font-size="20.55" text-anchor="middle">Number of CNV per patient</text>
<rect x="107.10" y="1797.10" width="27.00" height="26.80" fill="#E64B35" />
<rect x="260.90" y="1795.00" width="27.10" height="26.80" fill="#4DBBD5" />
<text x="145.6" y="1816.2" font-size="16.8" text-anchor="start"  >Branch</text>
<text x="299.6" y="1814.4" font-size="16.8" text-anchor="start"  >Trunk</text>
<rect x="108.90" y="2192.90" width="35.30" height="4.70" fill="#E64B35" />
<rect x="108.90" y="2197.60" width="35.30" height="230.30" fill="#4DBBD5" />
<line x1="126.6" y1="2439.4" x2="126.6" y2="2445.0" stroke="#333" stroke-width="3.6" />
<text transform="translate(135.2,2458.0) rotate(-60)" font-size="16.7" text-anchor="end">P06</text>
<rect x="147.98" y="2192.90" width="35.30" height="7.05" fill="#E64B35" />
<rect x="147.98" y="2199.95" width="35.30" height="227.95" fill="#4DBBD5" />
<line x1="165.6" y1="2439.4" x2="165.6" y2="2445.0" stroke="#333" stroke-width="3.6" />
<text transform="translate(174.3,2458.0) rotate(-60)" font-size="16.7" text-anchor="end">P01</text>
<rect x="187.06" y="2192.90" width="35.30" height="9.40" fill="#E64B35" />
<rect x="187.06" y="2202.30" width="35.30" height="225.60" fill="#4DBBD5" />
<line x1="204.7" y1="2439.4" x2="204.7" y2="2445.0" stroke="#333" stroke-width="3.6" />
<text transform="translate(213.4,2458.0) rotate(-60)" font-size="16.7" text-anchor="end">P36</text>
<rect x="226.14" y="2192.90" width="35.30" height="16.45" fill="#E64B35" />
<rect x="226.14" y="2209.35" width="35.30" height="218.55" fill="#4DBBD5" />
<line x1="243.8" y1="2439.4" x2="243.8" y2="2445.0" stroke="#333" stroke-width="3.6" />
<text transform="translate(252.5,2458.0) rotate(-60)" font-size="16.7" text-anchor="end">P34</text>
<rect x="265.22" y="2192.90" width="35.30" height="21.15" fill="#E64B35" />
<rect x="265.22" y="2214.05" width="35.30" height="213.85" fill="#4DBBD5" />
<line x1="282.9" y1="2439.4" x2="282.9" y2="2445.0" stroke="#333" stroke-width="3.6" />
<text transform="translate(291.6,2458.0) rotate(-60)" font-size="16.7" text-anchor="end">P14</text>
<rect x="304.30" y="2192.90" width="35.30" height="32.90" fill="#E64B35" />
<rect x="304.30" y="2225.80" width="35.30" height="202.10" fill="#4DBBD5" />
<line x1="321.9" y1="2439.4" x2="321.9" y2="2445.0" stroke="#333" stroke-width="3.6" />
<text transform="translate(330.6,2458.0) rotate(-60)" font-size="16.7" text-anchor="end">P37</text>
<rect x="343.38" y="2192.90" width="35.30" height="32.90" fill="#E64B35" />
<rect x="343.38" y="2225.80" width="35.30" height="202.10" fill="#4DBBD5" />
<line x1="361.0" y1="2439.4" x2="361.0" y2="2445.0" stroke="#333" stroke-width="3.6" />
<text transform="translate(369.7,2458.0) rotate(-60)" font-size="16.7" text-anchor="end">P04</text>
<rect x="382.46" y="2192.90" width="35.30" height="42.30" fill="#E64B35" />
<rect x="382.46" y="2235.20" width="35.30" height="192.70" fill="#4DBBD5" />
<line x1="400.1" y1="2439.4" x2="400.1" y2="2445.0" stroke="#333" stroke-width="3.6" />
<text transform="translate(408.8,2458.0) rotate(-60)" font-size="16.7" text-anchor="end">P28</text>
<rect x="421.54" y="2192.90" width="35.30" height="49.35" fill="#E64B35" />
<rect x="421.54" y="2242.25" width="35.30" height="185.65" fill="#4DBBD5" />
<line x1="439.2" y1="2439.4" x2="439.2" y2="2445.0" stroke="#333" stroke-width="3.6" />
<text transform="translate(447.9,2458.0) rotate(-60)" font-size="16.7" text-anchor="end">P22</text>
<rect x="460.62" y="2192.90" width="35.30" height="49.35" fill="#E64B35" />
<rect x="460.62" y="2242.25" width="35.30" height="185.65" fill="#4DBBD5" />
<line x1="478.3" y1="2439.4" x2="478.3" y2="2445.0" stroke="#333" stroke-width="3.6" />
<text transform="translate(487.0,2458.0) rotate(-60)" font-size="16.7" text-anchor="end">P33</text>
<rect x="499.69" y="2192.90" width="35.30" height="58.75" fill="#E64B35" />
<rect x="499.69" y="2251.65" width="35.30" height="176.25" fill="#4DBBD5" />
<line x1="517.3" y1="2439.4" x2="517.3" y2="2445.0" stroke="#333" stroke-width="3.6" />
<text transform="translate(526.0,2458.0) rotate(-60)" font-size="16.7" text-anchor="end">P23</text>
<rect x="538.77" y="2192.90" width="35.30" height="58.75" fill="#E64B35" />
<rect x="538.77" y="2251.65" width="35.30" height="176.25" fill="#4DBBD5" />
<line x1="556.4" y1="2439.4" x2="556.4" y2="2445.0" stroke="#333" stroke-width="3.6" />
<text transform="translate(565.1,2458.0) rotate(-60)" font-size="16.7" text-anchor="end">P18</text>
<rect x="577.85" y="2192.90" width="35.30" height="58.75" fill="#E64B35" />
<rect x="577.85" y="2251.65" width="35.30" height="176.25" fill="#4DBBD5" />
<line x1="595.5" y1="2439.4" x2="595.5" y2="2445.0" stroke="#333" stroke-width="3.6" />
<text transform="translate(604.2,2458.0) rotate(-60)" font-size="16.7" text-anchor="end">P10</text>
<rect x="616.93" y="2192.90" width="35.30" height="65.80" fill="#E64B35" />
<rect x="616.93" y="2258.70" width="35.30" height="169.20" fill="#4DBBD5" />
<line x1="634.6" y1="2439.4" x2="634.6" y2="2445.0" stroke="#333" stroke-width="3.6" />
<text transform="translate(643.3,2458.0) rotate(-60)" font-size="16.7" text-anchor="end">P25</text>
<rect x="656.01" y="2192.90" width="35.30" height="68.15" fill="#E64B35" />
<rect x="656.01" y="2261.05" width="35.30" height="166.85" fill="#4DBBD5" />
<line x1="673.7" y1="2439.4" x2="673.7" y2="2445.0" stroke="#333" stroke-width="3.6" />
<text transform="translate(682.4,2458.0) rotate(-60)" font-size="16.7" text-anchor="end">P27</text>
<rect x="695.09" y="2192.90" width="35.30" height="75.20" fill="#E64B35" />
<rect x="695.09" y="2268.10" width="35.30" height="159.80" fill="#4DBBD5" />
<line x1="712.7" y1="2439.4" x2="712.7" y2="2445.0" stroke="#333" stroke-width="3.6" />
<text transform="translate(721.4,2458.0) rotate(-60)" font-size="16.7" text-anchor="end">P35</text>
<rect x="734.17" y="2192.90" width="35.30" height="79.90" fill="#E64B35" />
<rect x="734.17" y="2272.80" width="35.30" height="155.10" fill="#4DBBD5" />
<line x1="751.8" y1="2439.4" x2="751.8" y2="2445.0" stroke="#333" stroke-width="3.6" />
<text transform="translate(760.5,2458.0) rotate(-60)" font-size="16.7" text-anchor="end">P31</text>
<rect x="773.25" y="2192.90" width="35.30" height="84.60" fill="#E64B35" />
<rect x="773.25" y="2277.50" width="35.30" height="150.40" fill="#4DBBD5" />
<line x1="790.9" y1="2439.4" x2="790.9" y2="2445.0" stroke="#333" stroke-width="3.6" />
<text transform="translate(799.6,2458.0) rotate(-60)" font-size="16.7" text-anchor="end">P09</text>
<rect x="812.33" y="2192.90" width="35.30" height="86.95" fill="#E64B35" />
<rect x="812.33" y="2279.85" width="35.30" height="148.05" fill="#4DBBD5" />
<line x1="830.0" y1="2439.4" x2="830.0" y2="2445.0" stroke="#333" stroke-width="3.6" />
<text transform="translate(838.7,2458.0) rotate(-60)" font-size="16.7" text-anchor="end">P39</text>
<rect x="851.41" y="2192.90" width="35.30" height="108.10" fill="#E64B35" />
<rect x="851.41" y="2301.00" width="35.30" height="126.90" fill="#4DBBD5" />
<line x1="869.1" y1="2439.4" x2="869.1" y2="2445.0" stroke="#333" stroke-width="3.6" />
<text transform="translate(877.8,2458.0) rotate(-60)" font-size="16.7" text-anchor="end">P13</text>
<rect x="890.49" y="2192.90" width="35.30" height="119.85" fill="#E64B35" />
<rect x="890.49" y="2312.75" width="35.30" height="115.15" fill="#4DBBD5" />
<line x1="908.1" y1="2439.4" x2="908.1" y2="2445.0" stroke="#333" stroke-width="3.6" />
<text transform="translate(916.8,2458.0) rotate(-60)" font-size="16.7" text-anchor="end">P24</text>
<rect x="929.57" y="2192.90" width="35.30" height="122.20" fill="#E64B35" />
<rect x="929.57" y="2315.10" width="35.30" height="112.80" fill="#4DBBD5" />
<line x1="947.2" y1="2439.4" x2="947.2" y2="2445.0" stroke="#333" stroke-width="3.6" />
<text transform="translate(955.9,2458.0) rotate(-60)" font-size="16.7" text-anchor="end">P32</text>
<rect x="968.65" y="2192.90" width="35.30" height="124.55" fill="#E64B35" />
<rect x="968.65" y="2317.45" width="35.30" height="110.45" fill="#4DBBD5" />
<line x1="986.3" y1="2439.4" x2="986.3" y2="2445.0" stroke="#333" stroke-width="3.6" />
<text transform="translate(995.0,2458.0) rotate(-60)" font-size="16.7" text-anchor="end">P12</text>
<rect x="1007.73" y="2192.90" width="35.30" height="129.25" fill="#E64B35" />
<rect x="1007.73" y="2322.15" width="35.30" height="105.75" fill="#4DBBD5" />
<line x1="1025.4" y1="2439.4" x2="1025.4" y2="2445.0" stroke="#333" stroke-width="3.6" />
<text transform="translate(1034.1,2458.0) rotate(-60)" font-size="16.7" text-anchor="end">P30</text>
<rect x="1046.81" y="2192.90" width="35.30" height="131.60" fill="#E64B35" />
<rect x="1046.81" y="2324.50" width="35.30" height="103.40" fill="#4DBBD5" />
<line x1="1064.5" y1="2439.4" x2="1064.5" y2="2445.0" stroke="#333" stroke-width="3.6" />
<text transform="translate(1073.2,2458.0) rotate(-60)" font-size="16.7" text-anchor="end">P08</text>
<rect x="1085.89" y="2192.90" width="35.30" height="138.65" fill="#E64B35" />
<rect x="1085.89" y="2331.55" width="35.30" height="96.35" fill="#4DBBD5" />
<line x1="1103.5" y1="2439.4" x2="1103.5" y2="2445.0" stroke="#333" stroke-width="3.6" />
<text transform="translate(1112.2,2458.0) rotate(-60)" font-size="16.7" text-anchor="end">P11</text>
<rect x="1124.97" y="2192.90" width="35.30" height="138.65" fill="#E64B35" />
<rect x="1124.97" y="2331.55" width="35.30" height="96.35" fill="#4DBBD5" />
<line x1="1142.6" y1="2439.4" x2="1142.6" y2="2445.0" stroke="#333" stroke-width="3.6" />
<text transform="translate(1151.3,2458.0) rotate(-60)" font-size="16.7" text-anchor="end">P05</text>
<rect x="1164.05" y="2192.90" width="35.30" height="138.65" fill="#E64B35" />
<rect x="1164.05" y="2331.55" width="35.30" height="96.35" fill="#4DBBD5" />
<line x1="1181.7" y1="2439.4" x2="1181.7" y2="2445.0" stroke="#333" stroke-width="3.6" />
<text transform="translate(1190.4,2458.0) rotate(-60)" font-size="16.7" text-anchor="end">P07</text>
<rect x="1203.13" y="2192.90" width="35.30" height="143.35" fill="#E64B35" />
<rect x="1203.13" y="2336.25" width="35.30" height="91.65" fill="#4DBBD5" />
<line x1="1220.8" y1="2439.4" x2="1220.8" y2="2445.0" stroke="#333" stroke-width="3.6" />
<text transform="translate(1229.5,2458.0) rotate(-60)" font-size="16.7" text-anchor="end">P29</text>
<rect x="1242.21" y="2192.90" width="35.30" height="148.05" fill="#E64B35" />
<rect x="1242.21" y="2340.95" width="35.30" height="86.95" fill="#4DBBD5" />
<line x1="1259.9" y1="2439.4" x2="1259.9" y2="2445.0" stroke="#333" stroke-width="3.6" />
<text transform="translate(1268.6,2458.0) rotate(-60)" font-size="16.7" text-anchor="end">P02</text>
<rect x="1281.28" y="2192.90" width="35.30" height="155.10" fill="#E64B35" />
<rect x="1281.28" y="2348.00" width="35.30" height="79.90" fill="#4DBBD5" />
<line x1="1298.9" y1="2439.4" x2="1298.9" y2="2445.0" stroke="#333" stroke-width="3.6" />
<text transform="translate(1307.6,2458.0) rotate(-60)" font-size="16.7" text-anchor="end">P38</text>
<rect x="1320.36" y="2192.90" width="35.30" height="159.80" fill="#E64B35" />
<rect x="1320.36" y="2352.70" width="35.30" height="75.20" fill="#4DBBD5" />
<line x1="1338.0" y1="2439.4" x2="1338.0" y2="2445.0" stroke="#333" stroke-width="3.6" />
<text transform="translate(1346.7,2458.0) rotate(-60)" font-size="16.7" text-anchor="end">P03</text>
<rect x="1359.44" y="2192.90" width="35.30" height="164.50" fill="#E64B35" />
<rect x="1359.44" y="2357.40" width="35.30" height="70.50" fill="#4DBBD5" />
<line x1="1377.1" y1="2439.4" x2="1377.1" y2="2445.0" stroke="#333" stroke-width="3.6" />
<text transform="translate(1385.8,2458.0) rotate(-60)" font-size="16.7" text-anchor="end">P40</text>
<rect x="1398.52" y="2192.90" width="35.30" height="178.60" fill="#E64B35" />
<rect x="1398.52" y="2371.50" width="35.30" height="56.40" fill="#4DBBD5" />
<line x1="1416.2" y1="2439.4" x2="1416.2" y2="2445.0" stroke="#333" stroke-width="3.6" />
<text transform="translate(1424.9,2458.0) rotate(-60)" font-size="16.7" text-anchor="end">P16</text>
<rect x="1437.60" y="2192.90" width="35.30" height="185.65" fill="#E64B35" />
<rect x="1437.60" y="2378.55" width="35.30" height="49.35" fill="#4DBBD5" />
<line x1="1455.3" y1="2439.4" x2="1455.3" y2="2445.0" stroke="#333" stroke-width="3.6" />
<text transform="translate(1464.0,2458.0) rotate(-60)" font-size="16.7" text-anchor="end">P21</text>
<rect x="1476.68" y="2192.90" width="35.30" height="192.70" fill="#E64B35" />
<rect x="1476.68" y="2385.60" width="35.30" height="42.30" fill="#4DBBD5" />
<line x1="1494.3" y1="2439.4" x2="1494.3" y2="2445.0" stroke="#333" stroke-width="3.6" />
<text transform="translate(1503.0,2458.0) rotate(-60)" font-size="16.7" text-anchor="end">P26</text>
<rect x="1515.76" y="2192.90" width="35.30" height="195.05" fill="#E64B35" />
<rect x="1515.76" y="2387.95" width="35.30" height="39.95" fill="#4DBBD5" />
<line x1="1533.4" y1="2439.4" x2="1533.4" y2="2445.0" stroke="#333" stroke-width="3.6" />
<text transform="translate(1542.1,2458.0) rotate(-60)" font-size="16.7" text-anchor="end">P15</text>
<rect x="1554.84" y="2192.90" width="35.30" height="213.85" fill="#E64B35" />
<rect x="1554.84" y="2406.75" width="35.30" height="21.15" fill="#4DBBD5" />
<line x1="1572.5" y1="2439.4" x2="1572.5" y2="2445.0" stroke="#333" stroke-width="3.6" />
<text transform="translate(1581.2,2458.0) rotate(-60)" font-size="16.7" text-anchor="end">P17</text>
<rect x="1593.92" y="2192.90" width="35.30" height="216.20" fill="#E64B35" />
<rect x="1593.92" y="2409.10" width="35.30" height="18.80" fill="#4DBBD5" />
<line x1="1611.6" y1="2439.4" x2="1611.6" y2="2445.0" stroke="#333" stroke-width="3.6" />
<text transform="translate(1620.3,2458.0) rotate(-60)" font-size="16.7" text-anchor="end">P19</text>
<rect x="1633.00" y="2192.90" width="35.30" height="232.65" fill="#E64B35" />
<rect x="1633.00" y="2425.55" width="35.30" height="2.35" fill="#4DBBD5" />
<line x1="1650.6" y1="2439.4" x2="1650.6" y2="2445.0" stroke="#333" stroke-width="3.6" />
<text transform="translate(1659.3,2458.0) rotate(-60)" font-size="16.7" text-anchor="end">P20</text>
<path d="M103.7,2181.4 V2439.4 H1673.7" fill="none" stroke="#000" stroke-width="3.2" stroke-linejoin="round"/>
<line x1="98.0" y1="2427.9" x2="103.7" y2="2427.9" stroke="#333" stroke-width="3.6" />
<text x="94.0" y="2432.4" font-size="17.0" text-anchor="end"  >0.00</text>
<line x1="98.0" y1="2369.2" x2="103.7" y2="2369.2" stroke="#333" stroke-width="3.6" />
<text x="94.0" y="2373.7" font-size="17.0" text-anchor="end"  >0.25</text>
<line x1="98.0" y1="2310.4" x2="103.7" y2="2310.4" stroke="#333" stroke-width="3.6" />
<text x="94.0" y="2314.9" font-size="17.0" text-anchor="end"  >0.50</text>
<line x1="98.0" y1="2251.7" x2="103.7" y2="2251.7" stroke="#333" stroke-width="3.6" />
<text x="94.0" y="2256.2" font-size="17.0" text-anchor="end"  >0.75</text>
<line x1="98.0" y1="2192.9" x2="103.7" y2="2192.9" stroke="#333" stroke-width="3.6" />
<text x="94.0" y="2197.4" font-size="17.0" text-anchor="end"  >1.00</text>
<text transform="translate(27.0,2318.2) rotate(-90)" font-size="20.2" text-anchor="middle">Percentage of subclonal CNV</text>
</g>
</svg>
</body></html>
